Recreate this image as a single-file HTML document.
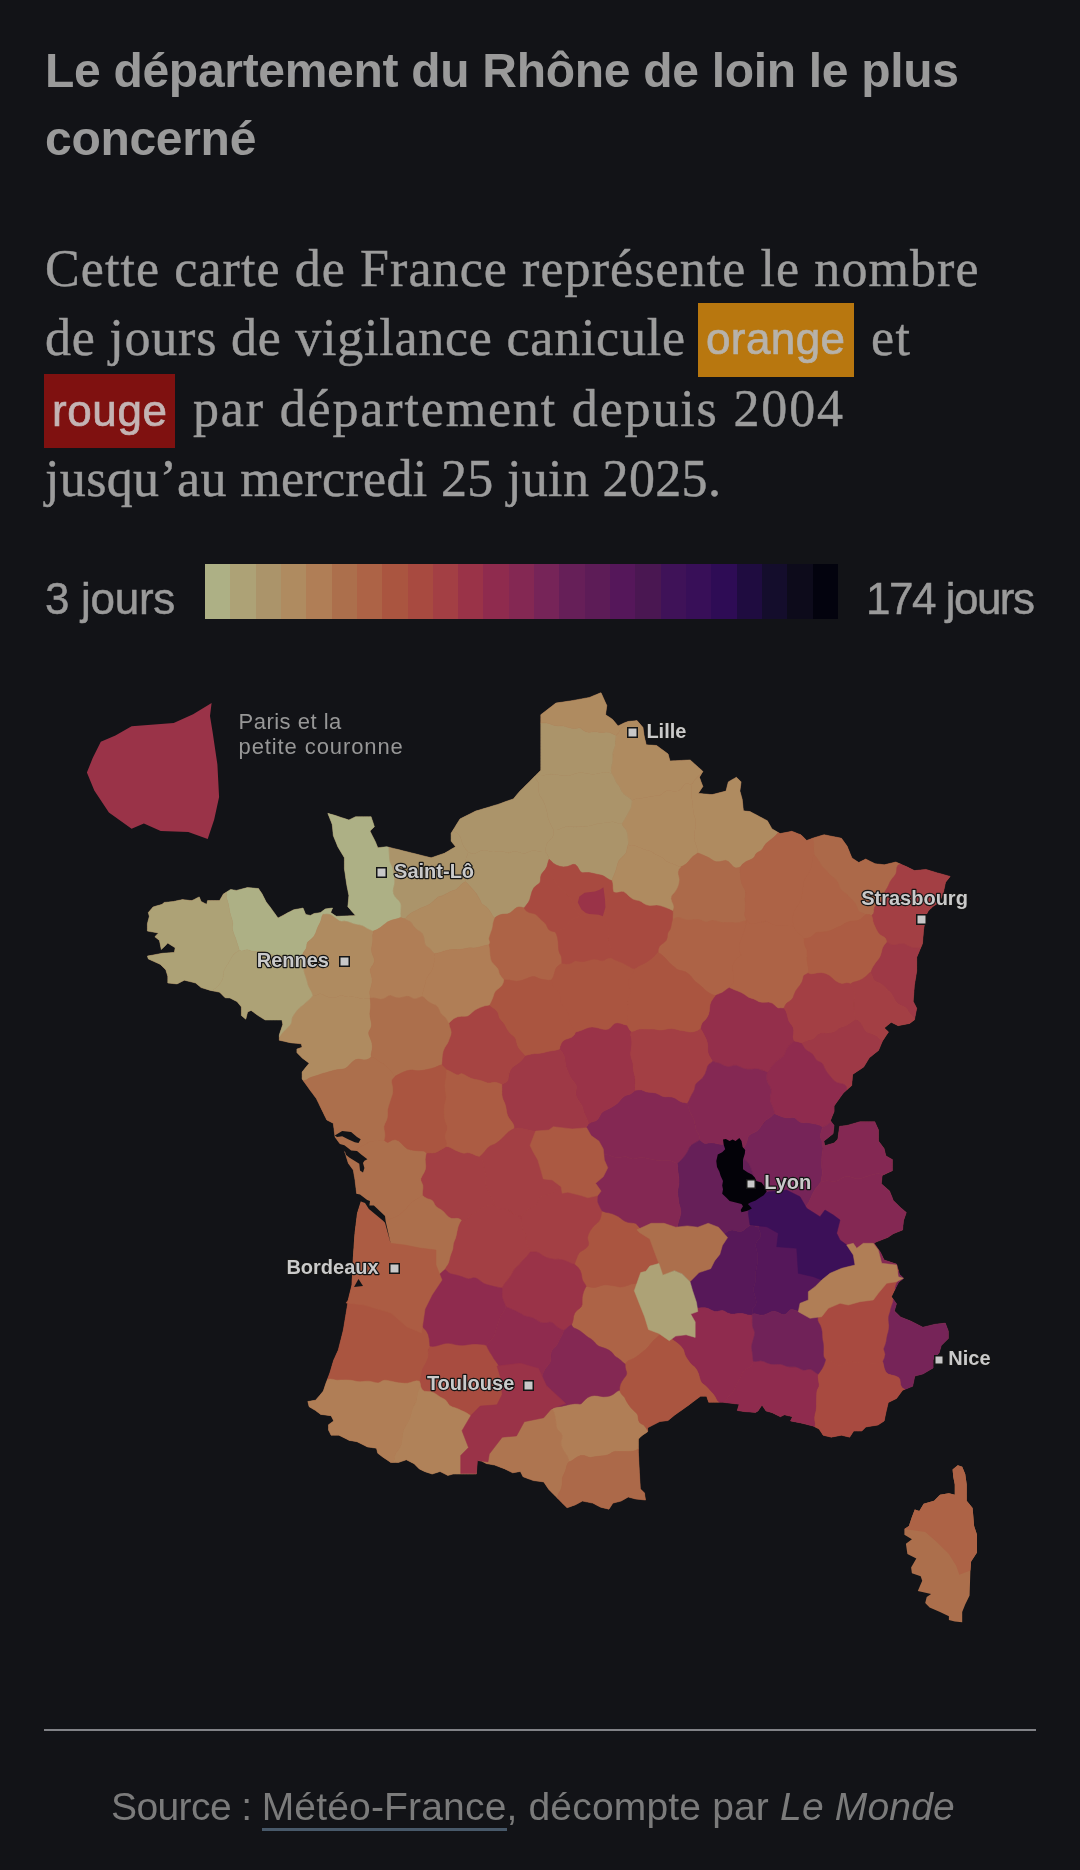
<!DOCTYPE html>
<html lang="fr">
<head>
<meta charset="utf-8">
<style>
html,body{margin:0;padding:0;}
body{width:1080px;height:1870px;background:#121317;overflow:hidden;position:relative;font-family:"Liberation Sans",sans-serif;}
.abs{position:absolute;white-space:nowrap;will-change:transform;}
#title{left:45px;top:37px;font-weight:700;font-size:48px;line-height:68px;color:#9a9a9a;letter-spacing:-0.3px;}
.body{font-family:"Liberation Serif",serif;font-size:52px;line-height:70px;color:#9c9c9c;left:45px;-webkit-text-stroke:0.45px #9c9c9c;}
.hl{font-family:"Liberation Sans",sans-serif;font-size:44px;line-height:50px;-webkit-text-stroke:0.7px currentColor;}
#leg3{left:45px;top:574px;font-size:44px;line-height:50px;-webkit-text-stroke:0.5px currentColor;color:#9a9a9a;letter-spacing:-0.3px;}
#leg174{left:866px;top:574px;font-size:44px;line-height:50px;-webkit-text-stroke:0.5px currentColor;color:#9a9a9a;letter-spacing:-1.5px;}
#legbar{left:205px;top:564px;width:633px;height:55px;display:flex;}
#legbar div{flex:1;height:100%;}
#sep{left:44px;top:1729px;width:992px;height:2px;background:#818287;}
#src{left:111px;top:1784px;font-size:39px;line-height:45px;letter-spacing:0.17px;color:#7b7b7b;}
#src u{text-decoration:none;border-bottom:3px solid #48596a;padding-bottom:0px;}
</style>
</head>
<body>
<div id="title" class="abs">Le département du Rhône de loin le plus<br>concerné</div>

<div class="abs body" style="top:234px;letter-spacing:1.08px">Cette carte de France représente le nombre</div>
<div class="abs body" style="top:303px;letter-spacing:0.76px">de jours de vigilance canicule</div>
<div class="abs" style="left:698px;top:303px;width:156px;height:74px;background:#b8770f;"></div>
<div class="abs hl" style="left:706px;top:314px;color:#b7b2aa;letter-spacing:0.4px">orange</div>
<div class="abs body" style="left:871px;top:303px;letter-spacing:1.4px">et</div>
<div class="abs" style="left:44px;top:374px;width:131px;height:74px;background:#7f1110;"></div>
<div class="abs hl" style="left:52px;top:386px;color:#c4b4b4;letter-spacing:0.6px">rouge</div>
<div class="abs body" style="left:193px;top:374px;letter-spacing:1.84px">par département depuis 2004</div>
<div class="abs body" style="top:444px;letter-spacing:0.34px">jusqu’au mercredi 25 juin 2025.</div>

<div id="leg3" class="abs">3 jours</div>
<div id="legbar" class="abs">
<div style="background:#adb085"></div>
<div style="background:#ada276"></div>
<div style="background:#ab946a"></div>
<div style="background:#af8b60"></div>
<div style="background:#b07e56"></div>
<div style="background:#ac6f4c"></div>
<div style="background:#ad6346"></div>
<div style="background:#aa5540"></div>
<div style="background:#a84a40"></div>
<div style="background:#a33f44"></div>
<div style="background:#9a3348"></div>
<div style="background:#8f2b4e"></div>
<div style="background:#842853"></div>
<div style="background:#762458"></div>
<div style="background:#661f58"></div>
<div style="background:#5d1c57"></div>
<div style="background:#55175a"></div>
<div style="background:#4a1752"></div>
<div style="background:#3f1258"></div>
<div style="background:#380f58"></div>
<div style="background:#2e0c55"></div>
<div style="background:#1f0c40"></div>
<div style="background:#140d2c"></div>
<div style="background:#0d0b1b"></div>
<div style="background:#03030e"></div>
</div>
<div id="leg174" class="abs">174 jours</div>

<svg class="abs" style="left:0;top:0" width="1080" height="1870" viewBox="0 0 1080 1870" id="map">
<polygon points="540.8,714.7 555.9,703.1 573.2,700.4 589.4,697.4 601.0,692.7 606.8,705.5 605.6,714.7 612.6,719.4 618.0,726.0 624.0,723.0 628.0,721.5 637.0,720.6 640.0,724.0 643.0,727.5 644.0,735.0 646.2,744.8 656.6,745.5 668.1,754.0 670.0,761.0 690.1,759.9 702.9,771.4 699.4,777.2 702.9,786.5 698.2,793.4 712.1,794.6 726.0,791.1 728.3,781.9 736.4,777.2 741.1,781.9 739.9,791.1 742.2,799.2 743.4,810.8 750.0,811.6 754.6,813.9 767.4,820.8 772.0,828.9 780.1,833.6 791.7,831.3 800.9,834.7 806.7,840.5 812.5,838.2 824.1,834.7 841.4,838.2 847.2,846.3 851.9,857.9 858.8,862.5 865.7,859.0 875.0,863.7 884.3,864.8 895.8,862.0 907.4,867.1 914.4,870.6 925.9,869.4 937.5,872.9 950.2,876.4 945.6,882.2 943.3,892.6 939.8,901.9 932.9,906.5 928.2,911.1 925.9,915.7 923.6,929.6 922.5,943.5 916.7,957.4 916.7,971.3 914.4,985.2 913.2,1001.4 916.7,1008.3 914.4,1019.9 909.7,1023.4 898.1,1025.7 891.2,1022.2 884.3,1028.0 888.5,1032.0 882.5,1041.0 878.5,1050.4 869.3,1057.8 863.7,1067.0 852.6,1074.4 851.7,1085.6 843.3,1093.0 834.1,1105.9 834.1,1111.5 830.4,1120.7 834.1,1125.4 833.1,1133.7 823.9,1141.1 824.8,1145.7 834.1,1143.0 837.8,1139.3 839.6,1126.3 847.0,1125.4 860.0,1121.7 874.8,1121.7 878.5,1130.0 878.5,1141.1 884.1,1148.5 885.9,1155.9 892.4,1159.6 892.4,1170.7 882.2,1175.4 881.3,1183.7 889.6,1191.1 893.3,1200.4 900.7,1207.8 906.3,1212.4 903.5,1220.7 902.6,1230.0 893.3,1233.7 887.8,1237.4 878.5,1241.1 873.9,1243.0 880.4,1252.2 884.2,1260.0 896.5,1264.1 899.5,1274.3 903.6,1278.3 898.5,1282.4 895.4,1288.5 891.4,1296.7 896.5,1303.8 894.4,1310.9 900.5,1317.0 910.7,1321.1 922.9,1327.2 935.2,1324.2 945.3,1323.1 948.4,1331.3 948.4,1338.4 941.3,1345.5 939.2,1352.7 933.1,1359.8 933.1,1368.0 922.9,1374.0 914.8,1376.1 912.7,1386.3 902.6,1390.3 896.5,1398.5 888.3,1402.6 886.3,1410.7 884.2,1420.9 878.1,1425.0 865.9,1427.0 861.8,1431.1 853.7,1431.1 849.6,1437.2 841.5,1435.2 831.3,1437.2 823.1,1435.2 819.1,1429.0 813.0,1426.0 800.7,1422.9 790.5,1420.9 792.6,1416.8 784.4,1414.8 780.4,1416.8 772.2,1412.7 766.0,1411.0 762.0,1405.0 758.0,1411.0 755.5,1412.5 743.3,1411.5 737.2,1410.4 739.2,1404.3 722.9,1402.3 708.7,1402.3 706.6,1396.2 700.5,1396.2 688.3,1405.4 674.1,1415.5 668.0,1420.6 659.8,1421.6 647.6,1427.8 647.6,1431.8 641.5,1435.9 638.4,1439.0 638.4,1452.2 639.4,1472.6 640.4,1488.9 644.5,1493.0 645.5,1500.1 635.4,1499.0 628.2,1497.0 621.1,1501.1 613.0,1503.1 608.9,1509.2 600.7,1507.2 592.6,1503.1 582.4,1501.1 575.0,1505.0 567.0,1507.8 559.3,1500.0 548.9,1489.6 543.7,1481.9 533.3,1480.6 523.0,1476.7 520.4,1471.5 512.6,1472.8 504.8,1468.9 494.5,1465.0 486.7,1463.7 481.5,1461.1 476.3,1459.8 476.3,1474.1 460.7,1474.1 453.0,1474.1 447.8,1475.4 440.0,1471.5 432.2,1474.1 424.5,1471.5 419.3,1468.9 414.1,1463.7 406.3,1459.8 398.5,1462.4 390.7,1462.4 383.0,1457.2 377.8,1453.3 376.5,1448.2 367.4,1446.9 357.0,1441.7 349.3,1440.4 338.9,1435.2 331.1,1435.2 328.5,1430.0 328.5,1424.8 333.7,1420.9 331.1,1415.7 320.7,1414.4 315.6,1410.6 309.1,1406.7 307.8,1401.5 315.6,1400.2 323.3,1391.1 325.9,1383.3 329.8,1373.0 333.7,1360.0 338.3,1350.0 343.3,1330.0 348.3,1300.0 352.0,1285.0 353.3,1258.3 355.0,1233.3 357.5,1213.3 361.7,1200.0 356.7,1194.2 355.0,1180.0 353.3,1170.0 348.3,1163.3 345.8,1155.0 343.3,1148.3 335.0,1137.0 333.3,1123.3 326.8,1120.0 316.2,1098.3 310.9,1091.3 302.1,1079.0 302.1,1072.0 309.2,1063.2 302.1,1057.9 296.9,1052.6 296.9,1049.1 302.1,1047.3 301.3,1043.8 291.6,1042.9 279.3,1040.3 279.3,1035.0 281.0,1029.7 282.8,1024.4 281.9,1020.0 265.2,1020.0 258.1,1015.6 251.1,1010.4 247.6,1012.1 245.8,1019.2 241.4,1015.6 241.4,1006.9 237.0,1001.6 230.0,998.0 225.2,997.8 219.6,992.2 210.4,990.4 201.1,987.6 195.6,983.0 184.4,980.2 177.0,983.9 167.8,983.0 167.8,976.5 165.9,970.0 160.4,964.4 148.3,958.9 147.4,956.1 162.2,953.3 174.3,952.4 175.2,947.8 167.8,943.1 161.3,949.6 159.4,940.4 154.8,936.7 158.5,933.0 147.4,931.1 147.4,923.7 149.3,916.3 148.3,912.6 153.0,907.0 162.2,904.3 164.1,902.4 173.3,901.5 182.6,899.6 191.9,900.6 199.3,896.9 201.1,901.5 206.7,904.3 207.6,900.6 219.6,900.6 223.3,894.1 230.7,889.4 236.3,890.4 247.4,887.6 258.5,888.5 262.2,894.1 265.9,901.5 271.5,908.9 278.0,918.1 288.1,912.6 293.7,909.8 303.0,908.0 305.7,914.4 310.4,915.4 314.1,913.5 320.6,912.6 325.2,908.9 332.6,908.0 330.7,912.6 336.3,916.3 355.6,915.6 347.8,906.7 348.9,895.6 346.7,884.4 344.4,868.9 344.4,857.8 337.8,846.7 333.3,835.6 332.2,824.4 327.8,813.3 335.6,815.6 348.9,820.0 355.6,816.7 371.1,816.7 374.4,826.7 370.0,831.1 375.6,842.2 377.8,847.8 386.7,846.7 408.9,852.2 431.1,857.8 444.4,853.3 455.6,846.7 451.1,841.1 451.1,833.3 460.0,818.9 475.6,811.1 497.8,804.4 513.3,798.9 520.0,791.1 531.1,780.0 540.8,770.3" fill="#ad6346"/>
<path d="M774.2,1113.5 L772.2,1115.4 L770.3,1117.2 L768.5,1118.5 L766.4,1119.7 L764.1,1121.8 L761.8,1124.9 L759.6,1128.3 L757.4,1130.8 L754.7,1132.3 L751.9,1133.4 L749.4,1135.0 L748.0,1137.0 L747.4,1139.0 L747.0,1141.3 L745.8,1144.2 L743.6,1147.8 L741.0,1151.1 L740.7,1153.4 L741.3,1156.0 L742.9,1158.2 L745.1,1159.9 L747.0,1161.4 L748.7,1163.3 L750.2,1166.4 L751.6,1170.2 L752.7,1173.7 L753.7,1176.2 L754.7,1177.8 L756.1,1179.4 L757.8,1181.9 L759.1,1185.3 L759.7,1189.0 L760.0,1192.2 L761.1,1194.8 L763.3,1197.2 L766.3,1199.7 L769.0,1202.5 L770.6,1205.0 L771.5,1207.1 L772.4,1209.1 L773.8,1211.7 L775.3,1215.0 L778.3,1216.0 L781.1,1216.8 L784.0,1216.9 L787.0,1216.4 L790.2,1215.8 L793.1,1215.4 L795.6,1215.3 L797.6,1215.4 L798.0,1212.9 L799.2,1211.2 L801.6,1209.5 L804.5,1207.4 L806.9,1205.0 L808.5,1202.8 L809.7,1200.3 L811.1,1197.2 L812.8,1193.6 L814.4,1190.5 L815.7,1188.5 L817.0,1187.0 L818.7,1185.0 L820.8,1182.0 L821.5,1178.3 L822.1,1174.9 L822.3,1172.3 L822.1,1170.1 L821.8,1167.7 L821.7,1164.5 L821.7,1160.6 L821.9,1156.5 L822.2,1153.1 L822.7,1150.6 L823.0,1148.8 L822.7,1146.8 L822.2,1144.0 L821.9,1140.8 L820.5,1137.5 L820.7,1133.6 L821.7,1130.0 L822.8,1126.9 L819.9,1125.3 L816.8,1124.3 L814.0,1123.7 L811.4,1123.2 L808.9,1122.7 L806.2,1122.6 L803.4,1122.7 L800.7,1122.3 L798.4,1121.0 L796.6,1119.2 L794.9,1117.8 L792.6,1117.5 L789.4,1117.8 L785.6,1117.7 L781.9,1116.7 L778.9,1115.4 L776.5,1114.4Z" fill="#762458" stroke="#762458" stroke-width="0.5"/>
<path d="M628.1,844.6 L629.8,845.2 L631.6,845.0 L634.2,845.4 L637.7,846.7 L641.9,848.6 L645.8,850.1 L649.0,850.8 L651.3,851.6 L653.4,852.9 L655.8,854.4 L658.4,855.7 L660.9,856.8 L662.8,858.1 L664.6,859.8 L666.7,861.5 L669.4,862.8 L672.5,863.8 L675.6,864.9 L678.2,866.2 L680.6,867.0 L683.7,865.4 L686.3,863.8 L688.4,861.6 L690.6,858.9 L693.1,856.3 L695.8,854.4 L697.9,853.0 L697.6,850.5 L697.0,847.8 L696.0,844.8 L695.0,841.7 L694.3,838.6 L694.2,835.5 L694.6,832.2 L695.2,828.8 L695.7,825.3 L695.8,822.0 L695.4,819.2 L694.7,816.7 L693.9,814.2 L693.3,811.4 L693.0,808.2 L692.8,804.7 L692.4,801.4 L691.8,798.6 L691.3,796.2 L691.2,793.8 L691.4,791.1 L691.6,787.9 L690.9,784.4 L687.9,783.5 L685.6,783.7 L683.5,785.6 L681.3,788.5 L678.6,790.8 L675.3,791.6 L671.8,791.1 L668.5,790.5 L665.9,791.0 L663.7,792.5 L661.8,794.3 L659.6,795.5 L656.9,795.8 L653.8,796.0 L650.3,796.4 L646.6,797.2 L642.8,798.0 L639.3,798.4 L636.2,798.7 L633.8,799.4 L632.0,800.8 L631.6,804.1 L631.0,807.3 L629.8,810.1 L628.4,812.6 L626.9,815.2 L625.3,818.1 L623.6,821.0 L621.8,823.5 L622.4,825.6 L623.6,827.1 L625.0,828.6 L626.4,830.8 L627.3,833.7 L627.8,837.2 L628.0,840.9Z" fill="#af8b60" stroke="#af8b60" stroke-width="0.5"/>
<path d="M677.3,1163.6 L679.2,1162.0 L681.8,1159.5 L684.9,1155.8 L687.4,1152.0 L688.9,1149.1 L689.7,1147.2 L691.0,1145.6 L693.4,1143.8 L696.7,1141.9 L700.0,1140.0 L699.6,1136.7 L698.4,1134.1 L697.0,1131.8 L695.9,1129.3 L695.3,1126.2 L694.7,1122.7 L693.9,1119.4 L692.6,1116.7 L691.2,1114.3 L689.9,1111.9 L688.9,1109.1 L688.1,1106.1 L687.4,1103.3 L684.7,1102.5 L682.4,1102.2 L680.4,1101.6 L678.2,1100.2 L675.4,1098.3 L672.0,1097.0 L668.4,1096.7 L665.1,1096.8 L662.2,1096.2 L659.2,1094.6 L655.9,1093.1 L652.2,1092.4 L648.8,1092.3 L646.0,1091.8 L643.8,1090.8 L641.6,1089.9 L638.8,1089.8 L635.2,1090.3 L632.3,1092.7 L630.0,1094.2 L627.9,1094.8 L625.5,1095.5 L623.1,1097.1 L621.0,1099.3 L619.1,1101.6 L617.2,1103.5 L614.8,1105.2 L611.6,1107.2 L608.1,1109.1 L605.0,1110.5 L602.7,1111.8 L601.1,1113.6 L599.7,1116.2 L598.0,1118.9 L595.9,1120.8 L593.5,1121.6 L591.0,1122.3 L588.5,1123.7 L586.9,1126.2 L585.2,1128.5 L584.1,1130.5 L583.7,1132.8 L583.8,1136.0 L583.7,1140.1 L582.9,1144.3 L583.6,1148.3 L583.9,1151.2 L584.3,1152.9 L585.1,1154.0 L588.2,1154.2 L591.6,1155.0 L594.9,1156.1 L597.7,1156.6 L600.3,1156.0 L602.9,1154.9 L605.9,1154.5 L609.4,1155.3 L613.2,1156.7 L617.1,1157.5 L620.6,1157.2 L623.6,1156.7 L626.2,1156.8 L628.6,1157.8 L631.0,1158.8 L633.7,1158.9 L636.8,1158.2 L640.0,1157.5 L643.4,1157.5 L646.8,1158.2 L649.9,1159.1 L652.7,1159.6 L655.2,1159.9 L657.7,1160.2 L660.4,1160.5 L663.3,1160.6 L666.4,1160.5 L669.5,1160.6 L672.4,1161.2 L674.9,1162.4Z" fill="#842853" stroke="#842853" stroke-width="0.5"/>
<path d="M893.3,1299.3 L892.3,1298.0 L891.4,1296.7 L892.7,1294.1 L893.9,1291.5 L895.2,1289.0 L895.7,1286.0 L896.5,1283.7 L897.4,1281.7 L898.5,1279.8 L898.2,1276.5 L898.1,1273.3 L898.5,1270.8 L898.0,1269.2 L895.3,1267.3 L891.9,1267.4 L888.4,1268.9 L885.2,1269.9 L882.6,1269.6 L880.5,1268.3 L878.5,1266.8 L875.9,1265.9 L872.7,1265.9 L868.9,1266.3 L865.0,1266.9 L861.6,1267.4 L859.0,1267.8 L856.8,1267.9 L854.6,1267.5 L852.1,1266.8 L849.0,1266.1 L845.4,1265.9 L843.9,1268.7 L842.2,1270.9 L840.3,1272.9 L838.5,1275.3 L837.4,1278.3 L837.0,1281.4 L836.6,1284.2 L835.4,1286.8 L833.0,1289.6 L830.2,1292.5 L827.7,1295.0 L825.9,1296.4 L824.6,1297.3 L823.2,1298.6 L821.7,1300.9 L820.5,1303.9 L819.9,1306.9 L819.4,1309.4 L819.3,1312.7 L818.4,1315.7 L817.7,1318.2 L817.7,1320.4 L818.7,1322.7 L820.2,1325.3 L821.3,1328.4 L822.0,1331.7 L822.1,1334.7 L822.2,1337.3 L822.5,1339.6 L823.0,1342.1 L823.4,1345.1 L823.5,1348.7 L823.4,1352.2 L823.4,1355.0 L823.8,1357.0 L824.6,1358.3 L825.6,1359.7 L828.2,1359.5 L831.1,1361.0 L834.5,1363.5 L838.2,1365.3 L841.8,1365.2 L845.2,1363.6 L848.1,1361.9 L850.6,1361.4 L852.9,1361.9 L855.3,1362.5 L857.9,1362.5 L860.8,1361.9 L863.9,1361.6 L867.0,1362.2 L870.2,1363.2 L873.3,1363.8 L876.5,1363.3 L879.7,1362.4 L882.8,1361.7 L884.6,1357.8 L885.3,1354.3 L884.7,1351.7 L884.0,1349.9 L883.9,1348.4 L884.7,1346.4 L885.7,1343.8 L886.4,1340.8 L886.8,1337.9 L887.4,1335.1 L888.2,1332.3 L888.9,1329.1 L889.1,1325.4 L888.8,1321.9 L888.6,1318.9 L888.7,1316.6 L889.2,1314.5 L890.1,1311.9 L890.7,1309.0 L891.7,1305.7 L893.1,1302.1Z" fill="#a84a40" stroke="#a84a40" stroke-width="0.5"/>
<path d="M895.2,1289.0 L895.4,1288.5 L896.4,1286.5 L897.5,1284.4 L898.5,1282.4 L900.2,1281.0 L901.9,1279.7 L903.6,1278.3 L901.5,1276.3 L899.5,1274.3 L899.0,1272.6 L898.5,1270.8 L898.1,1273.3 L898.2,1276.5 L898.5,1279.8 L897.4,1281.7 L896.5,1283.7 L895.7,1286.0ZM882.8,1361.7 L883.5,1365.0 L884.4,1368.8 L885.8,1372.1 L888.1,1374.1 L891.6,1375.1 L895.4,1376.0 L898.5,1377.4 L899.9,1379.4 L900.2,1381.8 L900.5,1384.7 L902.0,1387.7 L904.8,1389.4 L907.4,1388.4 L910.1,1387.3 L912.7,1386.3 L913.2,1383.8 L913.8,1381.2 L914.3,1378.6 L914.8,1376.1 L917.5,1375.4 L920.2,1374.7 L922.9,1374.0 L925.5,1372.5 L928.0,1371.0 L930.5,1369.5 L933.1,1368.0 L933.1,1365.3 L933.1,1362.5 L933.1,1359.8 L934.6,1358.0 L936.2,1356.2 L937.7,1354.5 L939.2,1352.7 L939.9,1350.3 L940.6,1347.9 L941.3,1345.5 L943.1,1343.7 L944.8,1342.0 L946.6,1340.2 L948.4,1338.4 L948.4,1336.0 L948.4,1333.7 L948.4,1331.3 L947.4,1328.6 L946.3,1325.8 L945.3,1323.1 L942.8,1323.4 L940.2,1323.7 L937.7,1323.9 L935.2,1324.2 L932.7,1324.8 L930.3,1325.4 L927.8,1326.0 L925.4,1326.6 L922.9,1327.2 L920.5,1326.0 L918.0,1324.8 L915.6,1323.5 L913.1,1322.3 L910.7,1321.1 L908.2,1320.1 L905.6,1319.0 L903.0,1318.0 L900.5,1317.0 L898.5,1315.0 L896.4,1312.9 L894.4,1310.9 L895.1,1308.5 L895.8,1306.2 L896.5,1303.8 L894.9,1301.6 L893.3,1299.3 L893.1,1302.1 L891.7,1305.7 L890.7,1309.0 L890.1,1311.9 L889.2,1314.5 L888.7,1316.6 L888.6,1318.9 L888.8,1321.9 L889.1,1325.4 L888.9,1329.1 L888.2,1332.3 L887.4,1335.1 L886.8,1337.9 L886.4,1340.8 L885.7,1343.8 L884.7,1346.4 L883.9,1348.4 L884.0,1349.9 L884.7,1351.7 L885.3,1354.3 L884.6,1357.8Z" fill="#762458" stroke="#762458" stroke-width="0.5"/>
<path d="M752.7,1313.9 L752.3,1311.0 L752.5,1309.0 L753.7,1307.4 L755.3,1305.4 L756.3,1302.5 L755.9,1299.0 L754.7,1295.2 L753.7,1291.6 L753.6,1288.3 L754.4,1285.2 L755.3,1282.0 L755.7,1278.8 L755.7,1275.6 L755.7,1272.8 L756.0,1270.3 L756.5,1267.9 L757.0,1265.3 L757.5,1262.4 L757.8,1259.2 L757.7,1255.9 L757.2,1252.5 L756.3,1249.1 L755.6,1245.9 L756.0,1242.9 L757.5,1240.4 L759.5,1238.2 L760.8,1236.2 L760.7,1233.8 L759.4,1230.8 L758.0,1227.2 L755.3,1226.2 L752.6,1225.2 L749.8,1225.5 L746.9,1227.4 L744.0,1229.9 L741.2,1231.5 L738.3,1231.5 L735.2,1230.5 L732.0,1229.9 L728.8,1230.7 L725.9,1232.4 L723.2,1234.0 L720.5,1234.6 L717.7,1234.4 L714.5,1234.2 L711.0,1234.6 L707.7,1235.6 L704.7,1236.5 L702.3,1236.9 L700.1,1237.1 L697.5,1237.4 L694.3,1238.2 L690.5,1239.4 L686.5,1240.2 L683.0,1240.7 L680.2,1240.8 L678.0,1241.0 L677.2,1242.7 L676.4,1244.7 L676.3,1248.9 L675.4,1252.6 L673.9,1255.2 L672.7,1257.0 L672.4,1258.7 L672.8,1261.1 L673.2,1264.4 L672.8,1267.9 L671.9,1270.9 L670.9,1273.6 L670.0,1276.3 L669.1,1279.5 L668.2,1283.0 L667.7,1286.3 L669.0,1288.9 L670.1,1291.8 L670.9,1294.7 L671.1,1297.1 L671.4,1299.1 L672.2,1300.9 L674.0,1303.0 L677.9,1302.8 L681.5,1303.2 L684.3,1304.1 L686.4,1305.0 L688.1,1305.8 L690.0,1306.6 L692.4,1307.3 L695.5,1307.9 L698.8,1308.0 L702.0,1307.7 L705.2,1307.7 L708.2,1308.6 L711.4,1310.2 L714.6,1311.4 L717.7,1311.4 L720.3,1310.8 L722.6,1310.5 L724.9,1311.4 L727.5,1313.0 L730.8,1314.1 L734.6,1314.1 L738.5,1313.6 L742.2,1313.5 L745.3,1314.2 L747.8,1315.0 L750.0,1315.2 L752.1,1315.2Z" fill="#571859" stroke="#571859" stroke-width="0.5"/>
<path d="M740.3,867.0 L742.7,864.0 L746.2,861.5 L749.9,859.9 L752.8,858.5 L754.5,856.7 L755.5,854.5 L756.8,852.9 L758.8,851.8 L760.9,850.7 L762.7,848.8 L764.1,846.3 L765.8,843.8 L768.5,841.4 L772.0,838.8 L775.4,835.8 L777.4,833.5 L778.2,832.5 L776.1,831.3 L774.1,830.1 L772.0,828.9 L770.9,826.9 L769.7,824.8 L768.5,822.8 L767.4,820.8 L764.8,819.4 L762.3,818.0 L759.7,816.7 L757.2,815.3 L754.6,813.9 L752.3,812.8 L750.0,811.6 L747.8,811.3 L745.6,811.1 L743.4,810.8 L743.1,807.9 L742.8,805.0 L742.5,802.1 L742.2,799.2 L741.4,796.5 L740.7,793.8 L739.9,791.1 L740.2,788.8 L740.5,786.5 L740.8,784.2 L741.1,781.9 L739.5,780.3 L738.0,778.8 L736.4,777.2 L734.4,778.4 L732.3,779.5 L730.3,780.7 L728.3,781.9 L727.7,784.2 L727.1,786.5 L726.6,788.8 L726.0,791.1 L723.2,791.8 L720.4,792.5 L717.7,793.2 L714.9,793.9 L712.1,794.6 L709.3,794.4 L706.5,794.1 L703.8,793.9 L701.0,793.6 L698.2,793.4 L699.8,791.1 L701.3,788.8 L702.9,786.5 L702.0,784.2 L701.1,781.9 L700.3,779.5 L699.4,777.2 L700.6,775.3 L701.7,773.3 L702.9,771.4 L702.7,771.2 L701.0,773.3 L699.0,775.5 L697.0,777.6 L694.9,779.8 L693.8,781.6 L692.5,783.2 L690.9,784.4 L691.6,787.9 L691.4,791.1 L691.2,793.8 L691.3,796.2 L691.8,798.6 L692.4,801.4 L692.8,804.7 L693.0,808.2 L693.3,811.4 L693.9,814.2 L694.7,816.7 L695.4,819.2 L695.8,822.0 L695.7,825.3 L695.2,828.8 L694.6,832.2 L694.2,835.5 L694.3,838.6 L695.0,841.7 L696.0,844.8 L697.0,847.8 L697.6,850.5 L697.9,853.0 L700.4,853.9 L703.4,855.2 L706.4,856.5 L709.0,857.8 L711.2,859.2 L713.5,860.7 L716.2,861.8 L719.4,861.8 L722.7,860.9 L725.7,860.4 L728.3,861.5 L730.8,864.1 L733.2,866.7 L735.7,868.0 L738.1,867.7Z" fill="#af8b60" stroke="#af8b60" stroke-width="0.5"/>
<path d="M516.6,1399.9 L514.2,1402.0 L512.2,1403.5 L510.5,1404.4 L508.7,1405.2 L506.4,1406.9 L503.7,1409.6 L500.8,1412.4 L498.4,1414.4 L496.6,1415.8 L494.9,1417.0 L492.8,1418.5 L489.9,1420.1 L486.8,1421.7 L484.1,1423.2 L483.9,1426.2 L484.0,1429.8 L483.6,1433.7 L482.5,1437.3 L481.0,1440.2 L479.9,1442.6 L479.6,1445.0 L479.6,1447.8 L479.1,1451.0 L478.1,1453.8 L476.9,1455.9 L476.3,1457.4 L476.0,1460.3 L475.2,1462.4 L474.3,1464.8 L472.9,1467.4 L471.6,1470.4 L472.7,1474.1 L474.5,1474.1 L476.3,1474.1 L476.3,1471.2 L476.3,1468.4 L476.3,1465.5 L476.3,1462.7 L476.3,1459.8 L478.9,1460.4 L481.5,1461.1 L484.1,1462.4 L486.7,1463.7 L489.3,1464.1 L491.9,1464.6 L494.5,1465.0 L497.1,1466.0 L499.6,1467.0 L502.2,1467.9 L504.8,1468.9 L507.4,1470.2 L510.0,1471.5 L512.6,1472.8 L515.2,1472.4 L517.8,1471.9 L520.4,1471.5 L521.7,1474.1 L523.0,1476.7 L525.6,1477.7 L528.1,1478.7 L530.7,1479.6 L533.3,1480.6 L535.9,1480.9 L538.5,1481.2 L541.1,1481.6 L543.7,1481.9 L545.0,1483.8 L546.3,1485.8 L547.6,1487.7 L548.9,1489.6 L550.6,1491.3 L552.3,1493.0 L554.1,1494.8 L555.8,1496.5 L557.5,1498.2 L558.1,1494.5 L559.1,1492.5 L560.4,1490.7 L561.5,1488.0 L562.2,1484.6 L562.3,1481.1 L562.4,1478.2 L563.1,1475.9 L564.2,1473.8 L565.3,1471.3 L566.1,1468.5 L566.8,1465.8 L567.7,1463.7 L569.0,1461.8 L568.9,1459.4 L567.6,1456.3 L565.1,1452.5 L562.5,1448.3 L561.2,1444.5 L561.3,1441.1 L562.2,1438.2 L562.4,1435.6 L561.4,1433.3 L559.5,1431.3 L557.7,1429.5 L556.8,1427.5 L556.4,1424.6 L556.0,1420.8 L555.3,1416.4 L554.3,1412.5 L553.1,1410.0 L552.0,1408.7 L550.0,1409.2 L547.3,1408.7 L544.4,1406.8 L541.7,1404.3 L539.3,1402.1 L537.0,1400.5 L534.2,1398.9 L531.7,1399.4 L529.2,1399.5 L526.7,1399.5 L524.1,1399.5 L521.5,1399.6 L519.0,1399.8Z" fill="#ae7550" stroke="#ae7550" stroke-width="0.5"/>
<path d="M746.4,920.7 L744.3,920.6 L741.6,921.5 L738.4,922.3 L735.0,922.4 L731.7,922.0 L728.7,921.9 L725.6,922.1 L722.5,922.2 L719.2,921.6 L716.0,920.5 L712.9,919.9 L710.3,920.3 L708.0,921.3 L705.9,921.7 L703.6,921.0 L701.0,919.7 L697.8,918.9 L694.2,919.1 L690.3,919.7 L686.4,919.6 L682.9,918.5 L679.8,917.3 L677.2,917.0 L674.9,917.9 L672.5,919.4 L671.5,923.4 L670.9,927.0 L670.0,929.6 L668.8,931.3 L667.8,932.9 L667.4,935.0 L667.2,937.8 L666.1,940.5 L664.0,942.6 L661.4,944.4 L659.3,946.4 L658.3,949.2 L658.0,952.5 L661.4,954.6 L664.9,957.7 L667.7,960.8 L669.6,962.9 L671.0,964.3 L672.8,965.8 L674.9,967.6 L677.1,969.4 L679.3,970.3 L682.0,970.8 L685.2,971.8 L688.7,974.0 L691.5,976.9 L693.4,979.4 L694.6,981.0 L696.2,982.2 L698.5,983.9 L701.3,986.3 L703.9,988.8 L706.2,991.0 L708.4,992.6 L710.9,993.9 L713.4,994.9 L715.4,995.6 L718.1,994.4 L720.3,993.6 L722.3,992.7 L724.3,991.3 L726.7,989.4 L729.5,987.6 L731.7,984.8 L733.1,983.0 L733.6,981.2 L733.5,978.9 L733.4,976.0 L733.1,972.7 L732.8,969.2 L732.9,965.5 L734.1,961.9 L736.5,958.8 L739.2,956.7 L740.8,955.3 L740.8,954.0 L739.8,951.7 L739.1,948.3 L739.5,944.1 L740.7,940.1 L742.1,936.7 L743.3,933.5 L744.5,930.2 L745.6,926.7 L746.4,923.4Z" fill="#ad6346" stroke="#ad6346" stroke-width="0.5"/>
<path d="M619.5,1390.3 L617.6,1391.1 L615.6,1392.6 L613.0,1394.5 L609.9,1395.9 L606.5,1396.6 L603.2,1396.7 L600.2,1396.2 L597.3,1395.7 L594.3,1395.5 L591.0,1396.0 L587.7,1397.5 L584.8,1399.9 L582.7,1402.2 L581.2,1403.7 L579.9,1404.1 L577.9,1403.8 L574.7,1403.7 L570.3,1404.3 L565.5,1405.4 L561.0,1406.4 L557.6,1406.8 L555.2,1406.8 L553.6,1407.3 L552.0,1408.7 L553.1,1410.0 L554.3,1412.5 L555.3,1416.4 L556.0,1420.8 L556.4,1424.6 L556.8,1427.5 L557.7,1429.5 L559.5,1431.3 L561.4,1433.3 L562.4,1435.6 L562.2,1438.2 L561.3,1441.1 L561.2,1444.5 L562.5,1448.3 L565.1,1452.5 L567.6,1456.3 L568.9,1459.4 L569.0,1461.8 L571.1,1461.2 L573.9,1459.2 L577.2,1456.9 L580.8,1455.5 L584.1,1455.5 L586.8,1456.4 L588.8,1457.3 L590.8,1457.5 L593.2,1457.0 L596.4,1456.5 L600.2,1456.1 L604.1,1455.7 L607.5,1455.0 L610.1,1453.8 L611.9,1452.6 L613.7,1451.8 L615.8,1451.4 L618.6,1451.5 L622.0,1451.5 L625.7,1451.5 L629.2,1451.4 L632.5,1451.2 L635.7,1450.5 L638.4,1448.7 L638.4,1446.3 L638.4,1443.9 L638.4,1441.4 L638.4,1439.0 L640.0,1437.5 L641.5,1435.9 L643.5,1434.5 L645.6,1433.2 L647.6,1431.8 L647.6,1430.4 L645.7,1427.4 L643.7,1424.9 L641.7,1424.0 L639.8,1422.7 L638.6,1420.5 L638.2,1417.9 L637.9,1415.5 L636.8,1413.4 L634.4,1411.2 L631.2,1408.1 L628.3,1404.2 L626.1,1400.4 L624.7,1397.6 L623.4,1396.0 L622.2,1394.9 L620.9,1393.1Z" fill="#b07e56" stroke="#b07e56" stroke-width="0.5"/>
<path d="M667.6,1328.7 L667.8,1326.2 L667.5,1323.8 L667.6,1321.5 L668.7,1319.5 L670.5,1317.7 L672.3,1315.9 L673.5,1313.4 L673.9,1310.1 L673.9,1306.4 L674.0,1303.0 L672.2,1300.9 L671.4,1299.1 L671.1,1297.1 L670.9,1294.7 L670.1,1291.8 L669.0,1288.9 L667.7,1286.3 L664.9,1286.5 L662.1,1286.1 L658.9,1285.0 L655.5,1284.4 L651.9,1285.0 L648.6,1286.7 L645.8,1288.1 L643.5,1288.1 L641.3,1286.4 L638.7,1284.3 L635.4,1283.4 L631.4,1284.0 L627.1,1285.6 L623.1,1286.8 L619.9,1287.0 L617.4,1286.6 L615.3,1286.0 L613.3,1285.7 L610.9,1285.3 L608.0,1284.9 L605.0,1284.8 L601.9,1285.3 L599.1,1286.3 L596.3,1287.2 L593.2,1287.5 L589.9,1287.0 L586.2,1286.2 L584.7,1289.0 L583.6,1291.7 L582.8,1294.5 L582.2,1297.6 L582.1,1301.0 L582.1,1304.2 L581.4,1306.6 L579.6,1308.4 L577.1,1310.2 L574.8,1312.9 L573.6,1316.2 L573.2,1319.5 L572.6,1322.2 L571.5,1324.7 L572.5,1326.6 L573.9,1327.9 L576.6,1329.1 L580.2,1331.0 L583.7,1333.7 L586.5,1336.1 L588.5,1337.6 L590.3,1338.5 L592.3,1339.9 L594.4,1342.1 L596.6,1344.5 L598.9,1346.3 L601.9,1347.3 L605.6,1348.5 L609.3,1350.3 L612.1,1352.6 L613.7,1354.6 L614.7,1355.9 L616.1,1356.9 L618.1,1358.2 L620.5,1360.1 L622.8,1362.2 L625.1,1364.1 L626.8,1361.9 L628.6,1360.5 L630.9,1359.7 L633.7,1358.5 L636.8,1356.5 L640.0,1353.9 L642.8,1351.7 L645.2,1349.9 L647.3,1347.9 L649.5,1345.3 L651.7,1342.5 L653.7,1340.3 L655.5,1338.7 L657.5,1337.0 L659.9,1334.6 L662.8,1332.0 L665.5,1329.9Z" fill="#ad6346" stroke="#ad6346" stroke-width="0.5"/>
<path d="M818.2,1374.2 L815.4,1372.5 L812.9,1370.5 L810.5,1369.2 L808.1,1369.2 L805.6,1369.9 L803.1,1370.0 L800.7,1369.1 L798.2,1367.7 L795.4,1366.8 L792.4,1366.8 L789.2,1366.8 L786.3,1366.2 L783.5,1365.0 L780.7,1364.2 L777.6,1364.1 L774.0,1364.3 L770.3,1363.9 L766.6,1362.7 L763.5,1361.3 L760.7,1360.8 L758.3,1361.1 L755.8,1361.5 L753.3,1361.2 L752.5,1364.2 L751.3,1366.3 L749.4,1367.6 L746.7,1368.7 L744.2,1370.4 L742.4,1372.8 L741.5,1375.2 L740.6,1377.5 L739.2,1380.1 L737.2,1383.2 L735.5,1386.4 L734.4,1389.2 L733.5,1391.1 L732.3,1392.7 L730.2,1394.8 L727.7,1397.8 L725.6,1400.7 L724.7,1402.5 L727.6,1402.9 L730.5,1403.2 L733.4,1403.6 L736.3,1403.9 L739.2,1404.3 L738.5,1406.3 L737.9,1408.4 L737.2,1410.4 L739.2,1410.8 L741.3,1411.1 L743.3,1411.5 L745.7,1411.7 L748.2,1411.9 L750.6,1412.1 L753.1,1412.3 L755.5,1412.5 L758.0,1411.0 L759.3,1409.0 L760.7,1407.0 L762.0,1405.0 L763.3,1407.0 L764.7,1409.0 L766.0,1411.0 L768.1,1411.6 L770.1,1412.1 L772.2,1412.7 L774.2,1413.7 L776.3,1414.8 L778.4,1415.8 L780.4,1416.8 L782.4,1415.8 L784.4,1414.8 L787.1,1415.5 L789.9,1416.1 L792.6,1416.8 L791.5,1418.8 L790.5,1420.9 L793.0,1421.4 L795.6,1421.9 L798.2,1422.4 L800.7,1422.9 L803.2,1423.5 L805.6,1424.1 L808.1,1424.8 L810.5,1425.4 L813.0,1426.0 L815.1,1427.0 L815.4,1423.5 L814.8,1420.5 L814.7,1417.6 L815.1,1414.6 L815.8,1412.1 L816.2,1410.1 L816.4,1408.2 L816.5,1405.8 L816.5,1402.5 L816.6,1398.6 L816.7,1394.8 L816.9,1391.7 L817.5,1389.6 L818.3,1388.1 L819.0,1386.6 L819.2,1384.5 L818.7,1381.6 L818.2,1378.1Z" fill="#8f2b4e" stroke="#8f2b4e" stroke-width="0.5"/>
<path d="M400.6,917.4 L403.0,918.5 L405.3,918.8 L407.5,916.1 L410.1,913.7 L413.0,912.1 L415.8,910.8 L418.2,909.6 L420.4,908.3 L423.0,907.2 L426.2,906.1 L429.7,904.3 L432.9,901.8 L435.5,899.2 L437.3,897.4 L439.3,896.6 L441.8,895.9 L445.1,894.5 L448.6,892.6 L451.5,891.1 L453.7,890.4 L455.3,890.0 L457.1,888.8 L459.5,886.3 L462.4,883.5 L465.5,881.5 L465.7,879.4 L466.0,877.5 L466.3,875.3 L466.5,872.5 L466.4,869.0 L466.0,865.2 L465.7,861.5 L466.0,858.4 L466.9,856.1 L467.8,854.1 L468.2,852.1 L466.4,849.9 L464.4,847.4 L462.6,844.3 L461.5,840.9 L460.7,837.7 L459.3,835.2 L456.9,833.1 L454.4,831.4 L453.6,829.3 L452.3,831.3 L451.1,833.3 L451.1,835.9 L451.1,838.5 L451.1,841.1 L452.6,843.0 L454.1,844.8 L455.6,846.7 L453.4,848.0 L451.1,849.3 L448.9,850.7 L446.6,852.0 L444.4,853.3 L441.7,854.2 L439.1,855.1 L436.4,856.0 L433.8,856.9 L431.1,857.8 L428.3,857.1 L425.6,856.4 L422.8,855.7 L420.0,855.0 L417.2,854.3 L414.4,853.6 L411.7,852.9 L408.9,852.2 L406.3,851.6 L403.7,850.9 L401.2,850.3 L398.6,849.6 L396.0,849.0 L393.4,848.4 L390.8,847.7 L388.3,847.1 L388.7,849.9 L388.9,853.4 L389.0,857.0 L389.3,860.1 L389.9,862.4 L390.6,864.1 L391.5,865.8 L392.4,868.1 L393.2,871.4 L393.9,875.3 L394.3,879.3 L394.3,882.7 L393.8,885.7 L393.1,888.3 L392.8,890.9 L393.2,893.6 L394.6,896.3 L396.6,898.7 L398.7,900.8 L400.2,903.0 L400.8,905.8 L400.6,909.3 L400.4,913.4Z" fill="#ab946a" stroke="#ab946a" stroke-width="0.5"/>
<path d="M586.2,1286.2 L589.9,1287.0 L593.2,1287.5 L596.3,1287.2 L599.1,1286.3 L601.9,1285.3 L605.0,1284.8 L608.0,1284.9 L610.9,1285.3 L613.3,1285.7 L615.3,1286.0 L617.4,1286.6 L619.9,1287.0 L623.1,1286.8 L627.1,1285.6 L631.4,1284.0 L635.4,1283.4 L638.7,1284.3 L641.3,1286.4 L643.5,1288.1 L645.8,1288.1 L648.6,1286.7 L651.9,1285.0 L655.5,1284.4 L658.9,1285.0 L662.1,1286.1 L664.9,1286.5 L667.7,1286.3 L668.2,1283.0 L669.1,1279.5 L670.0,1276.3 L670.9,1273.6 L671.9,1270.9 L672.8,1267.9 L673.2,1264.4 L672.8,1261.1 L672.4,1258.7 L672.7,1257.0 L673.9,1255.2 L675.4,1252.6 L676.3,1248.9 L676.4,1244.7 L673.9,1243.2 L671.2,1241.4 L668.7,1239.4 L666.5,1237.5 L664.0,1236.5 L661.0,1236.5 L657.6,1236.7 L654.3,1236.0 L651.4,1234.4 L648.7,1232.6 L645.8,1231.3 L642.8,1230.0 L639.9,1228.0 L637.7,1225.5 L635.9,1223.6 L633.9,1222.9 L631.1,1222.8 L627.7,1222.3 L624.6,1221.1 L622.2,1219.4 L620.4,1218.0 L618.4,1216.6 L615.7,1215.2 L612.4,1213.8 L608.8,1212.8 L605.4,1212.2 L602.1,1211.0 L601.4,1213.6 L601.0,1216.4 L600.1,1219.2 L598.7,1221.6 L597.0,1223.3 L595.0,1224.8 L592.8,1227.2 L590.3,1230.6 L588.3,1234.5 L587.5,1237.9 L588.0,1240.6 L588.7,1243.0 L588.3,1245.6 L586.2,1248.1 L583.4,1250.0 L580.8,1251.4 L579.0,1253.2 L577.6,1255.8 L576.4,1258.9 L575.3,1261.8 L574.5,1264.3 L576.6,1266.1 L578.6,1268.1 L580.3,1270.7 L581.3,1273.8 L581.8,1276.7 L582.2,1279.1 L583.1,1281.2 L584.6,1283.4Z" fill="#aa5540" stroke="#aa5540" stroke-width="0.5"/>
<path d="M426.3,1153.0 L425.6,1155.9 L425.2,1159.2 L425.4,1162.6 L425.7,1165.9 L425.4,1169.2 L424.1,1172.5 L422.2,1175.7 L420.9,1178.5 L420.9,1180.8 L421.9,1182.9 L422.8,1185.2 L422.9,1188.0 L422.5,1191.5 L422.3,1195.2 L424.6,1197.2 L427.4,1198.7 L430.2,1199.5 L432.2,1200.4 L433.5,1202.1 L434.5,1204.3 L436.0,1206.5 L438.4,1208.2 L441.2,1209.8 L443.9,1212.1 L446.4,1214.9 L448.9,1217.3 L451.6,1218.5 L454.5,1218.5 L457.1,1218.3 L459.2,1218.8 L461.4,1220.2 L464.1,1219.8 L465.9,1219.8 L467.3,1219.1 L468.8,1217.5 L470.9,1215.6 L473.4,1213.8 L476.1,1212.3 L478.7,1210.6 L481.2,1208.6 L484.1,1206.7 L487.5,1205.6 L491.1,1205.3 L494.4,1205.1 L494.2,1202.8 L492.9,1199.8 L490.8,1195.9 L488.4,1191.5 L486.5,1187.1 L485.4,1183.5 L485.3,1181.2 L485.8,1179.8 L486.2,1178.7 L486.1,1176.8 L485.3,1173.6 L484.4,1169.6 L483.6,1165.7 L483.1,1162.6 L482.5,1160.4 L481.5,1158.7 L479.8,1156.6 L476.0,1155.4 L472.3,1153.8 L469.2,1152.8 L467.1,1152.6 L465.5,1153.1 L463.9,1153.2 L461.7,1152.7 L459.0,1151.7 L456.0,1150.4 L453.1,1149.1 L450.7,1147.8 L448.6,1146.8 L446.3,1146.4 L443.0,1148.4 L439.6,1150.5 L436.3,1152.2 L433.2,1153.0 L430.5,1153.0 L428.2,1152.8Z" fill="#a33f44" stroke="#a33f44" stroke-width="0.5"/>
<path d="M384.1,1140.1 L380.9,1140.7 L377.4,1140.9 L374.0,1141.0 L371.1,1141.4 L368.7,1142.3 L366.5,1143.6 L364.1,1144.9 L361.6,1146.1 L359.1,1147.6 L357.0,1149.3 L355.2,1151.0 L353.2,1152.3 L349.8,1152.9 L345.4,1153.8 L345.8,1155.0 L346.6,1157.8 L347.5,1160.5 L348.3,1163.3 L350.0,1165.5 L351.6,1167.8 L353.3,1170.0 L353.7,1172.5 L354.1,1175.0 L354.6,1177.5 L355.0,1180.0 L355.3,1182.8 L355.7,1185.7 L356.0,1188.5 L356.4,1191.4 L356.7,1194.2 L358.4,1196.1 L360.0,1198.1 L361.7,1200.0 L360.9,1202.7 L360.0,1205.3 L359.2,1208.0 L358.3,1210.6 L357.5,1213.3 L357.1,1216.2 L356.8,1219.0 L356.4,1221.9 L356.1,1224.7 L355.7,1227.6 L355.4,1230.4 L355.0,1233.3 L354.8,1236.2 L354.6,1239.0 L354.4,1241.9 L354.2,1244.7 L354.0,1247.6 L357.0,1245.2 L360.4,1243.2 L362.3,1241.8 L363.7,1239.9 L365.2,1237.7 L367.7,1236.0 L371.1,1235.0 L374.7,1234.1 L377.5,1232.8 L379.1,1231.2 L380.0,1229.6 L381.2,1228.0 L383.1,1226.0 L385.6,1223.4 L388.0,1220.8 L390.1,1219.1 L392.3,1218.3 L395.0,1217.3 L398.4,1215.4 L401.8,1212.7 L404.5,1210.3 L406.4,1208.4 L407.7,1206.8 L409.3,1204.8 L411.6,1202.4 L414.6,1200.3 L417.6,1198.7 L420.2,1197.1 L422.3,1195.2 L422.5,1191.5 L422.9,1188.0 L422.8,1185.2 L421.9,1182.9 L420.9,1180.8 L420.9,1178.5 L422.2,1175.7 L424.1,1172.5 L425.4,1169.2 L425.7,1165.9 L425.4,1162.6 L425.2,1159.2 L425.6,1155.9 L426.3,1153.0 L424.9,1151.6 L423.5,1151.0 L421.5,1150.9 L418.4,1150.8 L414.5,1150.5 L410.6,1149.8 L407.2,1148.7 L404.4,1146.6 L401.8,1143.8 L398.8,1141.0 L395.5,1139.6 L392.3,1140.1 L389.7,1141.5 L387.8,1142.4 L386.1,1141.8Z" fill="#ac6f4c" stroke="#ac6f4c" stroke-width="0.5"/>
<path d="M575.7,1031.9 L574.2,1035.0 L571.6,1037.3 L568.3,1038.5 L565.1,1039.5 L562.6,1041.3 L561.0,1043.8 L560.0,1046.5 L559.5,1049.1 L561.9,1052.1 L563.8,1055.3 L564.9,1058.5 L565.1,1061.3 L565.4,1064.0 L566.1,1066.9 L567.2,1069.9 L568.4,1072.9 L569.5,1075.6 L570.9,1078.1 L572.7,1080.5 L574.7,1082.9 L576.2,1085.4 L576.5,1088.1 L575.9,1090.8 L575.6,1093.8 L576.4,1097.0 L578.2,1100.3 L580.4,1103.3 L582.0,1105.9 L582.8,1108.1 L583.3,1110.4 L584.1,1112.9 L585.3,1115.7 L586.7,1118.6 L587.8,1121.2 L588.5,1123.7 L591.0,1122.3 L593.5,1121.6 L595.9,1120.8 L598.0,1118.9 L599.7,1116.2 L601.1,1113.6 L602.7,1111.8 L605.0,1110.5 L608.1,1109.1 L611.6,1107.2 L614.8,1105.2 L617.2,1103.5 L619.1,1101.6 L621.0,1099.3 L623.1,1097.1 L625.5,1095.5 L627.9,1094.8 L630.0,1094.2 L632.3,1092.7 L635.2,1090.3 L635.2,1087.2 L635.4,1083.5 L635.4,1079.8 L635.0,1076.5 L634.3,1073.9 L633.7,1071.5 L633.3,1069.2 L633.2,1066.6 L633.0,1063.8 L632.4,1061.0 L631.5,1058.4 L630.8,1055.8 L630.7,1053.1 L631.1,1049.8 L631.7,1046.0 L631.9,1042.1 L631.5,1038.7 L630.9,1036.2 L630.6,1034.7 L630.8,1033.4 L631.2,1031.6 L629.8,1030.0 L628.5,1027.7 L627.2,1025.2 L623.9,1024.4 L620.5,1023.3 L617.3,1022.8 L614.7,1023.3 L612.6,1025.0 L610.7,1027.2 L608.4,1029.0 L605.6,1029.6 L602.1,1029.1 L598.5,1028.1 L595.0,1027.2 L592.0,1026.9 L589.4,1027.3 L586.9,1028.1 L584.4,1029.1 L581.6,1030.2 L578.6,1031.2Z" fill="#9a3348" stroke="#9a3348" stroke-width="0.5"/>
<path d="M521.0,1216.1 L521.0,1218.1 L521.1,1220.9 L521.6,1224.4 L522.6,1228.3 L524.0,1231.8 L525.3,1234.3 L526.1,1236.2 L526.3,1237.8 L526.3,1240.0 L526.5,1242.8 L527.4,1246.0 L528.9,1249.2 L530.2,1252.0 L533.4,1251.9 L536.1,1251.9 L538.5,1252.6 L540.8,1254.1 L543.5,1256.0 L546.6,1257.6 L549.7,1258.4 L552.4,1258.9 L554.4,1259.2 L556.2,1259.4 L558.1,1259.4 L560.8,1259.5 L564.1,1260.2 L567.8,1261.8 L571.3,1263.4 L574.5,1264.3 L575.3,1261.8 L576.4,1258.9 L577.6,1255.8 L579.0,1253.2 L580.8,1251.4 L583.4,1250.0 L586.2,1248.1 L588.3,1245.6 L588.7,1243.0 L588.0,1240.6 L587.5,1237.9 L588.3,1234.5 L590.3,1230.6 L592.8,1227.2 L595.0,1224.8 L597.0,1223.3 L598.7,1221.6 L600.1,1219.2 L601.0,1216.4 L601.4,1213.6 L602.1,1211.0 L600.3,1207.7 L598.8,1204.6 L597.8,1201.9 L597.7,1199.5 L598.0,1197.1 L598.1,1194.3 L597.5,1191.3 L596.1,1188.2 L594.6,1185.3 L593.2,1182.5 L591.8,1179.7 L590.1,1177.0 L588.5,1174.2 L587.1,1171.2 L586.4,1168.0 L585.8,1164.6 L584.9,1161.3 L583.3,1164.1 L581.7,1166.6 L579.8,1168.8 L577.2,1171.2 L574.1,1173.9 L571.1,1176.2 L568.5,1177.6 L566.3,1178.5 L563.9,1179.9 L561.2,1182.2 L558.5,1185.0 L556.4,1187.5 L555.0,1189.6 L553.7,1191.6 L551.6,1193.4 L548.4,1194.7 L544.6,1195.4 L541.3,1196.4 L538.9,1198.7 L537.3,1202.1 L535.6,1205.3 L533.3,1207.2 L530.9,1208.0 L528.9,1208.5 L527.6,1209.8 L526.4,1211.6 L524.3,1213.7Z" fill="#a33f44" stroke="#a33f44" stroke-width="0.5"/>
<path d="M715.4,995.6 L713.2,998.3 L711.1,1001.5 L709.9,1004.9 L709.6,1008.1 L709.3,1011.2 L708.5,1014.4 L707.1,1017.3 L705.5,1019.6 L704.3,1020.8 L703.3,1021.5 L702.3,1022.7 L701.2,1025.0 L700.4,1028.4 L702.1,1031.2 L703.8,1034.3 L705.4,1037.6 L706.7,1040.6 L707.5,1043.4 L707.7,1046.3 L707.6,1049.3 L707.9,1052.4 L709.1,1055.5 L710.8,1058.4 L712.6,1061.2 L715.8,1062.4 L718.2,1063.0 L720.2,1063.6 L722.4,1064.7 L725.1,1066.1 L728.2,1066.8 L731.2,1066.3 L733.9,1065.4 L736.5,1065.4 L739.4,1066.6 L742.9,1068.3 L746.9,1069.3 L750.9,1069.3 L754.3,1068.9 L757.0,1068.8 L759.3,1069.3 L761.6,1070.2 L764.3,1071.1 L767.1,1072.2 L769.5,1069.8 L771.1,1067.3 L772.7,1064.9 L775.0,1062.6 L778.1,1060.1 L781.1,1057.9 L783.1,1056.6 L784.1,1055.6 L784.6,1054.0 L785.6,1051.2 L787.3,1047.9 L789.6,1045.0 L792.0,1042.9 L794.4,1041.1 L793.5,1038.9 L793.2,1036.4 L793.6,1033.5 L793.8,1030.4 L793.2,1027.4 L791.8,1025.0 L790.1,1022.9 L788.7,1020.6 L787.9,1017.7 L787.1,1014.2 L785.8,1010.8 L784.0,1007.9 L780.7,1007.8 L778.4,1007.9 L776.7,1007.1 L774.8,1005.1 L772.2,1003.1 L768.8,1002.1 L765.2,1002.2 L761.9,1002.3 L759.0,1001.7 L756.4,1000.3 L753.8,999.0 L751.3,998.2 L749.0,997.4 L746.8,996.1 L744.4,994.3 L741.3,992.5 L737.9,991.1 L734.5,989.8 L731.7,988.5 L729.5,987.6 L726.7,989.4 L724.3,991.3 L722.3,992.7 L720.3,993.6 L718.1,994.4Z" fill="#942f4b" stroke="#942f4b" stroke-width="0.5"/>
<path d="M239.2,950.1 L241.3,951.1 L243.3,950.8 L245.3,949.9 L247.3,949.7 L249.4,950.3 L252.0,951.2 L255.1,951.6 L258.8,951.3 L262.6,951.2 L266.3,952.0 L269.4,953.5 L272.0,954.8 L274.5,955.2 L277.1,955.1 L279.9,955.1 L283.0,955.6 L286.1,956.5 L289.1,957.1 L292.2,957.4 L295.4,957.6 L298.7,958.0 L301.7,958.6 L302.4,955.3 L303.3,952.7 L304.7,950.7 L306.0,948.8 L306.7,946.6 L306.9,944.3 L307.6,942.3 L309.2,940.7 L311.5,938.9 L314.0,936.3 L315.8,932.8 L317.0,929.3 L318.2,926.4 L319.4,924.1 L320.5,921.9 L321.3,919.3 L322.0,916.4 L323.3,913.9 L323.0,912.5 L322.9,910.8 L320.6,912.6 L318.4,912.9 L316.3,913.2 L314.1,913.5 L312.2,914.5 L310.4,915.4 L308.0,914.9 L305.7,914.4 L304.8,912.3 L303.9,910.1 L303.0,908.0 L300.7,908.5 L298.4,908.9 L296.0,909.3 L293.7,909.8 L291.8,910.7 L290.0,911.7 L288.1,912.6 L285.6,914.0 L283.1,915.4 L280.5,916.7 L278.0,918.1 L276.4,915.8 L274.8,913.5 L273.1,911.2 L271.5,908.9 L270.1,907.0 L268.7,905.2 L267.3,903.4 L265.9,901.5 L264.7,899.0 L263.4,896.6 L262.2,894.1 L261.0,892.2 L259.7,890.4 L258.5,888.5 L255.7,888.3 L252.9,888.0 L250.2,887.8 L247.4,887.6 L244.6,888.3 L241.9,889.0 L239.1,889.7 L236.3,890.4 L233.5,889.9 L230.7,889.4 L228.6,890.7 L226.5,892.1 L226.6,894.6 L226.3,897.0 L227.0,899.6 L227.9,902.3 L228.7,905.5 L229.3,909.0 L229.9,912.5 L230.8,915.8 L231.8,918.7 L232.5,921.3 L232.8,923.7 L232.6,925.8 L232.4,928.0 L232.8,930.5 L233.8,933.7 L235.4,937.8 L236.9,942.4 L238.3,946.8Z" fill="#adb085" stroke="#adb085" stroke-width="0.5"/>
<path d="M461.4,1220.2 L459.6,1223.0 L458.0,1227.1 L457.0,1231.4 L456.3,1235.3 L455.4,1238.4 L454.3,1241.0 L453.4,1243.5 L453.1,1245.9 L452.9,1248.2 L452.3,1250.4 L451.3,1253.0 L450.2,1256.2 L449.4,1259.6 L448.6,1262.5 L447.5,1264.7 L446.0,1266.7 L444.6,1269.2 L446.5,1270.6 L448.3,1272.4 L450.7,1273.8 L454.0,1274.6 L458.0,1275.5 L462.2,1276.8 L465.9,1278.2 L468.7,1278.9 L470.9,1278.5 L473.2,1277.8 L475.8,1278.0 L478.5,1279.4 L481.0,1281.4 L483.1,1283.0 L485.1,1284.0 L487.5,1284.7 L490.7,1285.6 L494.6,1286.6 L498.5,1287.4 L501.9,1288.0 L503.5,1285.5 L504.7,1283.4 L506.3,1281.6 L508.4,1279.3 L510.6,1276.2 L512.5,1272.8 L513.9,1270.0 L515.3,1268.2 L517.1,1266.6 L519.1,1264.7 L521.0,1262.5 L522.5,1260.6 L524.1,1259.1 L526.0,1257.3 L528.1,1254.8 L530.2,1252.0 L528.9,1249.2 L527.4,1246.0 L526.5,1242.8 L526.3,1240.0 L526.3,1237.8 L526.1,1236.2 L525.3,1234.3 L524.0,1231.8 L522.6,1228.3 L521.6,1224.4 L521.1,1220.9 L521.0,1218.1 L521.0,1216.1 L518.1,1216.1 L515.1,1214.9 L512.1,1212.5 L508.9,1210.2 L505.6,1209.0 L502.5,1208.9 L500.2,1209.0 L498.8,1208.6 L497.7,1207.6 L496.4,1206.4 L494.4,1205.1 L491.1,1205.3 L487.5,1205.6 L484.1,1206.7 L481.2,1208.6 L478.7,1210.6 L476.1,1212.3 L473.4,1213.8 L470.9,1215.6 L468.8,1217.5 L467.3,1219.1 L465.9,1219.8 L464.1,1219.8Z" fill="#a33f44" stroke="#a33f44" stroke-width="0.5"/>
<path d="M855.6,1019.3 L852.8,1021.1 L849.6,1023.3 L846.0,1025.4 L842.8,1026.7 L840.6,1027.3 L839.1,1027.8 L837.9,1028.8 L836.0,1030.5 L832.9,1032.0 L828.7,1032.8 L824.3,1032.9 L820.5,1033.0 L817.9,1033.9 L816.1,1035.7 L814.7,1037.6 L812.9,1038.8 L810.5,1039.5 L807.6,1040.3 L804.4,1041.5 L801.2,1042.8 L803.2,1046.1 L805.1,1049.1 L807.6,1051.0 L810.3,1052.5 L812.7,1054.3 L814.4,1056.9 L815.8,1059.3 L817.4,1060.9 L819.5,1061.8 L821.6,1062.8 L823.1,1064.8 L824.4,1067.7 L826.1,1071.0 L828.3,1074.0 L830.7,1076.8 L832.8,1079.3 L834.8,1081.3 L837.3,1082.7 L840.7,1083.5 L844.4,1084.5 L846.5,1086.6 L846.7,1090.0 L848.3,1088.6 L850.0,1087.1 L851.7,1085.6 L851.9,1082.8 L852.2,1080.0 L852.4,1077.2 L852.6,1074.4 L854.8,1072.9 L857.0,1071.4 L859.3,1070.0 L861.5,1068.5 L863.7,1067.0 L865.1,1064.7 L866.5,1062.4 L867.9,1060.1 L869.3,1057.8 L871.6,1056.0 L873.9,1054.1 L876.2,1052.2 L878.5,1050.4 L879.5,1048.1 L880.5,1045.7 L881.5,1043.3 L882.5,1041.0 L883.0,1040.3 L880.3,1039.4 L879.2,1038.4 L877.6,1036.6 L875.0,1034.9 L871.8,1033.6 L868.8,1032.8 L866.5,1031.7 L864.6,1029.3 L862.7,1025.7 L860.5,1022.1 L858.0,1019.9Z" fill="#9e3946" stroke="#9e3946" stroke-width="0.5"/>
<path d="M758.0,1227.2 L759.4,1230.8 L760.7,1233.8 L760.8,1236.2 L759.5,1238.2 L757.5,1240.4 L756.0,1242.9 L755.6,1245.9 L756.3,1249.1 L757.2,1252.5 L757.7,1255.9 L757.8,1259.2 L757.5,1262.4 L757.0,1265.3 L756.5,1267.9 L756.0,1270.3 L755.7,1272.8 L755.7,1275.6 L755.7,1278.8 L755.3,1282.0 L754.4,1285.2 L753.6,1288.3 L753.7,1291.6 L754.7,1295.2 L755.9,1299.0 L756.3,1302.5 L755.3,1305.4 L753.7,1307.4 L752.5,1309.0 L752.3,1311.0 L752.7,1313.9 L754.9,1313.8 L757.5,1314.5 L760.6,1315.2 L764.1,1314.9 L767.7,1313.4 L771.3,1311.8 L774.8,1311.3 L778.1,1312.4 L781.2,1314.1 L784.0,1314.8 L786.4,1313.8 L788.4,1311.6 L790.3,1309.8 L792.6,1309.5 L795.5,1310.4 L799.3,1311.5 L803.6,1311.5 L808.0,1310.4 L812.0,1309.1 L815.2,1308.6 L817.6,1308.9 L819.4,1309.4 L819.9,1306.9 L820.5,1303.9 L821.7,1300.9 L823.2,1298.6 L824.6,1297.3 L825.9,1296.4 L827.7,1295.0 L830.2,1292.5 L833.0,1289.6 L835.4,1286.8 L836.6,1284.2 L837.0,1281.4 L837.4,1278.3 L838.5,1275.3 L840.3,1272.9 L842.2,1270.9 L843.9,1268.7 L845.4,1265.9 L842.9,1263.8 L841.0,1262.2 L839.2,1260.4 L837.4,1258.3 L835.8,1256.4 L834.7,1254.9 L833.9,1253.6 L832.5,1252.0 L829.9,1249.5 L826.6,1246.4 L823.4,1243.3 L820.9,1240.6 L818.9,1238.1 L816.8,1235.9 L814.4,1234.0 L812.2,1232.4 L810.5,1230.8 L809.1,1228.9 L807.3,1226.6 L804.9,1224.1 L802.6,1221.8 L800.7,1219.7 L799.2,1217.7 L797.6,1215.4 L795.6,1215.3 L793.1,1215.4 L790.2,1215.8 L787.0,1216.4 L784.0,1216.9 L781.1,1216.8 L778.3,1216.0 L775.3,1215.0 L772.6,1216.7 L770.0,1218.6 L767.3,1220.2 L764.5,1221.8 L761.9,1223.5 L759.7,1225.5Z" fill="#55175a" stroke="#55175a" stroke-width="0.5"/>
<path d="M549.1,859.2 L548.4,856.7 L547.2,854.3 L545.6,852.0 L541.9,852.1 L538.5,851.6 L535.6,850.8 L532.9,850.5 L530.3,851.2 L527.4,852.5 L524.4,853.4 L521.3,853.1 L518.3,852.1 L515.7,851.4 L513.2,851.6 L510.9,852.3 L508.4,852.7 L505.6,852.3 L502.6,851.4 L499.5,851.1 L496.5,851.5 L493.6,851.9 L490.7,851.7 L487.7,850.7 L484.5,850.0 L481.3,850.4 L478.1,851.9 L475.3,853.4 L472.8,853.8 L470.5,853.0 L468.2,852.1 L467.8,854.1 L466.9,856.1 L466.0,858.4 L465.7,861.5 L466.0,865.2 L466.4,869.0 L466.5,872.5 L466.3,875.3 L466.0,877.5 L465.7,879.4 L465.5,881.5 L467.7,883.8 L470.1,886.5 L472.3,888.9 L474.2,891.1 L476.2,893.6 L478.3,896.9 L480.2,900.5 L481.4,903.2 L482.3,904.4 L483.6,905.1 L485.8,906.4 L488.6,909.3 L491.0,912.9 L492.8,916.0 L494.3,918.2 L497.0,916.3 L499.6,914.9 L502.1,914.3 L504.8,914.1 L507.5,913.9 L510.1,912.9 L512.5,911.1 L514.7,909.1 L516.8,907.5 L519.0,906.9 L521.5,907.2 L524.1,907.9 L525.7,905.9 L527.1,904.0 L528.6,902.1 L529.8,899.4 L530.8,895.8 L532.0,891.6 L533.7,888.0 L536.2,885.5 L538.6,883.9 L540.1,882.2 L540.5,879.9 L540.6,877.2 L541.3,874.6 L542.9,872.2 L545.0,869.8 L546.8,867.0 L547.6,864.1 L548.3,861.5Z" fill="#ab946a" stroke="#ab946a" stroke-width="0.5"/>
<path d="M488.7,944.7 L489.3,947.8 L489.7,951.5 L490.0,955.5 L490.5,958.9 L491.6,961.7 L493.5,964.1 L495.8,966.3 L497.7,968.5 L498.6,970.5 L498.9,972.4 L499.6,974.3 L501.3,976.8 L503.8,979.8 L506.7,980.0 L509.3,980.2 L511.4,980.5 L513.6,980.9 L516.1,981.2 L519.3,981.0 L522.9,980.0 L526.7,978.6 L530.1,977.2 L532.9,976.6 L535.1,976.8 L536.9,977.6 L539.0,978.6 L541.6,979.3 L544.7,979.8 L548.1,980.2 L551.3,980.1 L553.2,977.2 L554.4,973.5 L555.3,970.0 L556.7,967.2 L559.0,965.2 L561.9,963.2 L561.8,959.9 L561.5,957.2 L560.8,955.3 L559.9,953.7 L559.1,951.7 L558.6,949.0 L558.4,945.4 L558.1,941.4 L557.5,937.6 L556.5,934.5 L555.5,932.1 L553.0,931.4 L550.5,930.7 L548.5,929.3 L547.3,927.0 L546.2,924.6 L544.4,922.5 L542.1,920.5 L539.7,918.2 L537.5,915.8 L535.2,914.1 L532.4,913.2 L529.2,912.6 L526.3,911.0 L524.1,907.9 L521.5,907.2 L519.0,906.9 L516.8,907.5 L514.7,909.1 L512.5,911.1 L510.1,912.9 L507.5,913.9 L504.8,914.1 L502.1,914.3 L499.6,914.9 L497.0,916.3 L494.3,918.2 L493.3,921.1 L492.7,923.7 L492.4,926.1 L491.8,928.9 L490.7,932.1 L489.5,935.5 L488.7,938.3 L488.9,940.1 L489.4,941.3 L489.6,942.6Z" fill="#ad6346" stroke="#ad6346" stroke-width="0.5"/>
<path d="M239.2,950.1 L238.3,946.8 L236.9,942.4 L235.4,937.8 L233.8,933.7 L232.8,930.5 L232.4,928.0 L232.6,925.8 L232.8,923.7 L232.5,921.3 L231.8,918.7 L230.8,915.8 L229.9,912.5 L229.3,909.0 L228.7,905.5 L227.9,902.3 L227.0,899.6 L226.3,897.0 L226.6,894.6 L226.5,892.1 L224.9,893.1 L223.3,894.1 L222.1,896.3 L220.8,898.4 L219.6,900.6 L216.6,900.6 L213.6,900.6 L210.6,900.6 L207.6,900.6 L207.1,902.5 L206.7,904.3 L204.8,903.4 L203.0,902.4 L201.1,901.5 L200.2,899.2 L199.3,896.9 L196.8,898.1 L194.4,899.4 L191.9,900.6 L189.6,900.4 L187.2,900.1 L184.9,899.9 L182.6,899.6 L180.3,900.1 L177.9,900.5 L175.6,901.0 L173.3,901.5 L171.0,901.7 L168.7,902.0 L166.4,902.2 L164.1,902.4 L162.2,904.3 L159.9,905.0 L157.6,905.6 L155.3,906.3 L153.0,907.0 L151.4,908.9 L149.9,910.7 L148.3,912.6 L148.8,914.5 L149.3,916.3 L148.7,918.8 L148.0,921.2 L147.4,923.7 L147.4,926.2 L147.4,928.6 L147.4,931.1 L150.2,931.6 L152.9,932.0 L155.7,932.5 L158.5,933.0 L156.7,934.9 L154.8,936.7 L157.1,938.5 L159.4,940.4 L159.9,942.7 L160.4,945.0 L160.8,947.3 L161.3,949.6 L162.9,948.0 L164.6,946.4 L166.2,944.7 L167.8,943.1 L170.3,944.7 L172.7,946.2 L175.2,947.8 L174.8,950.1 L174.3,952.4 L171.9,952.6 L169.5,952.8 L167.0,952.9 L164.6,953.1 L162.2,953.3 L159.7,953.8 L157.3,954.2 L154.8,954.7 L152.3,955.2 L149.9,955.6 L147.4,956.1 L148.3,958.9 L150.7,960.0 L153.1,961.1 L155.6,962.2 L158.0,963.3 L160.4,964.4 L162.2,966.3 L164.1,968.1 L165.9,970.0 L166.5,972.2 L167.2,974.3 L167.8,976.5 L167.8,978.7 L167.8,980.8 L167.8,983.0 L170.1,983.2 L172.4,983.5 L174.7,983.7 L177.0,983.9 L179.5,982.7 L181.9,981.4 L184.4,980.2 L187.2,980.9 L190.0,981.6 L192.8,982.3 L195.6,983.0 L197.4,984.5 L199.3,986.1 L201.1,987.6 L203.4,988.3 L205.8,989.0 L208.1,989.7 L210.4,990.4 L213.0,990.9 L213.5,989.5 L215.6,988.3 L218.4,985.5 L220.9,982.2 L222.6,979.2 L223.2,976.8 L223.2,974.5 L223.6,971.7 L224.9,968.5 L226.9,965.5 L228.7,962.8 L230.1,960.3 L231.4,957.7 L233.2,955.0 L235.6,952.8 L237.8,951.4Z" fill="#ada276" stroke="#ada276" stroke-width="0.5"/>
<path d="M753.3,1361.2 L752.8,1357.4 L752.5,1354.0 L752.1,1351.2 L751.7,1348.8 L751.6,1346.1 L752.3,1342.8 L753.4,1339.1 L754.4,1335.4 L754.7,1332.4 L754.1,1330.2 L753.1,1328.2 L752.5,1325.9 L752.4,1322.9 L752.4,1319.1 L752.1,1315.2 L750.0,1315.2 L747.8,1315.0 L745.3,1314.2 L742.2,1313.5 L738.5,1313.6 L734.6,1314.1 L730.8,1314.1 L727.5,1313.0 L724.9,1311.4 L722.6,1310.5 L720.3,1310.8 L717.7,1311.4 L714.6,1311.4 L711.4,1310.2 L708.2,1308.6 L705.2,1307.7 L702.0,1307.7 L698.8,1308.0 L695.5,1307.9 L692.4,1307.3 L690.0,1306.6 L688.1,1305.8 L686.4,1305.0 L684.3,1304.1 L681.5,1303.2 L677.9,1302.8 L674.0,1303.0 L673.9,1306.4 L673.9,1310.1 L673.5,1313.4 L672.3,1315.9 L670.5,1317.7 L668.7,1319.5 L667.6,1321.5 L667.5,1323.8 L667.8,1326.2 L667.6,1328.7 L669.0,1332.4 L670.2,1335.9 L671.3,1338.4 L672.9,1340.0 L675.5,1341.8 L678.8,1344.3 L681.7,1347.2 L683.6,1350.0 L684.2,1352.2 L684.7,1354.2 L685.8,1356.7 L687.6,1359.5 L689.4,1362.1 L691.0,1364.0 L692.6,1365.4 L694.6,1367.1 L696.8,1370.0 L698.5,1373.8 L699.6,1377.7 L700.5,1380.8 L701.8,1383.0 L703.8,1384.6 L705.9,1386.2 L707.6,1388.0 L709.2,1389.8 L711.0,1391.7 L713.2,1394.1 L715.3,1397.2 L716.9,1400.5 L718.7,1402.3 L720.8,1402.3 L722.9,1402.3 L724.7,1402.5 L725.6,1400.7 L727.7,1397.8 L730.2,1394.8 L732.3,1392.7 L733.5,1391.1 L734.4,1389.2 L735.5,1386.4 L737.2,1383.2 L739.2,1380.1 L740.6,1377.5 L741.5,1375.2 L742.4,1372.8 L744.2,1370.4 L746.7,1368.7 L749.4,1367.6 L751.3,1366.3 L752.5,1364.2Z" fill="#8f2b4e" stroke="#8f2b4e" stroke-width="0.5"/>
<path d="M420.6,1386.5 L422.0,1389.4 L424.2,1391.2 L427.4,1391.6 L430.9,1391.8 L434.2,1392.9 L437.2,1394.9 L440.1,1397.0 L443.0,1398.5 L445.3,1399.8 L446.9,1401.7 L448.2,1403.8 L449.9,1405.7 L452.5,1407.0 L455.7,1408.0 L458.8,1409.2 L461.4,1410.5 L463.9,1411.6 L466.6,1412.9 L469.7,1415.0 L472.6,1417.8 L474.8,1420.4 L476.5,1421.8 L478.4,1422.0 L481.0,1422.2 L484.1,1423.2 L486.8,1421.7 L489.9,1420.1 L492.8,1418.5 L494.9,1417.0 L496.6,1415.8 L498.4,1414.4 L500.8,1412.4 L503.7,1409.6 L506.4,1406.9 L508.7,1405.2 L510.5,1404.4 L512.2,1403.5 L514.2,1402.0 L516.6,1399.9 L515.6,1396.7 L514.1,1393.9 L512.7,1391.5 L511.6,1389.1 L510.7,1386.2 L509.1,1383.1 L506.8,1380.4 L504.2,1378.6 L502.4,1377.3 L501.5,1375.4 L500.9,1372.4 L499.9,1368.5 L498.2,1364.7 L496.3,1361.9 L494.9,1360.1 L493.9,1358.7 L492.8,1356.7 L491.1,1354.1 L489.2,1351.1 L487.6,1348.1 L486.4,1345.2 L483.3,1344.6 L480.2,1344.2 L477.4,1344.0 L474.6,1343.9 L471.7,1344.1 L468.7,1344.5 L465.5,1345.0 L462.1,1345.2 L458.9,1345.1 L455.9,1344.7 L453.4,1344.1 L451.0,1343.6 L448.7,1343.2 L446.0,1343.3 L442.9,1343.9 L439.5,1345.0 L436.0,1346.0 L432.7,1346.4 L429.9,1346.1 L428.5,1348.1 L427.8,1349.5 L427.8,1351.1 L428.1,1353.7 L427.6,1357.4 L426.0,1361.6 L424.0,1365.3 L422.4,1368.1 L421.6,1370.2 L421.2,1372.4 L420.8,1374.8 L420.2,1377.2 L419.8,1379.3 L419.4,1381.2 L420.3,1383.7Z" fill="#a84c40" stroke="#a84c40" stroke-width="0.5"/>
<path d="M667.6,1328.7 L665.5,1329.9 L662.8,1332.0 L659.9,1334.6 L657.5,1337.0 L655.5,1338.7 L653.7,1340.3 L651.7,1342.5 L649.5,1345.3 L647.3,1347.9 L645.2,1349.9 L642.8,1351.7 L640.0,1353.9 L636.8,1356.5 L633.7,1358.5 L630.9,1359.7 L628.6,1360.5 L626.8,1361.9 L625.1,1364.1 L625.3,1367.3 L625.9,1370.0 L626.6,1372.0 L626.7,1373.8 L625.9,1375.8 L624.0,1378.3 L621.9,1381.3 L620.4,1384.3 L619.7,1387.3 L619.5,1390.3 L620.9,1393.1 L622.2,1394.9 L623.4,1396.0 L624.7,1397.6 L626.1,1400.4 L628.3,1404.2 L631.2,1408.1 L634.4,1411.2 L636.8,1413.4 L637.9,1415.5 L638.2,1417.9 L638.6,1420.5 L639.8,1422.7 L641.7,1424.0 L643.7,1424.9 L645.7,1427.4 L647.6,1430.4 L647.6,1427.8 L650.0,1426.6 L652.5,1425.3 L654.9,1424.1 L657.4,1422.8 L659.8,1421.6 L662.5,1421.3 L665.3,1420.9 L668.0,1420.6 L670.0,1418.9 L672.1,1417.2 L674.1,1415.5 L676.5,1413.8 L678.8,1412.1 L681.2,1410.5 L683.6,1408.8 L685.9,1407.1 L688.3,1405.4 L690.3,1403.9 L692.4,1402.3 L694.4,1400.8 L696.4,1399.3 L698.5,1397.7 L700.5,1396.2 L702.5,1396.2 L704.6,1396.2 L706.6,1396.2 L707.3,1398.2 L708.0,1400.3 L708.7,1402.3 L711.2,1402.3 L713.7,1402.3 L716.2,1402.3 L718.7,1402.3 L716.9,1400.5 L715.3,1397.2 L713.2,1394.1 L711.0,1391.7 L709.2,1389.8 L707.6,1388.0 L705.9,1386.2 L703.8,1384.6 L701.8,1383.0 L700.5,1380.8 L699.6,1377.7 L698.5,1373.8 L696.8,1370.0 L694.6,1367.1 L692.6,1365.4 L691.0,1364.0 L689.4,1362.1 L687.6,1359.5 L685.8,1356.7 L684.7,1354.2 L684.2,1352.2 L683.6,1350.0 L681.7,1347.2 L678.8,1344.3 L675.5,1341.8 L672.9,1340.0 L671.3,1338.4 L670.2,1335.9 L669.0,1332.4Z" fill="#aa5540" stroke="#aa5540" stroke-width="0.5"/>
<path d="M370.1,997.9 L370.3,997.7 L370.0,995.0 L369.8,993.0 L369.9,991.1 L370.5,988.8 L371.4,985.8 L372.1,982.2 L372.0,978.4 L371.3,974.9 L370.4,972.0 L370.3,969.5 L371.4,967.1 L373.2,964.6 L374.4,961.8 L374.3,958.9 L373.1,955.7 L371.9,952.4 L371.5,949.1 L372.0,945.8 L372.6,942.7 L372.9,940.1 L372.8,937.8 L372.7,935.7 L373.0,933.5 L373.3,931.0 L370.0,929.6 L367.2,928.3 L364.9,926.8 L362.6,925.6 L359.9,924.8 L356.8,924.2 L353.6,923.5 L350.4,922.3 L347.4,921.2 L344.4,920.8 L341.4,921.0 L339.2,920.4 L337.2,918.9 L334.9,917.3 L332.6,915.5 L330.1,914.1 L326.9,913.7 L323.3,913.9 L322.0,916.4 L321.3,919.3 L320.5,921.9 L319.4,924.1 L318.2,926.4 L317.0,929.3 L315.8,932.8 L314.0,936.3 L311.5,938.9 L309.2,940.7 L307.6,942.3 L306.9,944.3 L306.7,946.6 L306.0,948.8 L304.7,950.7 L303.3,952.7 L302.4,955.3 L301.7,958.6 L302.8,962.1 L303.4,965.5 L303.5,968.5 L303.7,971.0 L304.3,973.5 L305.3,976.2 L306.2,979.1 L307.0,981.9 L307.5,984.3 L308.4,986.6 L309.7,989.1 L311.3,992.1 L312.6,995.6 L315.8,995.4 L318.1,994.5 L320.0,993.8 L322.0,994.2 L324.9,995.7 L328.7,997.3 L333.0,997.7 L336.9,996.9 L340.0,995.8 L342.3,995.4 L344.0,996.0 L345.9,996.8 L348.3,997.1 L351.3,996.8 L354.6,997.0 L357.8,997.8 L360.9,998.8 L363.8,999.1 L366.8,998.5Z" fill="#af8b60" stroke="#af8b60" stroke-width="0.5"/>
<path d="M588.5,1123.7 L587.8,1121.2 L586.7,1118.6 L585.3,1115.7 L584.1,1112.9 L583.3,1110.4 L582.8,1108.1 L582.0,1105.9 L580.4,1103.3 L578.2,1100.3 L576.4,1097.0 L575.6,1093.8 L575.9,1090.8 L576.5,1088.1 L576.2,1085.4 L574.7,1082.9 L572.7,1080.5 L570.9,1078.1 L569.5,1075.6 L568.4,1072.9 L567.2,1069.9 L566.1,1066.9 L565.4,1064.0 L565.1,1061.3 L564.9,1058.5 L563.8,1055.3 L561.9,1052.1 L559.5,1049.1 L557.4,1049.7 L555.4,1050.3 L553.0,1050.6 L550.0,1051.1 L546.6,1051.8 L543.2,1052.7 L540.1,1053.3 L537.2,1053.5 L534.4,1053.6 L531.4,1054.0 L528.3,1054.7 L525.2,1055.5 L523.8,1057.6 L522.4,1059.3 L520.6,1061.2 L517.9,1063.4 L514.8,1065.5 L512.1,1067.6 L510.2,1070.2 L509.1,1073.6 L508.4,1077.2 L507.8,1080.0 L507.0,1081.5 L506.0,1082.2 L504.3,1083.1 L501.8,1084.6 L501.9,1087.8 L501.9,1091.2 L501.9,1094.4 L502.3,1097.3 L503.2,1099.9 L504.4,1102.5 L505.4,1105.3 L506.1,1108.5 L506.6,1112.0 L507.5,1115.4 L509.1,1118.3 L511.1,1120.9 L512.9,1123.4 L513.9,1126.0 L514.0,1128.6 L515.6,1128.7 L517.3,1128.2 L519.5,1128.1 L522.6,1128.8 L526.4,1129.6 L530.4,1130.4 L534.3,1131.3 L538.0,1133.0 L541.2,1135.0 L543.8,1136.4 L545.8,1136.3 L547.4,1135.0 L549.0,1134.1 L551.2,1134.5 L554.3,1136.1 L557.9,1138.0 L561.5,1139.3 L564.7,1139.9 L567.4,1140.1 L569.9,1140.1 L572.8,1140.2 L576.1,1140.8 L579.7,1142.3 L582.9,1144.3 L583.7,1140.1 L583.8,1136.0 L583.7,1132.8 L584.1,1130.5 L585.2,1128.5 L586.9,1126.2Z" fill="#9e3946" stroke="#9e3946" stroke-width="0.5"/>
<path d="M441.6,1064.8 L443.2,1066.4 L444.7,1068.1 L446.5,1069.8 L450.0,1071.3 L453.5,1073.3 L456.4,1074.8 L458.3,1075.1 L459.8,1074.2 L461.4,1073.6 L463.8,1074.4 L467.0,1076.3 L470.7,1078.2 L474.4,1079.3 L478.0,1079.9 L481.4,1080.8 L484.7,1082.0 L487.6,1083.0 L490.2,1083.1 L492.6,1082.5 L495.2,1082.3 L498.3,1083.1 L501.8,1084.6 L504.3,1083.1 L506.0,1082.2 L507.0,1081.5 L507.8,1080.0 L508.4,1077.2 L509.1,1073.6 L510.2,1070.2 L512.1,1067.6 L514.8,1065.5 L517.9,1063.4 L520.6,1061.2 L522.4,1059.3 L523.8,1057.6 L525.2,1055.5 L523.4,1053.2 L521.3,1051.0 L519.1,1048.4 L517.5,1045.4 L516.6,1042.1 L515.9,1039.2 L514.7,1037.0 L512.6,1035.2 L510.1,1033.2 L508.0,1030.5 L506.3,1027.4 L504.8,1024.4 L502.9,1022.0 L501.0,1020.1 L499.6,1018.1 L498.9,1015.9 L498.4,1013.5 L497.1,1011.2 L494.8,1009.1 L492.0,1007.1 L489.3,1005.0 L486.8,1005.4 L484.8,1005.8 L482.8,1006.5 L480.5,1007.3 L477.8,1008.5 L474.9,1010.1 L472.2,1012.3 L469.8,1014.4 L467.5,1015.9 L464.8,1016.3 L461.5,1016.3 L457.6,1016.8 L453.9,1018.5 L451.0,1021.0 L448.9,1023.1 L449.5,1026.6 L450.6,1029.5 L451.2,1032.2 L450.8,1034.9 L449.8,1037.6 L448.9,1040.0 L448.2,1041.9 L447.4,1043.4 L446.2,1045.2 L444.6,1047.7 L443.2,1051.1 L442.4,1054.8 L442.1,1058.1 L442.0,1060.6 L441.8,1062.6Z" fill="#a64442" stroke="#a64442" stroke-width="0.5"/>
<path d="M774.2,1113.5 L776.5,1114.4 L778.9,1115.4 L781.9,1116.7 L785.6,1117.7 L789.4,1117.8 L792.6,1117.5 L794.9,1117.8 L796.6,1119.2 L798.4,1121.0 L800.7,1122.3 L803.4,1122.7 L806.2,1122.6 L808.9,1122.7 L811.4,1123.2 L814.0,1123.7 L816.8,1124.3 L819.9,1125.3 L822.8,1126.9 L825.6,1125.8 L827.7,1124.4 L829.5,1123.1 L831.2,1121.8 L830.4,1120.7 L831.3,1118.4 L832.2,1116.1 L833.2,1113.8 L834.1,1111.5 L834.1,1108.7 L834.1,1105.9 L835.6,1103.8 L837.2,1101.6 L838.7,1099.5 L840.2,1097.3 L841.8,1095.2 L843.3,1093.0 L845.0,1091.5 L846.7,1090.0 L846.5,1086.6 L844.4,1084.5 L840.7,1083.5 L837.3,1082.7 L834.8,1081.3 L832.8,1079.3 L830.7,1076.8 L828.3,1074.0 L826.1,1071.0 L824.4,1067.7 L823.1,1064.8 L821.6,1062.8 L819.5,1061.8 L817.4,1060.9 L815.8,1059.3 L814.4,1056.9 L812.7,1054.3 L810.3,1052.5 L807.6,1051.0 L805.1,1049.1 L803.2,1046.1 L801.2,1042.8 L797.9,1041.8 L794.4,1041.1 L792.0,1042.9 L789.6,1045.0 L787.3,1047.9 L785.6,1051.2 L784.6,1054.0 L784.1,1055.6 L783.1,1056.6 L781.1,1057.9 L778.1,1060.1 L775.0,1062.6 L772.7,1064.9 L771.1,1067.3 L769.5,1069.8 L767.1,1072.2 L766.7,1075.6 L766.5,1078.9 L767.3,1081.8 L768.8,1084.5 L770.3,1087.1 L771.1,1089.9 L771.0,1092.9 L770.3,1095.8 L769.9,1098.7 L770.4,1101.6 L771.7,1104.6 L773.0,1107.7 L773.9,1110.7Z" fill="#8f2b4e" stroke="#8f2b4e" stroke-width="0.5"/>
<path d="M419.4,1381.2 L419.8,1379.3 L420.2,1377.2 L420.8,1374.8 L421.2,1372.4 L421.6,1370.2 L422.4,1368.1 L424.0,1365.3 L426.0,1361.6 L427.6,1357.4 L428.1,1353.7 L427.8,1351.1 L427.8,1349.5 L428.5,1348.1 L429.9,1346.1 L429.6,1342.7 L429.2,1338.6 L428.2,1334.4 L426.4,1331.0 L424.3,1328.7 L422.6,1327.0 L421.9,1325.0 L421.8,1322.4 L421.6,1319.4 L420.4,1316.5 L418.3,1314.0 L416.1,1311.7 L414.6,1309.0 L414.1,1305.8 L413.8,1302.5 L413.1,1299.9 L411.7,1298.1 L410.1,1296.7 L409.0,1295.0 L408.4,1292.2 L407.8,1288.9 L404.0,1287.6 L400.4,1286.6 L397.4,1285.7 L395.2,1284.3 L393.3,1282.6 L391.1,1281.3 L388.1,1281.0 L384.7,1281.3 L381.4,1281.4 L378.7,1280.3 L376.5,1278.5 L374.4,1276.7 L371.8,1275.3 L368.7,1274.0 L365.6,1272.4 L362.8,1270.8 L360.5,1270.0 L358.5,1270.4 L356.1,1271.2 L352.7,1269.9 L352.6,1272.4 L352.5,1274.9 L352.4,1277.5 L352.2,1280.0 L352.1,1282.5 L352.0,1285.0 L351.4,1287.5 L350.8,1290.0 L350.1,1292.5 L349.5,1295.0 L348.9,1297.5 L348.3,1300.0 L347.8,1302.7 L347.4,1305.5 L346.9,1308.2 L346.5,1310.9 L346.0,1313.6 L345.6,1316.4 L345.1,1319.1 L344.7,1321.8 L344.2,1324.5 L343.8,1327.3 L343.3,1330.0 L342.6,1332.9 L341.9,1335.7 L341.2,1338.6 L340.4,1341.4 L339.7,1344.3 L339.0,1347.1 L338.3,1350.0 L337.1,1352.5 L336.0,1355.0 L334.9,1357.5 L333.7,1360.0 L332.9,1362.6 L332.1,1365.2 L331.4,1367.8 L330.6,1370.4 L329.8,1373.0 L329.0,1375.2 L328.1,1377.4 L327.3,1379.7 L330.2,1379.0 L333.0,1379.4 L335.4,1380.0 L337.7,1380.2 L340.5,1380.1 L343.8,1380.0 L347.5,1380.0 L351.2,1380.3 L354.5,1380.9 L357.4,1381.6 L360.1,1381.8 L362.8,1381.5 L365.9,1381.2 L369.3,1381.2 L372.7,1381.9 L375.8,1382.7 L378.2,1383.0 L380.1,1382.3 L381.9,1381.1 L384.2,1380.3 L387.2,1380.4 L390.9,1381.2 L394.8,1382.1 L398.5,1382.8 L401.8,1383.1 L404.7,1383.3 L407.5,1383.2 L410.4,1382.5 L413.5,1381.5 L416.6,1380.8Z" fill="#aa5540" stroke="#aa5540" stroke-width="0.5"/>
<path d="M503.8,979.8 L503.2,982.7 L501.8,985.5 L499.6,987.8 L497.2,989.5 L495.3,991.3 L494.0,993.8 L493.0,997.0 L491.7,1000.3 L490.4,1003.1 L489.3,1005.0 L492.0,1007.1 L494.8,1009.1 L497.1,1011.2 L498.4,1013.5 L498.9,1015.9 L499.6,1018.1 L501.0,1020.1 L502.9,1022.0 L504.8,1024.4 L506.3,1027.4 L508.0,1030.5 L510.1,1033.2 L512.6,1035.2 L514.7,1037.0 L515.9,1039.2 L516.6,1042.1 L517.5,1045.4 L519.1,1048.4 L521.3,1051.0 L523.4,1053.2 L525.2,1055.5 L528.3,1054.7 L531.4,1054.0 L534.4,1053.6 L537.2,1053.5 L540.1,1053.3 L543.2,1052.7 L546.6,1051.8 L550.0,1051.1 L553.0,1050.6 L555.4,1050.3 L557.4,1049.7 L559.5,1049.1 L560.0,1046.5 L561.0,1043.8 L562.6,1041.3 L565.1,1039.5 L568.3,1038.5 L571.6,1037.3 L574.2,1035.0 L575.7,1031.9 L573.8,1028.6 L571.7,1025.2 L570.0,1021.9 L568.8,1018.7 L568.4,1015.9 L568.1,1013.4 L567.3,1011.3 L565.6,1009.0 L563.2,1006.5 L561.3,1003.6 L560.5,1000.6 L560.5,997.7 L560.5,995.1 L559.4,992.6 L557.3,990.4 L555.0,988.3 L553.4,986.5 L552.7,984.6 L552.2,982.5 L551.3,980.1 L548.1,980.2 L544.7,979.8 L541.6,979.3 L539.0,978.6 L536.9,977.6 L535.1,976.8 L532.9,976.6 L530.1,977.2 L526.7,978.6 L522.9,980.0 L519.3,981.0 L516.1,981.2 L513.6,980.9 L511.4,980.5 L509.3,980.2 L506.7,980.0Z" fill="#aa5540" stroke="#aa5540" stroke-width="0.5"/>
<path d="M700.0,1140.0 L696.7,1141.9 L693.4,1143.8 L691.0,1145.6 L689.7,1147.2 L688.9,1149.1 L687.4,1152.0 L684.9,1155.8 L681.8,1159.5 L679.2,1162.0 L677.3,1163.6 L677.6,1165.8 L677.7,1167.6 L677.7,1169.6 L678.0,1172.1 L678.5,1175.3 L679.0,1178.9 L679.0,1182.6 L678.6,1186.1 L677.9,1189.3 L677.6,1192.2 L677.8,1194.9 L678.2,1197.5 L678.5,1200.0 L678.8,1202.5 L679.3,1204.8 L680.1,1207.3 L680.7,1210.2 L680.8,1213.5 L679.9,1217.2 L678.6,1221.1 L677.7,1224.9 L677.7,1228.1 L678.3,1230.8 L678.7,1233.1 L678.6,1235.3 L678.2,1237.9 L678.0,1241.0 L680.2,1240.8 L683.0,1240.7 L686.5,1240.2 L690.5,1239.4 L694.3,1238.2 L697.5,1237.4 L700.1,1237.1 L702.3,1236.9 L704.7,1236.5 L707.7,1235.6 L711.0,1234.6 L714.5,1234.2 L717.7,1234.4 L720.5,1234.6 L723.2,1234.0 L725.9,1232.4 L728.8,1230.7 L732.0,1229.9 L735.2,1230.5 L738.3,1231.5 L741.2,1231.5 L744.0,1229.9 L746.9,1227.4 L749.8,1225.5 L752.6,1225.2 L755.3,1226.2 L758.0,1227.2 L759.7,1225.5 L761.9,1223.5 L764.5,1221.8 L767.3,1220.2 L770.0,1218.6 L772.6,1216.7 L775.3,1215.0 L773.8,1211.7 L772.4,1209.1 L771.5,1207.1 L770.6,1205.0 L769.0,1202.5 L766.3,1199.7 L763.3,1197.2 L761.1,1194.8 L760.0,1192.2 L759.7,1189.0 L759.1,1185.3 L757.8,1181.9 L756.1,1179.4 L754.7,1177.8 L753.7,1176.2 L752.7,1173.7 L751.6,1170.2 L750.2,1166.4 L748.7,1163.3 L747.0,1161.4 L745.1,1159.9 L742.9,1158.2 L741.3,1156.0 L740.7,1153.4 L741.0,1151.1 L739.2,1151.1 L736.9,1150.1 L733.7,1148.1 L730.1,1145.9 L726.5,1144.7 L723.3,1144.4 L720.3,1144.3 L717.4,1143.8 L714.3,1143.0 L711.1,1142.7 L708.3,1143.1 L706.0,1143.6 L704.2,1143.3 L702.4,1141.9Z" fill="#661f58" stroke="#661f58" stroke-width="0.5"/>
<path d="M370.1,997.9 L366.8,998.5 L363.8,999.1 L360.9,998.8 L357.8,997.8 L354.6,997.0 L351.3,996.8 L348.3,997.1 L345.9,996.8 L344.0,996.0 L342.3,995.4 L340.0,995.8 L336.9,996.9 L333.0,997.7 L328.7,997.3 L324.9,995.7 L322.0,994.2 L320.0,993.8 L318.1,994.5 L315.8,995.4 L312.6,995.6 L310.5,998.3 L308.4,1000.3 L306.2,1002.1 L304.1,1003.9 L302.4,1005.4 L300.9,1006.6 L299.1,1008.2 L296.6,1010.8 L294.0,1014.2 L292.1,1017.5 L291.5,1019.9 L291.4,1021.8 L290.7,1023.9 L288.7,1026.6 L285.8,1029.5 L283.1,1032.0 L281.1,1034.5 L279.3,1036.9 L279.3,1038.6 L279.3,1040.3 L281.8,1040.8 L284.2,1041.3 L286.7,1041.9 L289.1,1042.4 L291.6,1042.9 L294.0,1043.1 L296.5,1043.3 L298.9,1043.6 L301.3,1043.8 L301.7,1045.5 L302.1,1047.3 L299.5,1048.2 L296.9,1049.1 L296.9,1050.8 L296.9,1052.6 L298.6,1054.4 L300.4,1056.1 L302.1,1057.9 L304.5,1059.7 L306.8,1061.4 L309.2,1063.2 L307.4,1065.4 L305.6,1067.6 L303.9,1069.8 L302.1,1072.0 L302.1,1074.3 L302.1,1076.7 L302.1,1079.0 L303.4,1080.8 L306.4,1079.9 L308.8,1078.3 L311.4,1077.2 L314.4,1076.3 L317.7,1075.3 L320.6,1074.2 L322.8,1073.4 L324.5,1073.0 L326.0,1072.7 L328.0,1072.1 L330.9,1071.2 L334.5,1070.2 L338.2,1069.5 L341.6,1069.3 L344.6,1068.8 L347.1,1067.3 L349.6,1064.8 L352.3,1061.9 L355.3,1059.8 L358.3,1059.1 L361.2,1059.5 L364.0,1060.0 L366.5,1059.8 L369.0,1058.7 L371.3,1057.0 L371.1,1054.8 L371.5,1052.6 L372.1,1049.8 L372.4,1046.3 L371.8,1042.2 L370.3,1038.3 L369.0,1035.1 L368.6,1032.7 L369.3,1030.7 L370.6,1028.8 L371.5,1026.3 L371.5,1023.3 L370.8,1020.0 L370.1,1016.7 L369.9,1013.6 L370.2,1010.7 L370.6,1007.7 L370.7,1004.5 L370.5,1001.1Z" fill="#af8b60" stroke="#af8b60" stroke-width="0.5"/>
<path d="M551.3,980.1 L552.2,982.5 L552.7,984.6 L553.4,986.5 L555.0,988.3 L557.3,990.4 L559.4,992.6 L560.5,995.1 L560.5,997.7 L560.5,1000.6 L561.3,1003.6 L563.2,1006.5 L565.6,1009.0 L567.3,1011.3 L568.1,1013.4 L568.4,1015.9 L568.8,1018.7 L570.0,1021.9 L571.7,1025.2 L573.8,1028.6 L575.7,1031.9 L578.6,1031.2 L581.6,1030.2 L584.4,1029.1 L586.9,1028.1 L589.4,1027.3 L592.0,1026.9 L595.0,1027.2 L598.5,1028.1 L602.1,1029.1 L605.6,1029.6 L608.4,1029.0 L610.7,1027.2 L612.6,1025.0 L614.7,1023.3 L617.3,1022.8 L620.5,1023.3 L623.9,1024.4 L627.2,1025.2 L627.7,1021.3 L627.5,1017.4 L627.4,1014.1 L627.6,1011.6 L628.1,1009.7 L628.3,1007.5 L628.1,1004.7 L628.1,1001.2 L628.8,997.6 L629.9,994.4 L630.7,991.8 L630.3,989.4 L629.2,986.7 L628.3,983.5 L628.7,980.0 L630.3,976.7 L632.4,973.9 L634.0,971.4 L634.6,969.1 L631.7,967.9 L628.4,966.1 L625.1,964.3 L622.3,962.8 L619.7,961.8 L617.1,960.8 L614.2,959.5 L611.4,957.8 L608.6,957.9 L606.2,958.9 L604.2,960.2 L602.2,960.8 L600.0,960.4 L597.3,959.5 L594.1,959.1 L590.4,959.7 L586.5,960.9 L582.8,961.7 L579.6,961.5 L577.1,960.9 L575.3,960.7 L573.8,961.4 L572.0,962.7 L569.4,963.8 L566.0,963.9 L561.9,963.2 L559.0,965.2 L556.7,967.2 L555.3,970.0 L554.4,973.5 L553.2,977.2Z" fill="#aa5540" stroke="#aa5540" stroke-width="0.5"/>
<path d="M501.9,1288.0 L502.3,1290.5 L502.1,1292.6 L501.9,1294.6 L502.2,1297.1 L503.3,1300.2 L504.7,1303.6 L506.0,1307.0 L509.1,1308.1 L512.4,1309.5 L515.8,1311.1 L518.7,1312.5 L520.7,1313.5 L522.0,1314.3 L523.3,1315.2 L525.2,1316.1 L527.8,1316.7 L530.6,1317.2 L533.6,1318.3 L536.7,1320.2 L540.2,1322.2 L543.7,1323.1 L547.1,1322.7 L549.9,1322.0 L552.2,1322.4 L554.4,1324.3 L557.2,1326.9 L560.5,1329.0 L563.8,1330.4 L566.0,1328.9 L568.0,1327.1 L569.8,1325.6 L571.5,1324.7 L572.6,1322.2 L573.2,1319.5 L573.6,1316.2 L574.8,1312.9 L577.1,1310.2 L579.6,1308.4 L581.4,1306.6 L582.1,1304.2 L582.1,1301.0 L582.2,1297.6 L582.8,1294.5 L583.6,1291.7 L584.7,1289.0 L586.2,1286.2 L584.6,1283.4 L583.1,1281.2 L582.2,1279.1 L581.8,1276.7 L581.3,1273.8 L580.3,1270.7 L578.6,1268.1 L576.6,1266.1 L574.5,1264.3 L571.3,1263.4 L567.8,1261.8 L564.1,1260.2 L560.8,1259.5 L558.1,1259.4 L556.2,1259.4 L554.4,1259.2 L552.4,1258.9 L549.7,1258.4 L546.6,1257.6 L543.5,1256.0 L540.8,1254.1 L538.5,1252.6 L536.1,1251.9 L533.4,1251.9 L530.2,1252.0 L528.1,1254.8 L526.0,1257.3 L524.1,1259.1 L522.5,1260.6 L521.0,1262.5 L519.1,1264.7 L517.1,1266.6 L515.3,1268.2 L513.9,1270.0 L512.5,1272.8 L510.6,1276.2 L508.4,1279.3 L506.3,1281.6 L504.7,1283.4 L503.5,1285.5Z" fill="#9a3348" stroke="#9a3348" stroke-width="0.5"/>
<path d="M407.8,1288.9 L408.4,1292.2 L409.0,1295.0 L410.1,1296.7 L411.7,1298.1 L413.1,1299.9 L413.8,1302.5 L414.1,1305.8 L414.6,1309.0 L416.1,1311.7 L418.3,1314.0 L420.4,1316.5 L421.6,1319.4 L421.8,1322.4 L421.9,1325.0 L422.6,1327.0 L424.3,1328.7 L426.4,1331.0 L428.2,1334.4 L429.2,1338.6 L429.6,1342.7 L429.9,1346.1 L432.7,1346.4 L436.0,1346.0 L439.5,1345.0 L442.9,1343.9 L446.0,1343.3 L448.7,1343.2 L451.0,1343.6 L453.4,1344.1 L455.9,1344.7 L458.9,1345.1 L462.1,1345.2 L465.5,1345.0 L468.7,1344.5 L471.7,1344.1 L474.6,1343.9 L477.4,1344.0 L480.2,1344.2 L483.3,1344.6 L486.4,1345.2 L488.3,1342.8 L490.6,1340.3 L492.9,1337.7 L494.4,1335.3 L495.1,1333.2 L495.5,1331.0 L496.3,1328.2 L497.6,1324.6 L499.0,1320.9 L499.9,1318.0 L500.6,1316.1 L501.5,1314.6 L502.9,1312.7 L504.6,1310.0 L506.0,1307.0 L504.7,1303.6 L503.3,1300.2 L502.2,1297.1 L501.9,1294.6 L502.1,1292.6 L502.3,1290.5 L501.9,1288.0 L498.5,1287.4 L494.6,1286.6 L490.7,1285.6 L487.5,1284.7 L485.1,1284.0 L483.1,1283.0 L481.0,1281.4 L478.5,1279.4 L475.8,1278.0 L473.2,1277.8 L470.9,1278.5 L468.7,1278.9 L465.9,1278.2 L462.2,1276.8 L458.0,1275.5 L454.0,1274.6 L450.7,1273.8 L448.3,1272.4 L446.5,1270.6 L444.6,1269.2 L442.4,1271.0 L439.9,1273.6 L437.3,1276.0 L434.5,1277.4 L431.6,1278.0 L428.6,1278.3 L425.7,1279.0 L423.2,1279.9 L421.2,1280.8 L419.7,1281.6 L418.6,1282.5 L417.2,1283.8 L414.9,1285.5 L411.7,1287.3Z" fill="#8f2b4e" stroke="#8f2b4e" stroke-width="0.5"/>
<path d="M370.3,997.7 L370.1,997.9 L370.5,1001.1 L370.7,1004.5 L370.6,1007.7 L370.2,1010.7 L369.9,1013.6 L370.1,1016.7 L370.8,1020.0 L371.5,1023.3 L371.5,1026.3 L370.6,1028.8 L369.3,1030.7 L368.6,1032.7 L369.0,1035.1 L370.3,1038.3 L371.8,1042.2 L372.4,1046.3 L372.1,1049.8 L371.5,1052.6 L371.1,1054.8 L371.3,1057.0 L373.7,1057.8 L376.2,1059.2 L378.5,1060.9 L380.8,1062.4 L383.6,1064.1 L386.9,1066.7 L390.2,1070.2 L392.6,1073.6 L393.9,1075.8 L394.7,1076.6 L397.3,1075.1 L400.3,1073.5 L403.6,1071.9 L407.0,1070.7 L410.1,1070.1 L412.9,1070.1 L415.4,1070.5 L418.0,1070.8 L421.1,1070.6 L424.6,1070.0 L428.3,1069.2 L431.7,1068.4 L434.6,1067.6 L437.0,1066.6 L439.2,1065.5 L441.6,1064.8 L441.8,1062.6 L442.0,1060.6 L442.1,1058.1 L442.4,1054.8 L443.2,1051.1 L444.6,1047.7 L446.2,1045.2 L447.4,1043.4 L448.2,1041.9 L448.9,1040.0 L449.8,1037.6 L450.8,1034.9 L451.2,1032.2 L450.6,1029.5 L449.5,1026.6 L448.9,1023.1 L447.3,1020.3 L445.8,1017.7 L444.0,1016.1 L442.2,1014.7 L440.7,1012.8 L439.6,1010.0 L438.2,1007.2 L435.9,1005.1 L432.8,1003.7 L429.5,1002.1 L426.7,999.9 L424.4,997.5 L422.0,996.0 L418.6,997.6 L415.6,998.6 L413.1,998.3 L411.0,997.0 L408.8,996.0 L406.2,996.0 L403.0,996.8 L399.5,997.5 L396.0,997.2 L393.0,996.1 L390.6,995.1 L388.6,995.4 L386.6,996.8 L384.0,998.3 L380.9,998.9 L377.4,998.3 L373.7,997.6Z" fill="#ac6f4c" stroke="#ac6f4c" stroke-width="0.5"/>
<path d="M323.3,913.9 L326.9,913.7 L330.1,914.1 L332.6,915.5 L334.9,917.3 L337.2,918.9 L339.2,920.4 L341.4,921.0 L344.4,920.8 L347.4,921.2 L350.4,922.3 L353.6,923.5 L356.8,924.2 L359.9,924.8 L362.6,925.6 L364.9,926.8 L367.2,928.3 L370.0,929.6 L373.3,931.0 L376.6,929.8 L379.6,928.1 L382.0,926.3 L383.9,924.7 L385.6,923.4 L387.4,922.1 L389.6,920.9 L392.2,920.0 L395.1,919.3 L398.0,918.6 L400.6,917.4 L400.4,913.4 L400.6,909.3 L400.8,905.8 L400.2,903.0 L398.7,900.8 L396.6,898.7 L394.6,896.3 L393.2,893.6 L392.8,890.9 L393.1,888.3 L393.8,885.7 L394.3,882.7 L394.3,879.3 L393.9,875.3 L393.2,871.4 L392.4,868.1 L391.5,865.8 L390.6,864.1 L389.9,862.4 L389.3,860.1 L389.0,857.0 L388.9,853.4 L388.7,849.9 L388.3,847.1 L386.7,846.7 L383.7,847.1 L380.8,847.4 L377.8,847.8 L377.1,845.9 L376.3,844.1 L375.6,842.2 L374.5,840.0 L373.4,837.8 L372.2,835.5 L371.1,833.3 L370.0,831.1 L371.5,829.6 L372.9,828.2 L374.4,826.7 L373.6,824.2 L372.8,821.7 L371.9,819.2 L371.1,816.7 L368.5,816.7 L365.9,816.7 L363.4,816.7 L360.8,816.7 L358.2,816.7 L355.6,816.7 L353.4,817.8 L351.1,818.9 L348.9,820.0 L346.2,819.1 L343.6,818.2 L340.9,817.4 L338.3,816.5 L335.6,815.6 L333.0,814.8 L330.4,814.1 L327.8,813.3 L328.9,816.1 L330.0,818.8 L331.1,821.6 L332.2,824.4 L332.5,827.2 L332.8,830.0 L333.0,832.8 L333.3,835.6 L334.4,838.4 L335.6,841.2 L336.7,843.9 L337.8,846.7 L339.1,848.9 L340.4,851.1 L341.8,853.4 L343.1,855.6 L344.4,857.8 L344.4,860.6 L344.4,863.3 L344.4,866.1 L344.4,868.9 L344.8,871.5 L345.2,874.1 L345.5,876.6 L345.9,879.2 L346.3,881.8 L346.7,884.4 L347.2,887.2 L347.8,890.0 L348.3,892.8 L348.9,895.6 L348.6,898.4 L348.4,901.2 L348.1,903.9 L347.8,906.7 L349.8,908.9 L351.7,911.2 L353.7,913.4 L355.6,915.6 L352.8,915.7 L350.1,915.8 L347.3,915.9 L344.6,916.0 L341.8,916.1 L339.1,916.2 L336.3,916.3 L334.4,915.1 L332.6,913.8 L330.7,912.6 L331.6,910.3 L332.6,908.0 L330.1,908.3 L327.7,908.6 L325.2,908.9 L322.9,910.8 L323.0,912.5Z" fill="#adb085" stroke="#adb085" stroke-width="0.5"/>
<path d="M746.4,920.7 L746.8,920.4 L745.7,918.2 L745.0,916.2 L744.8,913.9 L745.1,911.3 L745.3,908.2 L745.4,904.8 L745.3,901.3 L745.3,898.1 L745.5,895.2 L745.6,892.9 L745.4,890.8 L744.5,888.8 L743.1,886.3 L741.8,883.3 L740.9,879.8 L740.5,876.2 L740.4,872.7 L740.4,869.7 L740.3,867.0 L738.1,867.7 L735.7,868.0 L733.2,866.7 L730.8,864.1 L728.3,861.5 L725.7,860.4 L722.7,860.9 L719.4,861.8 L716.2,861.8 L713.5,860.7 L711.2,859.2 L709.0,857.8 L706.4,856.5 L703.4,855.2 L700.4,853.9 L697.9,853.0 L695.8,854.4 L693.1,856.3 L690.6,858.9 L688.4,861.6 L686.3,863.8 L683.7,865.4 L680.6,867.0 L678.8,869.3 L677.9,871.9 L678.1,874.5 L678.8,876.9 L679.2,879.5 L678.9,882.5 L678.0,885.9 L676.6,889.1 L674.9,891.8 L672.9,894.1 L671.3,896.2 L670.9,898.7 L671.7,901.5 L673.0,904.4 L673.6,907.3 L672.7,910.5 L672.8,913.7 L672.6,916.7 L672.5,919.4 L674.9,917.9 L677.2,917.0 L679.8,917.3 L682.9,918.5 L686.4,919.6 L690.3,919.7 L694.2,919.1 L697.8,918.9 L701.0,919.7 L703.6,921.0 L705.9,921.7 L708.0,921.3 L710.3,920.3 L712.9,919.9 L716.0,920.5 L719.2,921.6 L722.5,922.2 L725.6,922.1 L728.7,921.9 L731.7,922.0 L735.0,922.4 L738.4,922.3 L741.6,921.5 L744.3,920.6Z" fill="#ac6a4a" stroke="#ac6a4a" stroke-width="0.5"/>
<path d="M784.0,1007.9 L785.2,1005.2 L786.8,1003.1 L788.9,1001.7 L791.2,1000.1 L793.0,997.7 L794.2,994.4 L795.6,991.2 L797.6,988.2 L800.0,985.3 L802.0,982.1 L803.0,978.9 L803.4,976.6 L804.1,975.3 L805.8,974.4 L808.3,972.9 L808.6,970.2 L808.3,967.4 L807.7,964.3 L807.2,960.8 L807.2,957.3 L807.3,954.2 L807.3,951.7 L806.8,949.5 L805.7,947.4 L804.7,944.9 L804.2,941.9 L804.1,938.6 L802.0,936.1 L799.6,934.2 L797.3,932.2 L795.7,930.0 L794.5,927.8 L792.9,926.0 L789.8,925.9 L786.0,925.7 L782.0,925.4 L778.4,925.3 L775.6,925.2 L773.5,924.8 L771.5,923.7 L768.9,922.2 L765.5,921.3 L761.4,921.8 L757.1,923.1 L753.4,924.1 L750.6,923.8 L748.5,922.1 L746.8,920.4 L746.4,920.7 L746.4,923.4 L745.6,926.7 L744.5,930.2 L743.3,933.5 L742.1,936.7 L740.7,940.1 L739.5,944.1 L739.1,948.3 L739.8,951.7 L740.8,954.0 L740.8,955.3 L739.2,956.7 L736.5,958.8 L734.1,961.9 L732.9,965.5 L732.8,969.2 L733.1,972.7 L733.4,976.0 L733.5,978.9 L733.6,981.2 L733.1,983.0 L731.7,984.8 L729.5,987.6 L731.7,988.5 L734.5,989.8 L737.9,991.1 L741.3,992.5 L744.4,994.3 L746.8,996.1 L749.0,997.4 L751.3,998.2 L753.8,999.0 L756.4,1000.3 L759.0,1001.7 L761.9,1002.3 L765.2,1002.2 L768.8,1002.1 L772.2,1003.1 L774.8,1005.1 L776.7,1007.1 L778.4,1007.9 L780.7,1007.8Z" fill="#ad6346" stroke="#ad6346" stroke-width="0.5"/>
<path d="M400.6,917.4 L398.0,918.6 L395.1,919.3 L392.2,920.0 L389.6,920.9 L387.4,922.1 L385.6,923.4 L383.9,924.7 L382.0,926.3 L379.6,928.1 L376.6,929.8 L373.3,931.0 L373.0,933.5 L372.7,935.7 L372.8,937.8 L372.9,940.1 L372.6,942.7 L372.0,945.8 L371.5,949.1 L371.9,952.4 L373.1,955.7 L374.3,958.9 L374.4,961.8 L373.2,964.6 L371.4,967.1 L370.3,969.5 L370.4,972.0 L371.3,974.9 L372.0,978.4 L372.1,982.2 L371.4,985.8 L370.5,988.8 L369.9,991.1 L369.8,993.0 L370.0,995.0 L370.3,997.7 L373.7,997.6 L377.4,998.3 L380.9,998.9 L384.0,998.3 L386.6,996.8 L388.6,995.4 L390.6,995.1 L393.0,996.1 L396.0,997.2 L399.5,997.5 L403.0,996.8 L406.2,996.0 L408.8,996.0 L411.0,997.0 L413.1,998.3 L415.6,998.6 L418.6,997.6 L422.0,996.0 L422.9,992.6 L423.7,989.1 L424.6,986.1 L425.2,984.0 L425.5,982.2 L425.9,980.2 L426.9,977.8 L428.7,975.1 L430.7,972.5 L432.2,970.0 L433.0,967.4 L433.6,964.6 L434.3,961.7 L434.9,959.0 L435.0,956.4 L434.6,953.5 L432.0,950.7 L429.7,948.2 L427.7,946.7 L426.1,945.5 L425.1,943.5 L424.6,940.4 L424.0,936.8 L422.5,933.6 L419.9,931.3 L417.0,929.4 L414.6,927.2 L412.9,924.7 L411.5,922.5 L409.6,921.0 L407.4,920.1 L405.3,918.8 L403.0,918.5Z" fill="#b07e56" stroke="#b07e56" stroke-width="0.5"/>
<path d="M814.4,854.7 L813.1,856.7 L812.3,858.6 L812.2,861.3 L811.8,865.2 L810.5,869.8 L808.2,874.2 L805.8,877.4 L804.4,879.6 L803.9,881.5 L803.6,883.7 L803.1,886.2 L802.5,888.9 L802.2,891.9 L801.9,895.5 L801.0,899.6 L799.2,903.4 L797.1,906.4 L795.4,908.7 L794.3,910.8 L793.6,913.5 L792.8,916.6 L792.5,919.5 L792.7,921.8 L793.3,923.7 L792.9,926.0 L794.5,927.8 L795.7,930.0 L797.3,932.2 L799.6,934.2 L802.0,936.1 L804.1,938.6 L807.1,938.3 L809.7,937.7 L811.9,936.3 L813.8,934.4 L815.9,932.8 L818.5,932.2 L822.0,932.1 L826.2,931.8 L830.6,930.5 L834.6,928.7 L837.4,927.3 L839.1,926.6 L840.2,926.3 L841.6,925.5 L843.9,924.0 L847.1,922.2 L850.8,921.2 L854.3,921.0 L857.4,920.8 L860.2,919.6 L863.0,917.1 L866.2,914.5 L863.5,912.9 L860.8,912.2 L859.1,911.3 L858.1,909.4 L857.1,906.5 L855.2,903.1 L852.6,900.0 L850.0,897.4 L847.5,895.1 L845.3,893.1 L843.1,891.2 L841.2,889.4 L839.9,887.6 L839.2,885.2 L838.1,882.5 L836.0,879.6 L833.2,877.0 L830.5,875.0 L828.9,873.5 L828.0,872.2 L827.1,870.9 L825.6,869.5 L823.4,867.5 L821.2,864.7 L819.1,861.1 L816.8,857.6Z" fill="#ad6346" stroke="#ad6346" stroke-width="0.5"/>
<path d="M740.3,867.0 L740.4,869.7 L740.4,872.7 L740.5,876.2 L740.9,879.8 L741.8,883.3 L743.1,886.3 L744.5,888.8 L745.4,890.8 L745.6,892.9 L745.5,895.2 L745.3,898.1 L745.3,901.3 L745.4,904.8 L745.3,908.2 L745.1,911.3 L744.8,913.9 L745.0,916.2 L745.7,918.2 L746.8,920.4 L748.5,922.1 L750.6,923.8 L753.4,924.1 L757.1,923.1 L761.4,921.8 L765.5,921.3 L768.9,922.2 L771.5,923.7 L773.5,924.8 L775.6,925.2 L778.4,925.3 L782.0,925.4 L786.0,925.7 L789.8,925.9 L792.9,926.0 L793.3,923.7 L792.7,921.8 L792.5,919.5 L792.8,916.6 L793.6,913.5 L794.3,910.8 L795.4,908.7 L797.1,906.4 L799.2,903.4 L801.0,899.6 L801.9,895.5 L802.2,891.9 L802.5,888.9 L803.1,886.2 L803.6,883.7 L803.9,881.5 L804.4,879.6 L805.8,877.4 L808.2,874.2 L810.5,869.8 L811.8,865.2 L812.2,861.3 L812.3,858.6 L813.1,856.7 L814.4,854.7 L814.1,852.4 L814.0,849.9 L813.9,847.5 L814.0,845.2 L814.1,843.2 L813.6,841.1 L812.7,838.2 L812.5,838.2 L810.6,839.0 L808.6,839.7 L806.7,840.5 L804.8,838.6 L802.8,836.6 L800.9,834.7 L798.6,833.9 L796.3,833.0 L794.0,832.1 L791.7,831.3 L788.8,831.9 L785.9,832.5 L783.0,833.0 L780.1,833.6 L778.2,832.5 L777.4,833.5 L775.4,835.8 L772.0,838.8 L768.5,841.4 L765.8,843.8 L764.1,846.3 L762.7,848.8 L760.9,850.7 L758.8,851.8 L756.8,852.9 L755.5,854.5 L754.5,856.7 L752.8,858.5 L749.9,859.9 L746.2,861.5 L742.7,864.0Z" fill="#ad6346" stroke="#ad6346" stroke-width="0.5"/>
<path d="M312.6,995.6 L311.3,992.1 L309.7,989.1 L308.4,986.6 L307.5,984.3 L307.0,981.9 L306.2,979.1 L305.3,976.2 L304.3,973.5 L303.7,971.0 L303.5,968.5 L303.4,965.5 L302.8,962.1 L301.7,958.6 L298.7,958.0 L295.4,957.6 L292.2,957.4 L289.1,957.1 L286.1,956.5 L283.0,955.6 L279.9,955.1 L277.1,955.1 L274.5,955.2 L272.0,954.8 L269.4,953.5 L266.3,952.0 L262.6,951.2 L258.8,951.3 L255.1,951.6 L252.0,951.2 L249.4,950.3 L247.3,949.7 L245.3,949.9 L243.3,950.8 L241.3,951.1 L239.2,950.1 L237.8,951.4 L235.6,952.8 L233.2,955.0 L231.4,957.7 L230.1,960.3 L228.7,962.8 L226.9,965.5 L224.9,968.5 L223.6,971.7 L223.2,974.5 L223.2,976.8 L222.6,979.2 L220.9,982.2 L218.4,985.5 L215.6,988.3 L213.5,989.5 L213.0,990.9 L215.2,991.3 L217.4,991.8 L219.6,992.2 L221.5,994.1 L223.3,995.9 L225.2,997.8 L227.6,997.9 L230.0,998.0 L232.3,999.2 L234.7,1000.4 L237.0,1001.6 L238.5,1003.4 L239.9,1005.1 L241.4,1006.9 L241.4,1009.8 L241.4,1012.7 L241.4,1015.6 L243.6,1017.4 L245.8,1019.2 L246.4,1016.8 L247.0,1014.5 L247.6,1012.1 L249.3,1011.2 L251.1,1010.4 L253.4,1012.1 L255.8,1013.9 L258.1,1015.6 L260.5,1017.1 L262.8,1018.5 L265.2,1020.0 L268.0,1020.0 L270.8,1020.0 L273.5,1020.0 L276.3,1020.0 L279.1,1020.0 L281.9,1020.0 L282.4,1022.2 L282.8,1024.4 L281.9,1027.1 L281.0,1029.7 L280.1,1032.3 L279.3,1035.0 L279.3,1036.9 L281.1,1034.5 L283.1,1032.0 L285.8,1029.5 L288.7,1026.6 L290.7,1023.9 L291.4,1021.8 L291.5,1019.9 L292.1,1017.5 L294.0,1014.2 L296.6,1010.8 L299.1,1008.2 L300.9,1006.6 L302.4,1005.4 L304.1,1003.9 L306.2,1002.1 L308.4,1000.3 L310.5,998.3Z" fill="#ada276" stroke="#ada276" stroke-width="0.5"/>
<path d="M814.4,854.7 L816.8,857.6 L819.1,861.1 L821.2,864.7 L823.4,867.5 L825.6,869.5 L827.1,870.9 L828.0,872.2 L828.9,873.5 L830.5,875.0 L833.2,877.0 L836.0,879.6 L838.1,882.5 L839.2,885.2 L839.9,887.6 L841.2,889.4 L843.1,891.2 L845.3,893.1 L847.5,895.1 L850.0,897.4 L852.6,900.0 L855.2,903.1 L857.1,906.5 L858.1,909.4 L859.1,911.3 L860.8,912.2 L863.5,912.9 L866.2,914.5 L869.1,914.5 L871.7,915.5 L873.5,913.5 L874.1,911.8 L874.1,909.7 L874.5,907.4 L876.1,905.1 L878.7,903.0 L881.2,900.6 L882.9,897.6 L884.0,894.4 L885.0,891.7 L886.1,889.7 L887.3,887.8 L888.6,885.2 L890.0,881.9 L892.1,878.8 L894.3,876.2 L895.9,873.8 L896.6,871.0 L896.8,867.8 L897.9,865.3 L900.5,864.1 L898.1,863.0 L895.8,862.0 L892.9,862.7 L890.0,863.4 L887.2,864.1 L884.3,864.8 L882.0,864.5 L879.6,864.2 L877.3,864.0 L875.0,863.7 L872.7,862.5 L870.4,861.4 L868.0,860.2 L865.7,859.0 L863.4,860.2 L861.1,861.3 L858.8,862.5 L856.5,861.0 L854.2,859.4 L851.9,857.9 L851.0,855.6 L850.0,853.3 L849.1,850.9 L848.1,848.6 L847.2,846.3 L845.8,844.3 L844.3,842.2 L842.9,840.2 L841.4,838.2 L838.5,837.6 L835.6,837.0 L832.8,836.5 L829.9,835.9 L827.0,835.3 L824.1,834.7 L821.2,835.6 L818.4,836.4 L815.5,837.3 L812.7,838.2 L813.6,841.1 L814.1,843.2 L814.0,845.2 L813.9,847.5 L814.0,849.9 L814.1,852.4Z" fill="#ac6949" stroke="#ac6949" stroke-width="0.5"/>
<path d="M700.4,1028.4 L697.3,1030.4 L693.5,1031.8 L689.6,1032.0 L686.0,1031.3 L683.2,1030.7 L681.2,1030.4 L679.5,1030.2 L677.6,1029.7 L675.1,1029.0 L671.8,1028.5 L668.2,1028.7 L664.7,1029.4 L661.6,1030.0 L659.0,1029.9 L656.7,1029.5 L654.2,1029.1 L651.4,1029.0 L648.2,1029.1 L645.0,1029.0 L642.0,1028.9 L639.3,1029.0 L636.8,1029.7 L634.2,1030.9 L631.2,1031.6 L630.8,1033.4 L630.6,1034.7 L630.9,1036.2 L631.5,1038.7 L631.9,1042.1 L631.7,1046.0 L631.1,1049.8 L630.7,1053.1 L630.8,1055.8 L631.5,1058.4 L632.4,1061.0 L633.0,1063.8 L633.2,1066.6 L633.3,1069.2 L633.7,1071.5 L634.3,1073.9 L635.0,1076.5 L635.4,1079.8 L635.4,1083.5 L635.2,1087.2 L635.2,1090.3 L638.8,1089.8 L641.6,1089.9 L643.8,1090.8 L646.0,1091.8 L648.8,1092.3 L652.2,1092.4 L655.9,1093.1 L659.2,1094.6 L662.2,1096.2 L665.1,1096.8 L668.4,1096.7 L672.0,1097.0 L675.4,1098.3 L678.2,1100.2 L680.4,1101.6 L682.4,1102.2 L684.7,1102.5 L687.4,1103.3 L689.1,1100.5 L690.5,1097.2 L692.0,1094.2 L693.5,1091.7 L694.5,1089.6 L695.0,1087.2 L695.4,1084.9 L696.8,1082.9 L699.4,1080.8 L702.6,1077.9 L705.1,1074.0 L706.6,1069.7 L707.6,1066.3 L709.0,1064.2 L710.9,1062.9 L712.6,1061.2 L710.8,1058.4 L709.1,1055.5 L707.9,1052.4 L707.6,1049.3 L707.7,1046.3 L707.5,1043.4 L706.7,1040.6 L705.4,1037.6 L703.8,1034.3 L702.1,1031.2Z" fill="#a33f44" stroke="#a33f44" stroke-width="0.5"/>
<path d="M690.9,784.4 L692.5,783.2 L693.8,781.6 L694.9,779.8 L697.0,777.6 L699.0,775.5 L701.0,773.3 L702.7,771.2 L700.6,769.3 L698.5,767.4 L696.4,765.5 L694.3,763.7 L692.2,761.8 L690.1,759.9 L687.2,760.1 L684.4,760.2 L681.5,760.4 L678.6,760.5 L675.7,760.7 L672.9,760.8 L670.0,761.0 L669.4,758.7 L668.7,756.3 L668.1,754.0 L665.8,752.3 L663.5,750.6 L661.2,748.9 L658.9,747.2 L656.6,745.5 L654.0,745.3 L651.4,745.1 L648.8,745.0 L646.2,744.8 L645.7,742.3 L645.1,739.9 L644.5,737.5 L644.0,735.0 L643.7,732.5 L643.3,730.0 L643.0,727.5 L641.5,725.8 L640.0,724.0 L638.5,722.3 L637.0,720.6 L634.3,720.9 L631.5,721.1 L628.8,721.4 L626.5,723.7 L623.6,725.9 L621.4,727.9 L620.0,730.3 L618.5,733.1 L616.1,735.6 L615.4,738.8 L615.1,741.4 L615.1,743.5 L615.0,745.4 L614.5,747.5 L613.6,749.7 L612.9,752.1 L612.6,754.9 L612.6,757.9 L612.5,761.3 L611.8,764.8 L611.1,767.9 L610.9,770.7 L611.5,773.4 L613.5,776.2 L614.7,778.9 L615.5,781.1 L616.4,782.8 L617.8,784.5 L619.3,786.6 L620.6,789.2 L621.9,791.7 L623.6,793.9 L625.9,795.7 L628.4,797.2 L630.5,798.9 L632.0,800.8 L633.8,799.4 L636.2,798.7 L639.3,798.4 L642.8,798.0 L646.6,797.2 L650.3,796.4 L653.8,796.0 L656.9,795.8 L659.6,795.5 L661.8,794.3 L663.7,792.5 L665.9,791.0 L668.5,790.5 L671.8,791.1 L675.3,791.6 L678.6,790.8 L681.3,788.5 L683.5,785.6 L685.6,783.7 L687.9,783.5Z" fill="#af8b60" stroke="#af8b60" stroke-width="0.5"/>
<path d="M628.1,844.6 L628.0,840.9 L627.8,837.2 L627.3,833.7 L626.4,830.8 L625.0,828.6 L623.6,827.1 L622.4,825.6 L621.8,823.5 L618.1,823.3 L615.2,822.4 L612.9,821.8 L611.0,822.0 L609.0,822.4 L606.5,822.8 L603.4,823.0 L600.0,823.3 L596.4,824.0 L593.0,825.0 L589.9,825.8 L587.0,826.2 L584.3,826.2 L581.7,826.3 L579.1,826.4 L576.5,826.6 L573.9,826.6 L571.2,826.3 L568.5,826.2 L565.7,826.7 L562.9,827.8 L560.0,829.1 L556.9,830.0 L553.7,830.1 L553.4,832.9 L553.1,835.4 L552.4,837.4 L550.9,839.0 L549.0,840.8 L547.2,843.1 L546.1,846.0 L545.7,849.1 L545.6,852.0 L547.2,854.3 L548.4,856.7 L549.1,859.2 L551.2,861.1 L553.3,863.2 L556.1,864.9 L559.7,866.3 L563.5,866.9 L567.2,866.6 L570.3,865.4 L573.0,864.3 L575.3,864.6 L577.4,866.6 L579.1,869.6 L580.7,871.9 L582.7,872.7 L585.4,872.6 L588.9,872.6 L592.9,873.3 L596.7,874.2 L599.6,874.8 L601.9,875.3 L604.1,876.2 L606.6,877.9 L609.4,879.7 L612.2,880.8 L612.5,879.2 L613.0,877.5 L614.1,875.0 L615.5,871.5 L616.7,867.5 L617.6,864.0 L618.7,861.1 L620.5,858.7 L622.8,856.4 L625.0,854.2 L626.3,852.2 L626.8,850.3 L627.2,847.9Z" fill="#ab946a" stroke="#ab946a" stroke-width="0.5"/>
<path d="M465.5,881.5 L462.4,883.5 L459.5,886.3 L457.1,888.8 L455.3,890.0 L453.7,890.4 L451.5,891.1 L448.6,892.6 L445.1,894.5 L441.8,895.9 L439.3,896.6 L437.3,897.4 L435.5,899.2 L432.9,901.8 L429.7,904.3 L426.2,906.1 L423.0,907.2 L420.4,908.3 L418.2,909.6 L415.8,910.8 L413.0,912.1 L410.1,913.7 L407.5,916.1 L405.3,918.8 L407.4,920.1 L409.6,921.0 L411.5,922.5 L412.9,924.7 L414.6,927.2 L417.0,929.4 L419.9,931.3 L422.5,933.6 L424.0,936.8 L424.6,940.4 L425.1,943.5 L426.1,945.5 L427.7,946.7 L429.7,948.2 L432.0,950.7 L434.6,953.5 L437.4,953.2 L440.5,952.4 L443.6,951.3 L446.8,950.4 L449.9,949.8 L453.1,949.6 L456.5,949.6 L459.9,949.5 L463.1,949.1 L465.9,948.5 L468.2,948.0 L470.2,947.8 L472.2,947.9 L474.6,947.9 L477.7,947.4 L481.4,946.5 L485.2,945.4 L488.7,944.7 L489.6,942.6 L489.4,941.3 L488.9,940.1 L488.7,938.3 L489.5,935.5 L490.7,932.1 L491.8,928.9 L492.4,926.1 L492.7,923.7 L493.3,921.1 L494.3,918.2 L492.8,916.0 L491.0,912.9 L488.6,909.3 L485.8,906.4 L483.6,905.1 L482.3,904.4 L481.4,903.2 L480.2,900.5 L478.3,896.9 L476.2,893.6 L474.2,891.1 L472.3,888.9 L470.1,886.5 L467.7,883.8Z" fill="#af8b60" stroke="#af8b60" stroke-width="0.5"/>
<path d="M616.1,735.6 L612.6,733.7 L609.2,732.3 L605.9,732.1 L603.0,732.4 L600.3,732.4 L597.6,731.9 L594.9,731.6 L591.8,731.9 L588.6,732.2 L585.5,731.6 L583.0,730.1 L581.2,728.4 L579.8,727.6 L578.1,727.9 L575.5,728.5 L572.0,728.2 L567.9,727.2 L563.9,726.1 L560.6,725.7 L558.1,725.9 L555.8,725.7 L553.1,724.9 L549.8,723.7 L546.0,722.8 L542.7,722.8 L540.8,723.1 L540.8,726.1 L540.8,729.0 L540.8,732.0 L540.8,734.9 L540.8,737.9 L540.8,740.8 L540.8,743.8 L540.8,746.7 L540.8,749.7 L540.8,752.6 L540.8,755.6 L540.8,758.5 L540.8,761.5 L540.8,764.4 L540.8,767.4 L540.8,770.3 L538.8,772.3 L536.7,774.4 L540.3,775.1 L543.9,775.2 L546.4,774.7 L548.3,774.4 L550.2,774.3 L552.5,774.3 L555.4,774.5 L559.0,774.9 L563.0,775.4 L566.9,775.6 L570.5,775.2 L573.6,774.3 L576.4,773.3 L579.0,772.7 L581.6,772.6 L584.3,772.9 L587.1,773.5 L589.9,774.0 L592.8,774.2 L595.8,773.9 L599.0,773.3 L602.3,772.7 L605.6,772.5 L608.7,772.8 L611.5,773.4 L610.9,770.7 L611.1,767.9 L611.8,764.8 L612.5,761.3 L612.6,757.9 L612.6,754.9 L612.9,752.1 L613.6,749.7 L614.5,747.5 L615.0,745.4 L615.1,743.5 L615.1,741.4 L615.4,738.8Z" fill="#ab946a" stroke="#ab946a" stroke-width="0.5"/>
<path d="M602.1,1211.0 L605.4,1212.2 L608.8,1212.8 L612.4,1213.8 L615.7,1215.2 L618.4,1216.6 L620.4,1218.0 L622.2,1219.4 L624.6,1221.1 L627.7,1222.3 L631.1,1222.8 L633.9,1222.9 L635.9,1223.6 L637.7,1225.5 L639.9,1228.0 L642.8,1230.0 L645.8,1231.3 L648.7,1232.6 L651.4,1234.4 L654.3,1236.0 L657.6,1236.7 L661.0,1236.5 L664.0,1236.5 L666.5,1237.5 L668.7,1239.4 L671.2,1241.4 L673.9,1243.2 L676.4,1244.7 L677.2,1242.7 L678.0,1241.0 L678.2,1237.9 L678.6,1235.3 L678.7,1233.1 L678.3,1230.8 L677.7,1228.1 L677.7,1224.9 L678.6,1221.1 L679.9,1217.2 L680.8,1213.5 L680.7,1210.2 L680.1,1207.3 L679.3,1204.8 L678.8,1202.5 L678.5,1200.0 L678.2,1197.5 L677.8,1194.9 L677.6,1192.2 L677.9,1189.3 L678.6,1186.1 L679.0,1182.6 L679.0,1178.9 L678.5,1175.3 L678.0,1172.1 L677.7,1169.6 L677.7,1167.6 L677.6,1165.8 L677.3,1163.6 L674.9,1162.4 L672.4,1161.2 L669.5,1160.6 L666.4,1160.5 L663.3,1160.6 L660.4,1160.5 L657.7,1160.2 L655.2,1159.9 L652.7,1159.6 L649.9,1159.1 L646.8,1158.2 L643.4,1157.5 L640.0,1157.5 L636.8,1158.2 L633.7,1158.9 L631.0,1158.8 L628.6,1157.8 L626.2,1156.8 L623.6,1156.7 L620.6,1157.2 L617.1,1157.5 L613.2,1156.7 L609.4,1155.3 L605.9,1154.5 L602.9,1154.9 L600.3,1156.0 L597.7,1156.6 L594.9,1156.1 L591.6,1155.0 L588.2,1154.2 L585.1,1154.0 L585.0,1155.0 L585.0,1156.5 L585.0,1158.6 L584.9,1161.3 L585.8,1164.6 L586.4,1168.0 L587.1,1171.2 L588.5,1174.2 L590.1,1177.0 L591.8,1179.7 L593.2,1182.5 L594.6,1185.3 L596.1,1188.2 L597.5,1191.3 L598.1,1194.3 L598.0,1197.1 L597.7,1199.5 L597.8,1201.9 L598.8,1204.6 L600.3,1207.7Z" fill="#842853" stroke="#842853" stroke-width="0.5"/>
<path d="M327.3,1379.7 L326.6,1381.5 L325.9,1383.3 L325.0,1385.9 L324.2,1388.5 L323.3,1391.1 L321.4,1393.4 L319.5,1395.7 L317.5,1397.9 L315.6,1400.2 L313.0,1400.6 L310.4,1401.1 L307.8,1401.5 L308.5,1404.1 L309.1,1406.7 L311.3,1408.0 L313.4,1409.3 L315.6,1410.6 L317.3,1411.9 L319.0,1413.1 L320.7,1414.4 L323.3,1414.7 L325.9,1415.1 L328.5,1415.4 L331.1,1415.7 L332.4,1418.3 L333.7,1420.9 L332.0,1422.2 L330.2,1423.5 L328.5,1424.8 L328.5,1427.4 L328.5,1430.0 L329.8,1432.6 L331.1,1435.2 L333.7,1435.2 L336.3,1435.2 L338.9,1435.2 L341.5,1436.5 L344.1,1437.8 L346.7,1439.1 L349.3,1440.4 L351.9,1440.8 L354.4,1441.3 L357.0,1441.7 L359.6,1443.0 L362.2,1444.3 L364.8,1445.6 L367.4,1446.9 L369.7,1447.2 L371.9,1447.6 L374.2,1447.9 L376.5,1448.2 L377.1,1450.8 L377.8,1453.3 L379.5,1454.6 L381.3,1455.9 L383.0,1457.2 L384.9,1458.5 L386.9,1459.8 L388.8,1461.1 L390.7,1462.4 L392.7,1462.4 L394.2,1459.9 L394.3,1458.2 L394.6,1456.0 L395.9,1453.3 L398.1,1450.3 L400.1,1447.2 L401.4,1443.9 L402.0,1440.1 L402.4,1436.3 L402.9,1433.1 L403.3,1431.1 L403.6,1429.9 L404.3,1428.4 L405.8,1425.7 L408.0,1422.0 L409.9,1418.0 L411.0,1414.5 L411.6,1411.5 L412.5,1408.4 L414.2,1405.1 L415.9,1402.1 L416.8,1399.5 L417.0,1397.3 L417.1,1394.9 L417.8,1392.0 L419.2,1389.0 L420.6,1386.5 L420.3,1383.7 L419.4,1381.2 L416.6,1380.8 L413.5,1381.5 L410.4,1382.5 L407.5,1383.2 L404.7,1383.3 L401.8,1383.1 L398.5,1382.8 L394.8,1382.1 L390.9,1381.2 L387.2,1380.4 L384.2,1380.3 L381.9,1381.1 L380.1,1382.3 L378.2,1383.0 L375.8,1382.7 L372.7,1381.9 L369.3,1381.2 L365.9,1381.2 L362.8,1381.5 L360.1,1381.8 L357.4,1381.6 L354.5,1380.9 L351.2,1380.3 L347.5,1380.0 L343.8,1380.0 L340.5,1380.1 L337.7,1380.2 L335.4,1380.0 L333.0,1379.4 L330.2,1379.0Z" fill="#b07e56" stroke="#b07e56" stroke-width="0.5"/>
<path d="M392.7,1462.4 L395.6,1462.4 L398.5,1462.4 L401.1,1461.5 L403.7,1460.7 L406.3,1459.8 L408.9,1461.1 L411.5,1462.4 L414.1,1463.7 L415.8,1465.4 L417.6,1467.2 L419.3,1468.9 L421.9,1470.2 L424.5,1471.5 L427.1,1472.4 L429.6,1473.2 L432.2,1474.1 L434.8,1473.2 L437.4,1472.4 L440.0,1471.5 L442.6,1472.8 L445.2,1474.1 L447.8,1475.4 L450.4,1474.8 L453.0,1474.1 L455.6,1474.1 L458.1,1474.1 L460.7,1474.1 L463.7,1474.1 L466.7,1474.1 L469.7,1474.1 L472.7,1474.1 L471.6,1470.4 L472.9,1467.4 L474.3,1464.8 L475.2,1462.4 L476.0,1460.3 L476.3,1457.4 L476.9,1455.9 L478.1,1453.8 L479.1,1451.0 L479.6,1447.8 L479.6,1445.0 L479.9,1442.6 L481.0,1440.2 L482.5,1437.3 L483.6,1433.7 L484.0,1429.8 L483.9,1426.2 L484.1,1423.2 L481.0,1422.2 L478.4,1422.0 L476.5,1421.8 L474.8,1420.4 L472.6,1417.8 L469.7,1415.0 L466.6,1412.9 L463.9,1411.6 L461.4,1410.5 L458.8,1409.2 L455.7,1408.0 L452.5,1407.0 L449.9,1405.7 L448.2,1403.8 L446.9,1401.7 L445.3,1399.8 L443.0,1398.5 L440.1,1397.0 L437.2,1394.9 L434.2,1392.9 L430.9,1391.8 L427.4,1391.6 L424.2,1391.2 L422.0,1389.4 L420.6,1386.5 L419.2,1389.0 L417.8,1392.0 L417.1,1394.9 L417.0,1397.3 L416.8,1399.5 L415.9,1402.1 L414.2,1405.1 L412.5,1408.4 L411.6,1411.5 L411.0,1414.5 L409.9,1418.0 L408.0,1422.0 L405.8,1425.7 L404.3,1428.4 L403.6,1429.9 L403.3,1431.1 L402.9,1433.1 L402.4,1436.3 L402.0,1440.1 L401.4,1443.9 L400.1,1447.2 L398.1,1450.3 L395.9,1453.3 L394.6,1456.0 L394.3,1458.2 L394.2,1459.9Z" fill="#b08259" stroke="#b08259" stroke-width="0.5"/>
<path d="M569.0,1461.8 L567.7,1463.7 L566.8,1465.8 L566.1,1468.5 L565.3,1471.3 L564.2,1473.8 L563.1,1475.9 L562.4,1478.2 L562.3,1481.1 L562.2,1484.6 L561.5,1488.0 L560.4,1490.7 L559.1,1492.5 L558.1,1494.5 L557.5,1498.2 L559.3,1500.0 L561.2,1502.0 L563.1,1503.9 L565.1,1505.8 L567.0,1507.8 L569.7,1506.9 L572.3,1505.9 L575.0,1505.0 L577.5,1503.7 L579.9,1502.4 L582.4,1501.1 L585.0,1501.6 L587.5,1502.1 L590.0,1502.6 L592.6,1503.1 L594.6,1504.1 L596.7,1505.2 L598.7,1506.2 L600.7,1507.2 L603.4,1507.9 L606.2,1508.5 L608.9,1509.2 L610.3,1507.2 L611.6,1505.1 L613.0,1503.1 L615.7,1502.4 L618.4,1501.8 L621.1,1501.1 L623.5,1499.7 L625.8,1498.4 L628.2,1497.0 L630.6,1497.7 L633.0,1498.3 L635.4,1499.0 L637.9,1499.3 L640.5,1499.5 L643.0,1499.8 L645.5,1500.1 L645.2,1497.7 L644.8,1495.4 L644.5,1493.0 L642.5,1491.0 L640.4,1488.9 L640.2,1486.2 L640.1,1483.5 L639.9,1480.8 L639.7,1478.0 L639.6,1475.3 L639.4,1472.6 L639.3,1469.7 L639.1,1466.8 L639.0,1463.9 L638.8,1460.9 L638.7,1458.0 L638.5,1455.1 L638.4,1452.2 L638.4,1450.5 L638.4,1448.7 L635.7,1450.5 L632.5,1451.2 L629.2,1451.4 L625.7,1451.5 L622.0,1451.5 L618.6,1451.5 L615.8,1451.4 L613.7,1451.8 L611.9,1452.6 L610.1,1453.8 L607.5,1455.0 L604.1,1455.7 L600.2,1456.1 L596.4,1456.5 L593.2,1457.0 L590.8,1457.5 L588.8,1457.3 L586.8,1456.4 L584.1,1455.5 L580.8,1455.5 L577.2,1456.9 L573.9,1459.2 L571.1,1461.2Z" fill="#ac6949" stroke="#ac6949" stroke-width="0.5"/>
<path d="M871.7,915.5 L872.5,918.6 L872.9,921.3 L873.7,923.8 L874.9,926.5 L876.3,929.5 L878.0,932.5 L879.9,934.7 L882.1,936.1 L884.3,937.2 L885.9,939.0 L886.6,942.0 L889.2,943.5 L891.8,944.9 L894.7,945.1 L897.8,944.3 L901.1,943.6 L904.3,943.9 L907.5,945.4 L910.7,947.0 L913.8,948.0 L916.9,948.0 L919.1,947.6 L920.4,948.4 L921.5,946.0 L922.5,943.5 L922.7,940.7 L922.9,937.9 L923.2,935.2 L923.4,932.4 L923.6,929.6 L924.1,926.8 L924.5,924.0 L925.0,921.3 L925.4,918.5 L925.9,915.7 L927.0,913.4 L928.2,911.1 L929.8,909.6 L931.3,908.0 L932.9,906.5 L935.2,905.0 L937.5,903.4 L939.8,901.9 L940.7,899.6 L941.5,897.2 L942.4,894.9 L943.3,892.6 L943.9,890.0 L944.5,887.4 L945.0,884.8 L945.6,882.2 L947.1,880.3 L948.7,878.3 L950.2,876.4 L947.7,875.7 L945.1,875.0 L942.6,874.3 L940.0,873.6 L937.5,872.9 L935.2,872.2 L932.9,871.5 L930.5,870.8 L928.2,870.1 L925.9,869.4 L923.0,869.7 L920.1,870.0 L917.3,870.3 L914.4,870.6 L912.1,869.4 L909.7,868.3 L907.4,867.1 L905.1,866.1 L902.8,865.1 L900.5,864.1 L897.9,865.3 L896.8,867.8 L896.6,871.0 L895.9,873.8 L894.3,876.2 L892.1,878.8 L890.0,881.9 L888.6,885.2 L887.3,887.8 L886.1,889.7 L885.0,891.7 L884.0,894.4 L882.9,897.6 L881.2,900.6 L878.7,903.0 L876.1,905.1 L874.5,907.4 L874.1,909.7 L874.1,911.8 L873.5,913.5Z" fill="#a33f44" stroke="#a33f44" stroke-width="0.5"/>
<path d="M886.6,942.0 L884.1,945.1 L882.5,947.7 L881.8,950.3 L881.1,953.2 L880.1,956.2 L878.6,958.8 L877.2,960.6 L875.8,962.3 L874.3,964.4 L872.6,967.1 L871.2,969.9 L870.4,972.2 L872.1,975.4 L873.1,978.6 L874.2,980.6 L876.2,981.7 L879.1,982.9 L882.3,984.8 L884.9,987.2 L886.8,989.3 L888.3,990.7 L890.0,992.1 L891.8,994.4 L893.6,997.6 L895.4,1001.0 L897.6,1003.6 L900.6,1005.3 L903.7,1006.6 L906.2,1008.2 L907.6,1010.1 L908.5,1011.9 L909.9,1013.5 L912.3,1016.1 L914.5,1019.4 L915.1,1016.6 L915.6,1013.8 L916.2,1011.1 L916.7,1008.3 L915.5,1006.0 L914.4,1003.7 L913.2,1001.4 L913.4,998.7 L913.6,996.0 L913.8,993.3 L914.0,990.6 L914.2,987.9 L914.4,985.2 L914.9,982.4 L915.3,979.6 L915.8,976.9 L916.2,974.1 L916.7,971.3 L916.7,968.5 L916.7,965.7 L916.7,963.0 L916.7,960.2 L916.7,957.4 L917.6,955.2 L918.6,952.9 L919.5,950.7 L920.4,948.4 L919.1,947.6 L916.9,948.0 L913.8,948.0 L910.7,947.0 L907.5,945.4 L904.3,943.9 L901.1,943.6 L897.8,944.3 L894.7,945.1 L891.8,944.9 L889.2,943.5Z" fill="#9e3946" stroke="#9e3946" stroke-width="0.5"/>
<path d="M801.2,1042.8 L804.4,1041.5 L807.6,1040.3 L810.5,1039.5 L812.9,1038.8 L814.7,1037.6 L816.1,1035.7 L817.9,1033.9 L820.5,1033.0 L824.3,1032.9 L828.7,1032.8 L832.9,1032.0 L836.0,1030.5 L837.9,1028.8 L839.1,1027.8 L840.6,1027.3 L842.8,1026.7 L846.0,1025.4 L849.6,1023.3 L852.8,1021.1 L855.6,1019.3 L855.2,1018.2 L854.8,1016.6 L854.4,1013.9 L854.1,1010.3 L853.8,1006.2 L853.8,1002.4 L854.1,999.5 L854.6,997.3 L854.9,995.4 L854.6,993.1 L853.5,990.1 L852.0,986.7 L851.0,983.5 L848.6,982.7 L846.6,982.6 L844.5,983.1 L842.0,983.4 L838.9,982.6 L835.7,980.8 L833.1,978.6 L831.3,976.7 L829.8,975.5 L828.0,974.4 L825.2,973.3 L821.6,972.5 L817.8,972.7 L814.1,973.4 L811.0,973.8 L808.3,972.9 L805.8,974.4 L804.1,975.3 L803.4,976.6 L803.0,978.9 L802.0,982.1 L800.0,985.3 L797.6,988.2 L795.6,991.2 L794.2,994.4 L793.0,997.7 L791.2,1000.1 L788.9,1001.7 L786.8,1003.1 L785.2,1005.2 L784.0,1007.9 L785.8,1010.8 L787.1,1014.2 L787.9,1017.7 L788.7,1020.6 L790.1,1022.9 L791.8,1025.0 L793.2,1027.4 L793.8,1030.4 L793.6,1033.5 L793.2,1036.4 L793.5,1038.9 L794.4,1041.1 L797.9,1041.8Z" fill="#a33f44" stroke="#a33f44" stroke-width="0.5"/>
<path d="M687.4,1103.3 L688.1,1106.1 L688.9,1109.1 L689.9,1111.9 L691.2,1114.3 L692.6,1116.7 L693.9,1119.4 L694.7,1122.7 L695.3,1126.2 L695.9,1129.3 L697.0,1131.8 L698.4,1134.1 L699.6,1136.7 L700.0,1140.0 L702.4,1141.9 L704.2,1143.3 L706.0,1143.6 L708.3,1143.1 L711.1,1142.7 L714.3,1143.0 L717.4,1143.8 L720.3,1144.3 L723.3,1144.4 L726.5,1144.7 L730.1,1145.9 L733.7,1148.1 L736.9,1150.1 L739.2,1151.1 L741.0,1151.1 L743.6,1147.8 L745.8,1144.2 L747.0,1141.3 L747.4,1139.0 L748.0,1137.0 L749.4,1135.0 L751.9,1133.4 L754.7,1132.3 L757.4,1130.8 L759.6,1128.3 L761.8,1124.9 L764.1,1121.8 L766.4,1119.7 L768.5,1118.5 L770.3,1117.2 L772.2,1115.4 L774.2,1113.5 L773.9,1110.7 L773.0,1107.7 L771.7,1104.6 L770.4,1101.6 L769.9,1098.7 L770.3,1095.8 L771.0,1092.9 L771.1,1089.9 L770.3,1087.1 L768.8,1084.5 L767.3,1081.8 L766.5,1078.9 L766.7,1075.6 L767.1,1072.2 L764.3,1071.1 L761.6,1070.2 L759.3,1069.3 L757.0,1068.8 L754.3,1068.9 L750.9,1069.3 L746.9,1069.3 L742.9,1068.3 L739.4,1066.6 L736.5,1065.4 L733.9,1065.4 L731.2,1066.3 L728.2,1066.8 L725.1,1066.1 L722.4,1064.7 L720.2,1063.6 L718.2,1063.0 L715.8,1062.4 L712.6,1061.2 L710.9,1062.9 L709.0,1064.2 L707.6,1066.3 L706.6,1069.7 L705.1,1074.0 L702.6,1077.9 L699.4,1080.8 L696.8,1082.9 L695.4,1084.9 L695.0,1087.2 L694.5,1089.6 L693.5,1091.7 L692.0,1094.2 L690.5,1097.2 L689.1,1100.5Z" fill="#842853" stroke="#842853" stroke-width="0.5"/>
<path d="M434.6,953.5 L435.0,956.4 L434.9,959.0 L434.3,961.7 L433.6,964.6 L433.0,967.4 L432.2,970.0 L430.7,972.5 L428.7,975.1 L426.9,977.8 L425.9,980.2 L425.5,982.2 L425.2,984.0 L424.6,986.1 L423.7,989.1 L422.9,992.6 L422.0,996.0 L424.4,997.5 L426.7,999.9 L429.5,1002.1 L432.8,1003.7 L435.9,1005.1 L438.2,1007.2 L439.6,1010.0 L440.7,1012.8 L442.2,1014.7 L444.0,1016.1 L445.8,1017.7 L447.3,1020.3 L448.9,1023.1 L451.0,1021.0 L453.9,1018.5 L457.6,1016.8 L461.5,1016.3 L464.8,1016.3 L467.5,1015.9 L469.8,1014.4 L472.2,1012.3 L474.9,1010.1 L477.8,1008.5 L480.5,1007.3 L482.8,1006.5 L484.8,1005.8 L486.8,1005.4 L489.3,1005.0 L490.4,1003.1 L491.7,1000.3 L493.0,997.0 L494.0,993.8 L495.3,991.3 L497.2,989.5 L499.6,987.8 L501.8,985.5 L503.2,982.7 L503.8,979.8 L501.3,976.8 L499.6,974.3 L498.9,972.4 L498.6,970.5 L497.7,968.5 L495.8,966.3 L493.5,964.1 L491.6,961.7 L490.5,958.9 L490.0,955.5 L489.7,951.5 L489.3,947.8 L488.7,944.7 L485.2,945.4 L481.4,946.5 L477.7,947.4 L474.6,947.9 L472.2,947.9 L470.2,947.8 L468.2,948.0 L465.9,948.5 L463.1,949.1 L459.9,949.5 L456.5,949.6 L453.1,949.6 L449.9,949.8 L446.8,950.4 L443.6,951.3 L440.5,952.4 L437.4,953.2Z" fill="#b07e56" stroke="#b07e56" stroke-width="0.5"/>
<path d="M820.8,1182.0 L818.7,1185.0 L817.0,1187.0 L815.7,1188.5 L814.4,1190.5 L812.8,1193.6 L811.1,1197.2 L809.7,1200.3 L808.5,1202.8 L806.9,1205.0 L804.5,1207.4 L801.6,1209.5 L799.2,1211.2 L798.0,1212.9 L797.6,1215.4 L799.2,1217.7 L800.7,1219.7 L802.6,1221.8 L804.9,1224.1 L807.3,1226.6 L809.1,1228.9 L810.5,1230.8 L812.2,1232.4 L814.4,1234.0 L816.8,1235.9 L818.9,1238.1 L820.9,1240.6 L823.4,1243.3 L826.6,1246.4 L829.9,1249.5 L832.5,1252.0 L833.9,1253.6 L834.7,1254.9 L835.8,1256.4 L837.4,1258.3 L839.2,1260.4 L841.0,1262.2 L842.9,1263.8 L845.4,1265.9 L849.0,1266.1 L852.1,1266.8 L854.6,1267.5 L856.8,1267.9 L859.0,1267.8 L861.6,1267.4 L865.0,1266.9 L868.9,1266.3 L872.7,1265.9 L875.9,1265.9 L878.5,1266.8 L880.5,1268.3 L882.6,1269.6 L885.2,1269.9 L888.4,1268.9 L891.9,1267.4 L895.3,1267.3 L898.0,1269.2 L897.3,1266.7 L896.5,1264.1 L894.0,1263.3 L891.6,1262.5 L889.1,1261.6 L886.7,1260.8 L884.2,1260.0 L882.9,1257.4 L881.7,1254.8 L880.4,1252.2 L878.8,1249.9 L877.1,1247.6 L875.5,1245.3 L873.9,1243.0 L876.2,1242.0 L878.5,1241.1 L880.8,1240.2 L883.1,1239.2 L885.5,1238.3 L887.8,1237.4 L889.6,1236.2 L891.5,1234.9 L893.3,1233.7 L895.6,1232.8 L898.0,1231.8 L900.3,1230.9 L902.6,1230.0 L902.8,1227.7 L903.0,1225.3 L903.3,1223.0 L903.5,1220.7 L904.4,1217.9 L905.4,1215.2 L906.3,1212.4 L904.4,1210.9 L902.6,1209.3 L900.7,1207.8 L898.9,1206.0 L897.0,1204.1 L895.1,1202.2 L893.3,1200.4 L892.4,1198.1 L891.5,1195.8 L890.5,1193.4 L889.6,1191.1 L887.5,1189.2 L885.5,1187.4 L883.4,1185.5 L881.3,1183.7 L881.6,1180.9 L881.9,1178.2 L882.2,1175.4 L884.4,1174.4 L881.4,1174.2 L877.8,1173.5 L874.5,1174.2 L871.4,1175.1 L868.8,1175.7 L866.4,1176.4 L864.2,1177.2 L861.8,1178.2 L859.0,1178.7 L855.8,1178.4 L852.3,1177.5 L848.8,1176.6 L845.7,1176.5 L843.0,1177.4 L840.6,1179.0 L838.2,1180.5 L835.7,1181.3 L832.8,1181.2 L829.8,1180.9 L826.8,1180.7 L823.8,1181.2Z" fill="#842853" stroke="#842853" stroke-width="0.5"/>
<path d="M822.8,1126.9 L821.7,1130.0 L820.7,1133.6 L820.5,1137.5 L821.9,1140.8 L822.2,1144.0 L822.7,1146.8 L823.0,1148.8 L822.7,1150.6 L822.2,1153.1 L821.9,1156.5 L821.7,1160.6 L821.7,1164.5 L821.8,1167.7 L822.1,1170.1 L822.3,1172.3 L822.1,1174.9 L821.5,1178.3 L820.8,1182.0 L823.8,1181.2 L826.8,1180.7 L829.8,1180.9 L832.8,1181.2 L835.7,1181.3 L838.2,1180.5 L840.6,1179.0 L843.0,1177.4 L845.7,1176.5 L848.8,1176.6 L852.3,1177.5 L855.8,1178.4 L859.0,1178.7 L861.8,1178.2 L864.2,1177.2 L866.4,1176.4 L868.8,1175.7 L871.4,1175.1 L874.5,1174.2 L877.8,1173.5 L881.4,1174.2 L884.4,1174.4 L887.1,1173.1 L889.7,1171.9 L892.4,1170.7 L892.4,1167.9 L892.4,1165.2 L892.4,1162.4 L892.4,1159.6 L890.2,1158.4 L888.1,1157.1 L885.9,1155.9 L885.3,1153.4 L884.7,1151.0 L884.1,1148.5 L882.7,1146.7 L881.3,1144.8 L879.9,1142.9 L878.5,1141.1 L878.5,1138.3 L878.5,1135.5 L878.5,1132.8 L878.5,1130.0 L877.6,1127.9 L876.6,1125.8 L875.7,1123.8 L874.8,1121.7 L871.8,1121.7 L868.9,1121.7 L865.9,1121.7 L863.0,1121.7 L860.0,1121.7 L857.4,1122.4 L854.8,1123.2 L852.2,1123.9 L849.6,1124.7 L847.0,1125.4 L844.5,1125.7 L842.1,1126.0 L839.6,1126.3 L839.2,1128.9 L838.9,1131.5 L838.5,1134.1 L838.2,1136.7 L837.8,1139.3 L836.0,1141.2 L834.1,1143.0 L831.8,1143.7 L829.5,1144.3 L827.1,1145.0 L824.8,1145.7 L824.3,1143.4 L823.9,1141.1 L826.2,1139.2 L828.5,1137.4 L830.8,1135.5 L833.1,1133.7 L833.4,1130.9 L833.8,1128.2 L834.1,1125.4 L832.7,1123.6 L831.2,1121.8 L829.5,1123.1 L827.7,1124.4 L825.6,1125.8Z" fill="#842853" stroke="#842853" stroke-width="0.5"/>
<path d="M468.2,852.1 L470.5,853.0 L472.8,853.8 L475.3,853.4 L478.1,851.9 L481.3,850.4 L484.5,850.0 L487.7,850.7 L490.7,851.7 L493.6,851.9 L496.5,851.5 L499.5,851.1 L502.6,851.4 L505.6,852.3 L508.4,852.7 L510.9,852.3 L513.2,851.6 L515.7,851.4 L518.3,852.1 L521.3,853.1 L524.4,853.4 L527.4,852.5 L530.3,851.2 L532.9,850.5 L535.6,850.8 L538.5,851.6 L541.9,852.1 L545.6,852.0 L545.7,849.1 L546.1,846.0 L547.2,843.1 L549.0,840.8 L550.9,839.0 L552.4,837.4 L553.1,835.4 L553.4,832.9 L553.7,830.1 L551.8,826.6 L549.9,822.8 L548.6,819.4 L547.8,816.8 L547.5,814.9 L547.1,812.8 L546.5,810.2 L545.6,806.8 L544.4,803.4 L543.1,800.4 L541.5,798.1 L540.0,796.1 L539.0,793.6 L538.7,790.5 L538.8,787.1 L538.7,784.0 L537.9,781.6 L536.2,779.4 L534.9,776.2 L533.0,778.1 L531.1,780.0 L529.2,781.9 L527.4,783.7 L525.5,785.5 L523.7,787.4 L521.9,789.2 L520.0,791.1 L518.3,793.0 L516.6,795.0 L515.0,797.0 L513.3,798.9 L510.7,799.8 L508.1,800.7 L505.5,801.6 L503.0,802.6 L500.4,803.5 L497.8,804.4 L495.0,805.2 L492.2,806.1 L489.5,806.9 L486.7,807.8 L483.9,808.6 L481.2,809.4 L478.4,810.3 L475.6,811.1 L473.0,812.4 L470.4,813.7 L467.8,815.0 L465.2,816.3 L462.6,817.6 L460.0,818.9 L458.7,821.0 L457.4,823.1 L456.1,825.1 L454.9,827.2 L453.6,829.3 L454.4,831.4 L456.9,833.1 L459.3,835.2 L460.7,837.7 L461.5,840.9 L462.6,844.3 L464.4,847.4 L466.4,849.9Z" fill="#ab946a" stroke="#ab946a" stroke-width="0.5"/>
<path d="M611.4,957.8 L614.2,959.5 L617.1,960.8 L619.7,961.8 L622.3,962.8 L625.1,964.3 L628.4,966.1 L631.7,967.9 L634.6,969.1 L636.8,967.9 L638.8,966.6 L640.8,965.6 L642.7,964.7 L644.8,963.7 L647.1,962.4 L649.4,960.7 L651.8,958.9 L654.0,957.0 L656.0,954.8 L658.0,952.5 L658.3,949.2 L659.3,946.4 L661.4,944.4 L664.0,942.6 L666.1,940.5 L667.2,937.8 L667.4,935.0 L667.8,932.9 L668.8,931.3 L670.0,929.6 L670.9,927.0 L671.5,923.4 L672.5,919.4 L672.6,916.7 L672.8,913.7 L672.7,910.5 L669.2,908.8 L665.4,907.3 L661.9,906.1 L659.1,905.3 L656.5,904.9 L653.5,905.2 L650.0,905.4 L646.5,904.8 L643.5,903.2 L641.1,901.5 L638.9,900.6 L636.1,900.1 L632.9,899.0 L629.5,896.5 L626.4,893.6 L623.8,891.6 L621.3,891.3 L618.7,891.9 L616.1,892.3 L613.8,891.7 L613.2,894.2 L612.5,895.8 L611.1,896.9 L608.9,898.6 L606.6,900.8 L605.0,903.3 L604.6,905.4 L604.4,907.6 L605.9,910.5 L605.8,914.0 L605.0,917.5 L604.7,920.8 L605.6,923.7 L607.4,926.6 L608.9,929.7 L609.3,932.9 L608.7,935.8 L607.8,938.3 L607.8,940.5 L608.7,942.7 L610.1,945.3 L611.1,948.5 L611.2,951.9 L611.1,955.1Z" fill="#a84a40" stroke="#a84a40" stroke-width="0.5"/>
<path d="M546.8,867.0 L545.0,869.8 L542.9,872.2 L541.3,874.6 L540.6,877.2 L540.5,879.9 L540.1,882.2 L538.6,883.9 L536.2,885.5 L533.7,888.0 L532.0,891.6 L530.8,895.8 L529.8,899.4 L528.6,902.1 L527.1,904.0 L525.7,905.9 L524.1,907.9 L526.3,911.0 L529.2,912.6 L532.4,913.2 L535.2,914.1 L537.5,915.8 L539.7,918.2 L542.1,920.5 L544.4,922.5 L546.2,924.6 L547.3,927.0 L548.5,929.3 L550.5,930.7 L553.0,931.4 L555.5,932.1 L557.4,930.6 L560.2,929.8 L563.2,929.0 L565.7,927.5 L567.4,925.0 L569.0,922.3 L570.9,920.1 L573.4,918.8 L576.1,917.8 L578.5,916.7 L580.3,915.2 L577.6,912.4 L574.7,908.8 L572.7,905.2 L571.9,902.3 L571.6,900.2 L570.8,898.4 L568.9,896.3 L566.6,893.9 L564.5,891.8 L562.6,890.2 L560.6,888.4 L558.1,886.0 L555.7,882.6 L553.8,879.0 L552.4,876.0 L550.9,874.0 L549.3,872.2 L547.8,869.9Z" fill="#a84a40" stroke="#a84a40" stroke-width="0.5"/>
<path d="M446.5,1069.8 L444.7,1068.1 L443.2,1066.4 L441.6,1064.8 L439.2,1065.5 L437.0,1066.6 L434.6,1067.6 L431.7,1068.4 L428.3,1069.2 L424.6,1070.0 L421.1,1070.6 L418.0,1070.8 L415.4,1070.5 L412.9,1070.1 L410.1,1070.1 L407.0,1070.7 L403.6,1071.9 L400.3,1073.5 L397.3,1075.1 L394.7,1076.6 L392.9,1078.3 L391.6,1080.0 L391.5,1082.1 L392.1,1085.1 L392.8,1088.4 L392.8,1091.7 L392.2,1094.8 L391.2,1097.7 L390.3,1100.6 L389.3,1103.6 L388.4,1106.5 L387.7,1109.2 L387.5,1111.8 L387.6,1114.6 L387.3,1117.7 L386.3,1120.8 L384.8,1123.7 L383.9,1126.4 L384.0,1129.2 L384.7,1132.5 L384.9,1136.3 L384.1,1140.1 L386.1,1141.8 L387.8,1142.4 L389.7,1141.5 L392.3,1140.1 L395.5,1139.6 L398.8,1141.0 L401.8,1143.8 L404.4,1146.6 L407.2,1148.7 L410.6,1149.8 L414.5,1150.5 L418.4,1150.8 L421.5,1150.9 L423.5,1151.0 L424.9,1151.6 L426.3,1153.0 L428.2,1152.8 L430.5,1153.0 L433.2,1153.0 L436.3,1152.2 L439.6,1150.5 L443.0,1148.4 L446.3,1146.4 L447.0,1143.6 L446.4,1141.1 L445.4,1138.6 L445.1,1135.9 L445.8,1133.2 L446.9,1130.6 L447.4,1128.0 L446.9,1125.2 L445.6,1121.9 L444.5,1118.1 L444.1,1114.1 L444.1,1110.3 L444.4,1107.2 L444.6,1105.1 L445.0,1103.4 L445.5,1101.6 L446.0,1099.2 L446.1,1096.1 L445.7,1092.5 L445.1,1088.8 L444.9,1085.5 L445.2,1082.3 L445.9,1079.2 L446.4,1075.9 L446.5,1072.7Z" fill="#aa5540" stroke="#aa5540" stroke-width="0.5"/>
<path d="M553.7,830.1 L556.9,830.0 L560.0,829.1 L562.9,827.8 L565.7,826.7 L568.5,826.2 L571.2,826.3 L573.9,826.6 L576.5,826.6 L579.1,826.4 L581.7,826.3 L584.3,826.2 L587.0,826.2 L589.9,825.8 L593.0,825.0 L596.4,824.0 L600.0,823.3 L603.4,823.0 L606.5,822.8 L609.0,822.4 L611.0,822.0 L612.9,821.8 L615.2,822.4 L618.1,823.3 L621.8,823.5 L623.6,821.0 L625.3,818.1 L626.9,815.2 L628.4,812.6 L629.8,810.1 L631.0,807.3 L631.6,804.1 L632.0,800.8 L630.5,798.9 L628.4,797.2 L625.9,795.7 L623.6,793.9 L621.9,791.7 L620.6,789.2 L619.3,786.6 L617.8,784.5 L616.4,782.8 L615.5,781.1 L614.7,778.9 L613.5,776.2 L611.5,773.4 L608.7,772.8 L605.6,772.5 L602.3,772.7 L599.0,773.3 L595.8,773.9 L592.8,774.2 L589.9,774.0 L587.1,773.5 L584.3,772.9 L581.6,772.6 L579.0,772.7 L576.4,773.3 L573.6,774.3 L570.5,775.2 L566.9,775.6 L563.0,775.4 L559.0,774.9 L555.4,774.5 L552.5,774.3 L550.2,774.3 L548.3,774.4 L546.4,774.7 L543.9,775.2 L540.3,775.1 L536.7,774.4 L534.9,776.2 L536.2,779.4 L537.9,781.6 L538.7,784.0 L538.8,787.1 L538.7,790.5 L539.0,793.6 L540.0,796.1 L541.5,798.1 L543.1,800.4 L544.4,803.4 L545.6,806.8 L546.5,810.2 L547.1,812.8 L547.5,814.9 L547.8,816.8 L548.6,819.4 L549.9,822.8 L551.8,826.6Z" fill="#ab946a" stroke="#ab946a" stroke-width="0.5"/>
<path d="M571.5,1324.7 L569.8,1325.6 L568.0,1327.1 L566.0,1328.9 L563.8,1330.4 L562.9,1332.9 L561.7,1335.4 L560.2,1338.2 L558.8,1341.1 L557.5,1343.8 L555.9,1345.9 L553.7,1348.0 L551.7,1350.7 L550.6,1354.2 L550.6,1357.8 L550.7,1360.7 L549.8,1363.1 L547.8,1365.5 L545.4,1368.5 L543.6,1371.8 L542.5,1374.8 L541.7,1377.1 L540.8,1379.0 L540.0,1381.2 L539.4,1383.7 L538.9,1386.2 L537.8,1388.7 L536.2,1391.5 L534.9,1395.0 L534.2,1398.9 L537.0,1400.5 L539.3,1402.1 L541.7,1404.3 L544.4,1406.8 L547.3,1408.7 L550.0,1409.2 L552.0,1408.7 L553.6,1407.3 L555.2,1406.8 L557.6,1406.8 L561.0,1406.4 L565.5,1405.4 L570.3,1404.3 L574.7,1403.7 L577.9,1403.8 L579.9,1404.1 L581.2,1403.7 L582.7,1402.2 L584.8,1399.9 L587.7,1397.5 L591.0,1396.0 L594.3,1395.5 L597.3,1395.7 L600.2,1396.2 L603.2,1396.7 L606.5,1396.6 L609.9,1395.9 L613.0,1394.5 L615.6,1392.6 L617.6,1391.1 L619.5,1390.3 L619.7,1387.3 L620.4,1384.3 L621.9,1381.3 L624.0,1378.3 L625.9,1375.8 L626.7,1373.8 L626.6,1372.0 L625.9,1370.0 L625.3,1367.3 L625.1,1364.1 L622.8,1362.2 L620.5,1360.1 L618.1,1358.2 L616.1,1356.9 L614.7,1355.9 L613.7,1354.6 L612.1,1352.6 L609.3,1350.3 L605.6,1348.5 L601.9,1347.3 L598.9,1346.3 L596.6,1344.5 L594.4,1342.1 L592.3,1339.9 L590.3,1338.5 L588.5,1337.6 L586.5,1336.1 L583.7,1333.7 L580.2,1331.0 L576.6,1329.1 L573.9,1327.9 L572.5,1326.6Z" fill="#842853" stroke="#842853" stroke-width="0.5"/>
<path d="M506.0,1307.0 L504.6,1310.0 L502.9,1312.7 L501.5,1314.6 L500.6,1316.1 L499.9,1318.0 L499.0,1320.9 L497.6,1324.6 L496.3,1328.2 L495.5,1331.0 L495.1,1333.2 L494.4,1335.3 L492.9,1337.7 L490.6,1340.3 L488.3,1342.8 L486.4,1345.2 L487.6,1348.1 L489.2,1351.1 L491.1,1354.1 L492.8,1356.7 L493.9,1358.7 L494.9,1360.1 L496.3,1361.9 L498.2,1364.7 L499.9,1368.5 L500.9,1372.4 L501.5,1375.4 L502.4,1377.3 L504.2,1378.6 L506.8,1380.4 L509.1,1383.1 L510.7,1386.2 L511.6,1389.1 L512.7,1391.5 L514.1,1393.9 L515.6,1396.7 L516.6,1399.9 L519.0,1399.8 L521.5,1399.6 L524.1,1399.5 L526.7,1399.5 L529.2,1399.5 L531.7,1399.4 L534.2,1398.9 L534.9,1395.0 L536.2,1391.5 L537.8,1388.7 L538.9,1386.2 L539.4,1383.7 L540.0,1381.2 L540.8,1379.0 L541.7,1377.1 L542.5,1374.8 L543.6,1371.8 L545.4,1368.5 L547.8,1365.5 L549.8,1363.1 L550.7,1360.7 L550.6,1357.8 L550.6,1354.2 L551.7,1350.7 L553.7,1348.0 L555.9,1345.9 L557.5,1343.8 L558.8,1341.1 L560.2,1338.2 L561.7,1335.4 L562.9,1332.9 L563.8,1330.4 L560.5,1329.0 L557.2,1326.9 L554.4,1324.3 L552.2,1322.4 L549.9,1322.0 L547.1,1322.7 L543.7,1323.1 L540.2,1322.2 L536.7,1320.2 L533.6,1318.3 L530.6,1317.2 L527.8,1316.7 L525.2,1316.1 L523.3,1315.2 L522.0,1314.3 L520.7,1313.5 L518.7,1312.5 L515.8,1311.1 L512.4,1309.5 L509.1,1308.1Z" fill="#8f2b4e" stroke="#8f2b4e" stroke-width="0.5"/>
<path d="M882.8,1361.7 L879.7,1362.4 L876.5,1363.3 L873.3,1363.8 L870.2,1363.2 L867.0,1362.2 L863.9,1361.6 L860.8,1361.9 L857.9,1362.5 L855.3,1362.5 L852.9,1361.9 L850.6,1361.4 L848.1,1361.9 L845.2,1363.6 L841.8,1365.2 L838.2,1365.3 L834.5,1363.5 L831.1,1361.0 L828.2,1359.5 L825.6,1359.7 L824.9,1362.1 L823.8,1365.2 L822.2,1368.5 L820.2,1371.5 L818.2,1374.2 L818.2,1378.1 L818.7,1381.6 L819.2,1384.5 L819.0,1386.6 L818.3,1388.1 L817.5,1389.6 L816.9,1391.7 L816.7,1394.8 L816.6,1398.6 L816.5,1402.5 L816.5,1405.8 L816.4,1408.2 L816.2,1410.1 L815.8,1412.1 L815.1,1414.6 L814.7,1417.6 L814.8,1420.5 L815.4,1423.5 L815.1,1427.0 L817.1,1428.0 L819.1,1429.0 L820.4,1431.1 L821.8,1433.1 L823.1,1435.2 L825.8,1435.9 L828.6,1436.5 L831.3,1437.2 L833.8,1436.7 L836.4,1436.2 L839.0,1435.7 L841.5,1435.2 L844.2,1435.9 L846.9,1436.5 L849.6,1437.2 L851.0,1435.2 L852.3,1433.1 L853.7,1431.1 L856.4,1431.1 L859.1,1431.1 L861.8,1431.1 L863.8,1429.0 L865.9,1427.0 L868.3,1426.6 L870.8,1426.2 L873.2,1425.8 L875.7,1425.4 L878.1,1425.0 L880.1,1423.6 L882.2,1422.3 L884.2,1420.9 L884.7,1418.4 L885.2,1415.8 L885.8,1413.2 L886.3,1410.7 L887.0,1408.0 L887.6,1405.3 L888.3,1402.6 L890.3,1401.6 L892.4,1400.5 L894.5,1399.5 L896.5,1398.5 L898.0,1396.5 L899.5,1394.4 L901.1,1392.3 L902.6,1390.3 L904.8,1389.4 L902.0,1387.7 L900.5,1384.7 L900.2,1381.8 L899.9,1379.4 L898.5,1377.4 L895.4,1376.0 L891.6,1375.1 L888.1,1374.1 L885.8,1372.1 L884.4,1368.8 L883.5,1365.0Z" fill="#a84a40" stroke="#a84a40" stroke-width="0.5"/>
<path d="M819.4,1309.4 L817.6,1308.9 L815.2,1308.6 L812.0,1309.1 L808.0,1310.4 L803.6,1311.5 L799.3,1311.5 L795.5,1310.4 L792.6,1309.5 L790.3,1309.8 L788.4,1311.6 L786.4,1313.8 L784.0,1314.8 L781.2,1314.1 L778.1,1312.4 L774.8,1311.3 L771.3,1311.8 L767.7,1313.4 L764.1,1314.9 L760.6,1315.2 L757.5,1314.5 L754.9,1313.8 L752.7,1313.9 L752.1,1315.2 L752.4,1319.1 L752.4,1322.9 L752.5,1325.9 L753.1,1328.2 L754.1,1330.2 L754.7,1332.4 L754.4,1335.4 L753.4,1339.1 L752.3,1342.8 L751.6,1346.1 L751.7,1348.8 L752.1,1351.2 L752.5,1354.0 L752.8,1357.4 L753.3,1361.2 L755.8,1361.5 L758.3,1361.1 L760.7,1360.8 L763.5,1361.3 L766.6,1362.7 L770.3,1363.9 L774.0,1364.3 L777.6,1364.1 L780.7,1364.2 L783.5,1365.0 L786.3,1366.2 L789.2,1366.8 L792.4,1366.8 L795.4,1366.8 L798.2,1367.7 L800.7,1369.1 L803.1,1370.0 L805.6,1369.9 L808.1,1369.2 L810.5,1369.2 L812.9,1370.5 L815.4,1372.5 L818.2,1374.2 L820.2,1371.5 L822.2,1368.5 L823.8,1365.2 L824.9,1362.1 L825.6,1359.7 L824.6,1358.3 L823.8,1357.0 L823.4,1355.0 L823.4,1352.2 L823.5,1348.7 L823.4,1345.1 L823.0,1342.1 L822.5,1339.6 L822.2,1337.3 L822.1,1334.7 L822.0,1331.7 L821.3,1328.4 L820.2,1325.3 L818.7,1322.7 L817.7,1320.4 L817.7,1318.2 L818.4,1315.7 L819.3,1312.7Z" fill="#702258" stroke="#702258" stroke-width="0.5"/>
<path d="M384.1,1140.1 L384.9,1136.3 L384.7,1132.5 L384.0,1129.2 L383.9,1126.4 L384.8,1123.7 L386.3,1120.8 L387.3,1117.7 L387.6,1114.6 L387.5,1111.8 L387.7,1109.2 L388.4,1106.5 L389.3,1103.6 L390.3,1100.6 L391.2,1097.7 L392.2,1094.8 L392.8,1091.7 L392.8,1088.4 L392.1,1085.1 L391.5,1082.1 L391.6,1080.0 L392.9,1078.3 L394.7,1076.6 L393.9,1075.8 L392.6,1073.6 L390.2,1070.2 L386.9,1066.7 L383.6,1064.1 L380.8,1062.4 L378.5,1060.9 L376.2,1059.2 L373.7,1057.8 L371.3,1057.0 L369.0,1058.7 L366.5,1059.8 L364.0,1060.0 L361.2,1059.5 L358.3,1059.1 L355.3,1059.8 L352.3,1061.9 L349.6,1064.8 L347.1,1067.3 L344.6,1068.8 L341.6,1069.3 L338.2,1069.5 L334.5,1070.2 L330.9,1071.2 L328.0,1072.1 L326.0,1072.7 L324.5,1073.0 L322.8,1073.4 L320.6,1074.2 L317.7,1075.3 L314.4,1076.3 L311.4,1077.2 L308.8,1078.3 L306.4,1079.9 L303.4,1080.8 L304.9,1082.9 L306.4,1085.0 L307.9,1087.1 L309.4,1089.2 L310.9,1091.3 L312.7,1093.6 L314.4,1096.0 L316.2,1098.3 L317.4,1100.7 L318.6,1103.1 L319.7,1105.5 L320.9,1107.9 L322.1,1110.4 L323.3,1112.8 L324.4,1115.2 L325.6,1117.6 L326.8,1120.0 L329.0,1121.1 L331.1,1122.2 L333.3,1123.3 L333.6,1126.0 L334.0,1128.8 L334.3,1131.5 L334.7,1134.3 L335.0,1137.0 L336.7,1139.3 L338.3,1141.5 L340.0,1143.8 L341.6,1146.0 L343.3,1148.3 L344.3,1151.1 L345.4,1153.8 L349.8,1152.9 L353.2,1152.3 L355.2,1151.0 L357.0,1149.3 L359.1,1147.6 L361.6,1146.1 L364.1,1144.9 L366.5,1143.6 L368.7,1142.3 L371.1,1141.4 L374.0,1141.0 L377.4,1140.9 L380.9,1140.7Z" fill="#ac6f4c" stroke="#ac6f4c" stroke-width="0.5"/>
<path d="M479.8,1156.6 L482.2,1154.5 L484.8,1151.4 L487.3,1148.3 L489.7,1146.2 L491.8,1145.2 L494.0,1144.5 L496.5,1143.1 L499.1,1141.0 L501.4,1139.0 L503.2,1137.3 L504.7,1135.7 L506.5,1133.8 L508.8,1131.8 L511.5,1130.0 L514.0,1128.6 L513.9,1126.0 L512.9,1123.4 L511.1,1120.9 L509.1,1118.3 L507.5,1115.4 L506.6,1112.0 L506.1,1108.5 L505.4,1105.3 L504.4,1102.5 L503.2,1099.9 L502.3,1097.3 L501.9,1094.4 L501.9,1091.2 L501.9,1087.8 L501.8,1084.6 L498.3,1083.1 L495.2,1082.3 L492.6,1082.5 L490.2,1083.1 L487.6,1083.0 L484.7,1082.0 L481.4,1080.8 L478.0,1079.9 L474.4,1079.3 L470.7,1078.2 L467.0,1076.3 L463.8,1074.4 L461.4,1073.6 L459.8,1074.2 L458.3,1075.1 L456.4,1074.8 L453.5,1073.3 L450.0,1071.3 L446.5,1069.8 L446.5,1072.7 L446.4,1075.9 L445.9,1079.2 L445.2,1082.3 L444.9,1085.5 L445.1,1088.8 L445.7,1092.5 L446.1,1096.1 L446.0,1099.2 L445.5,1101.6 L445.0,1103.4 L444.6,1105.1 L444.4,1107.2 L444.1,1110.3 L444.1,1114.1 L444.5,1118.1 L445.6,1121.9 L446.9,1125.2 L447.4,1128.0 L446.9,1130.6 L445.8,1133.2 L445.1,1135.9 L445.4,1138.6 L446.4,1141.1 L447.0,1143.6 L446.3,1146.4 L448.6,1146.8 L450.7,1147.8 L453.1,1149.1 L456.0,1150.4 L459.0,1151.7 L461.7,1152.7 L463.9,1153.2 L465.5,1153.1 L467.1,1152.6 L469.2,1152.8 L472.3,1153.8 L476.0,1155.4Z" fill="#ac5c43" stroke="#ac5c43" stroke-width="0.5"/>
<path d="M494.4,1205.1 L496.4,1206.4 L497.7,1207.6 L498.8,1208.6 L500.2,1209.0 L502.5,1208.9 L505.6,1209.0 L508.9,1210.2 L512.1,1212.5 L515.1,1214.9 L518.1,1216.1 L521.0,1216.1 L524.3,1213.7 L526.4,1211.6 L527.6,1209.8 L528.9,1208.5 L530.9,1208.0 L533.3,1207.2 L535.6,1205.3 L537.3,1202.1 L538.9,1198.7 L541.3,1196.4 L544.6,1195.4 L548.4,1194.7 L551.6,1193.4 L553.7,1191.6 L555.0,1189.6 L556.4,1187.5 L558.5,1185.0 L561.2,1182.2 L563.9,1179.9 L566.3,1178.5 L568.5,1177.6 L571.1,1176.2 L574.1,1173.9 L577.2,1171.2 L579.8,1168.8 L581.7,1166.6 L583.3,1164.1 L584.9,1161.3 L585.0,1158.6 L585.0,1156.5 L585.0,1155.0 L585.1,1154.0 L584.3,1152.9 L583.9,1151.2 L583.6,1148.3 L582.9,1144.3 L579.7,1142.3 L576.1,1140.8 L572.8,1140.2 L569.9,1140.1 L567.4,1140.1 L564.7,1139.9 L561.5,1139.3 L557.9,1138.0 L554.3,1136.1 L551.2,1134.5 L549.0,1134.1 L547.4,1135.0 L545.8,1136.3 L543.8,1136.4 L541.2,1135.0 L538.0,1133.0 L534.3,1131.3 L530.4,1130.4 L526.4,1129.6 L522.6,1128.8 L519.5,1128.1 L517.3,1128.2 L515.6,1128.7 L514.0,1128.6 L511.5,1130.0 L508.8,1131.8 L506.5,1133.8 L504.7,1135.7 L503.2,1137.3 L501.4,1139.0 L499.1,1141.0 L496.5,1143.1 L494.0,1144.5 L491.8,1145.2 L489.7,1146.2 L487.3,1148.3 L484.8,1151.4 L482.2,1154.5 L479.8,1156.6 L481.5,1158.7 L482.5,1160.4 L483.1,1162.6 L483.6,1165.7 L484.4,1169.6 L485.3,1173.6 L486.1,1176.8 L486.2,1178.7 L485.8,1179.8 L485.3,1181.2 L485.4,1183.5 L486.5,1187.1 L488.4,1191.5 L490.8,1195.9 L492.9,1199.8 L494.2,1202.8Z" fill="#a33f44" stroke="#a33f44" stroke-width="0.5"/>
<path d="M851.0,983.5 L853.1,982.3 L855.9,981.6 L859.3,980.5 L862.8,978.7 L865.8,976.4 L868.0,974.4 L869.3,973.0 L870.4,972.2 L871.2,969.9 L872.6,967.1 L874.3,964.4 L875.8,962.3 L877.2,960.6 L878.6,958.8 L880.1,956.2 L881.1,953.2 L881.8,950.3 L882.5,947.7 L884.1,945.1 L886.6,942.0 L885.9,939.0 L884.3,937.2 L882.1,936.1 L879.9,934.7 L878.0,932.5 L876.3,929.5 L874.9,926.5 L873.7,923.8 L872.9,921.3 L872.5,918.6 L871.7,915.5 L869.1,914.5 L866.2,914.5 L863.0,917.1 L860.2,919.6 L857.4,920.8 L854.3,921.0 L850.8,921.2 L847.1,922.2 L843.9,924.0 L841.6,925.5 L840.2,926.3 L839.1,926.6 L837.4,927.3 L834.6,928.7 L830.6,930.5 L826.2,931.8 L822.0,932.1 L818.5,932.2 L815.9,932.8 L813.8,934.4 L811.9,936.3 L809.7,937.7 L807.1,938.3 L804.1,938.6 L804.2,941.9 L804.7,944.9 L805.7,947.4 L806.8,949.5 L807.3,951.7 L807.3,954.2 L807.2,957.3 L807.2,960.8 L807.7,964.3 L808.3,967.4 L808.6,970.2 L808.3,972.9 L811.0,973.8 L814.1,973.4 L817.8,972.7 L821.6,972.5 L825.2,973.3 L828.0,974.4 L829.8,975.5 L831.3,976.7 L833.1,978.6 L835.7,980.8 L838.9,982.6 L842.0,983.4 L844.5,983.1 L846.6,982.6 L848.6,982.7Z" fill="#ac5c43" stroke="#ac5c43" stroke-width="0.5"/>
<path d="M658.0,952.5 L656.0,954.8 L654.0,957.0 L651.8,958.9 L649.4,960.7 L647.1,962.4 L644.8,963.7 L642.7,964.7 L640.8,965.6 L638.8,966.6 L636.8,967.9 L634.6,969.1 L634.0,971.4 L632.4,973.9 L630.3,976.7 L628.7,980.0 L628.3,983.5 L629.2,986.7 L630.3,989.4 L630.7,991.8 L629.9,994.4 L628.8,997.6 L628.1,1001.2 L628.1,1004.7 L628.3,1007.5 L628.1,1009.7 L627.6,1011.6 L627.4,1014.1 L627.5,1017.4 L627.7,1021.3 L627.2,1025.2 L628.5,1027.7 L629.8,1030.0 L631.2,1031.6 L634.2,1030.9 L636.8,1029.7 L639.3,1029.0 L642.0,1028.9 L645.0,1029.0 L648.2,1029.1 L651.4,1029.0 L654.2,1029.1 L656.7,1029.5 L659.0,1029.9 L661.6,1030.0 L664.7,1029.4 L668.2,1028.7 L671.8,1028.5 L675.1,1029.0 L677.6,1029.7 L679.5,1030.2 L681.2,1030.4 L683.2,1030.7 L686.0,1031.3 L689.6,1032.0 L693.5,1031.8 L697.3,1030.4 L700.4,1028.4 L701.2,1025.0 L702.3,1022.7 L703.3,1021.5 L704.3,1020.8 L705.5,1019.6 L707.1,1017.3 L708.5,1014.4 L709.3,1011.2 L709.6,1008.1 L709.9,1004.9 L711.1,1001.5 L713.2,998.3 L715.4,995.6 L713.4,994.9 L710.9,993.9 L708.4,992.6 L706.2,991.0 L703.9,988.8 L701.3,986.3 L698.5,983.9 L696.2,982.2 L694.6,981.0 L693.4,979.4 L691.5,976.9 L688.7,974.0 L685.2,971.8 L682.0,970.8 L679.3,970.3 L677.1,969.4 L674.9,967.6 L672.8,965.8 L671.0,964.3 L669.6,962.9 L667.7,960.8 L664.9,957.7 L661.4,954.6Z" fill="#aa5540" stroke="#aa5540" stroke-width="0.5"/>
<path d="M870.4,972.2 L869.3,973.0 L868.0,974.4 L865.8,976.4 L862.8,978.7 L859.3,980.5 L855.9,981.6 L853.1,982.3 L851.0,983.5 L852.0,986.7 L853.5,990.1 L854.6,993.1 L854.9,995.4 L854.6,997.3 L854.1,999.5 L853.8,1002.4 L853.8,1006.2 L854.1,1010.3 L854.4,1013.9 L854.8,1016.6 L855.2,1018.2 L855.6,1019.3 L858.0,1019.9 L860.5,1022.1 L862.7,1025.7 L864.6,1029.3 L866.5,1031.7 L868.8,1032.8 L871.8,1033.6 L875.0,1034.9 L877.6,1036.6 L879.2,1038.4 L880.3,1039.4 L883.0,1040.3 L884.4,1038.2 L885.7,1036.1 L887.1,1034.1 L888.5,1032.0 L886.4,1030.0 L884.3,1028.0 L886.0,1026.5 L887.8,1025.1 L889.5,1023.7 L891.2,1022.2 L893.5,1023.4 L895.8,1024.5 L898.1,1025.7 L901.0,1025.1 L903.9,1024.5 L906.8,1024.0 L909.7,1023.4 L912.0,1021.6 L914.4,1019.9 L914.5,1019.4 L912.3,1016.1 L909.9,1013.5 L908.5,1011.9 L907.6,1010.1 L906.2,1008.2 L903.7,1006.6 L900.6,1005.3 L897.6,1003.6 L895.4,1001.0 L893.6,997.6 L891.8,994.4 L890.0,992.1 L888.3,990.7 L886.8,989.3 L884.9,987.2 L882.3,984.8 L879.1,982.9 L876.2,981.7 L874.2,980.6 L873.1,978.6 L872.1,975.4Z" fill="#a33f44" stroke="#a33f44" stroke-width="0.5"/>
<path d="M555.5,932.1 L556.5,934.5 L557.5,937.6 L558.1,941.4 L558.4,945.4 L558.6,949.0 L559.1,951.7 L559.9,953.7 L560.8,955.3 L561.5,957.2 L561.8,959.9 L561.9,963.2 L566.0,963.9 L569.4,963.8 L572.0,962.7 L573.8,961.4 L575.3,960.7 L577.1,960.9 L579.6,961.5 L582.8,961.7 L586.5,960.9 L590.4,959.7 L594.1,959.1 L597.3,959.5 L600.0,960.4 L602.2,960.8 L604.2,960.2 L606.2,958.9 L608.6,957.9 L611.4,957.8 L611.1,955.1 L611.2,951.9 L611.1,948.5 L610.1,945.3 L608.7,942.7 L607.8,940.5 L607.8,938.3 L608.7,935.8 L609.3,932.9 L608.9,929.7 L607.4,926.6 L605.6,923.7 L604.7,920.8 L605.0,917.5 L605.8,914.0 L605.9,910.5 L604.4,907.6 L601.2,908.6 L597.4,910.4 L593.5,912.1 L590.0,913.4 L587.1,914.1 L584.9,914.6 L582.8,914.9 L580.3,915.2 L578.5,916.7 L576.1,917.8 L573.4,918.8 L570.9,920.1 L569.0,922.3 L567.4,925.0 L565.7,927.5 L563.2,929.0 L560.2,929.8 L557.4,930.6Z" fill="#a84a40" stroke="#a84a40" stroke-width="0.5"/>
<path d="M604.4,907.6 L604.6,905.4 L605.0,903.3 L606.6,900.8 L608.9,898.6 L611.1,896.9 L612.5,895.8 L613.2,894.2 L613.8,891.7 L613.2,888.7 L613.1,885.7 L612.9,883.0 L612.2,880.8 L609.4,879.7 L606.6,877.9 L604.1,876.2 L601.9,875.3 L599.6,874.8 L596.7,874.2 L592.9,873.3 L588.9,872.6 L585.4,872.6 L582.7,872.7 L580.7,871.9 L579.1,869.6 L577.4,866.6 L575.3,864.6 L573.0,864.3 L570.3,865.4 L567.2,866.6 L563.5,866.9 L559.7,866.3 L556.1,864.9 L553.3,863.2 L551.2,861.1 L549.1,859.2 L548.3,861.5 L547.6,864.1 L546.8,867.0 L547.8,869.9 L549.3,872.2 L550.9,874.0 L552.4,876.0 L553.8,879.0 L555.7,882.6 L558.1,886.0 L560.6,888.4 L562.6,890.2 L564.5,891.8 L566.6,893.9 L568.9,896.3 L570.8,898.4 L571.6,900.2 L571.9,902.3 L572.7,905.2 L574.7,908.8 L577.6,912.4 L580.3,915.2 L582.8,914.9 L584.9,914.6 L587.1,914.1 L590.0,913.4 L593.5,912.1 L597.4,910.4 L601.2,908.6Z" fill="#a84a40" stroke="#a84a40" stroke-width="0.5"/>
<path d="M616.1,735.6 L618.5,733.1 L620.0,730.3 L621.4,727.9 L623.6,725.9 L626.5,723.7 L628.8,721.4 L628.0,721.5 L626.0,722.2 L624.0,723.0 L622.0,724.0 L620.0,725.0 L618.0,726.0 L616.2,723.8 L614.4,721.6 L612.6,719.4 L610.3,717.8 L607.9,716.3 L605.6,714.7 L605.9,712.4 L606.2,710.1 L606.5,707.8 L606.8,705.5 L605.6,702.9 L604.5,700.4 L603.3,697.8 L602.2,695.3 L601.0,692.7 L598.7,693.6 L596.4,694.6 L594.0,695.5 L591.7,696.5 L589.4,697.4 L586.7,697.9 L584.0,698.4 L581.3,698.9 L578.6,699.4 L575.9,699.9 L573.2,700.4 L570.3,700.9 L567.4,701.3 L564.5,701.8 L561.7,702.2 L558.8,702.6 L555.9,703.1 L553.7,704.8 L551.6,706.4 L549.4,708.1 L547.3,709.7 L545.1,711.4 L543.0,713.0 L540.8,714.7 L540.8,717.5 L540.8,720.3 L540.8,723.1 L542.7,722.8 L546.0,722.8 L549.8,723.7 L553.1,724.9 L555.8,725.7 L558.1,725.9 L560.6,725.7 L563.9,726.1 L567.9,727.2 L572.0,728.2 L575.5,728.5 L578.1,727.9 L579.8,727.6 L581.2,728.4 L583.0,730.1 L585.5,731.6 L588.6,732.2 L591.8,731.9 L594.9,731.6 L597.6,731.9 L600.3,732.4 L603.0,732.4 L605.9,732.1 L609.2,732.3 L612.6,733.7Z" fill="#af8b60" stroke="#af8b60" stroke-width="0.5"/>
<path d="M354.0,1247.6 L353.8,1250.3 L353.7,1252.9 L353.5,1255.6 L353.3,1258.3 L353.2,1261.2 L353.0,1264.1 L352.9,1267.0 L352.7,1269.9 L356.1,1271.2 L358.5,1270.4 L360.5,1270.0 L362.8,1270.8 L365.6,1272.4 L368.7,1274.0 L371.8,1275.3 L374.4,1276.7 L376.5,1278.5 L378.7,1280.3 L381.4,1281.4 L384.7,1281.3 L388.1,1281.0 L391.1,1281.3 L393.3,1282.6 L395.2,1284.3 L397.4,1285.7 L400.4,1286.6 L404.0,1287.6 L407.8,1288.9 L411.7,1287.3 L414.9,1285.5 L417.2,1283.8 L418.6,1282.5 L419.7,1281.6 L421.2,1280.8 L423.2,1279.9 L425.7,1279.0 L428.6,1278.3 L431.6,1278.0 L434.5,1277.4 L437.3,1276.0 L439.9,1273.6 L442.4,1271.0 L444.6,1269.2 L446.0,1266.7 L447.5,1264.7 L448.6,1262.5 L449.4,1259.6 L450.2,1256.2 L451.3,1253.0 L452.3,1250.4 L452.9,1248.2 L453.1,1245.9 L453.4,1243.5 L454.3,1241.0 L455.4,1238.4 L456.3,1235.3 L457.0,1231.4 L458.0,1227.1 L459.6,1223.0 L461.4,1220.2 L459.2,1218.8 L457.1,1218.3 L454.5,1218.5 L451.6,1218.5 L448.9,1217.3 L446.4,1214.9 L443.9,1212.1 L441.2,1209.8 L438.4,1208.2 L436.0,1206.5 L434.5,1204.3 L433.5,1202.1 L432.2,1200.4 L430.2,1199.5 L427.4,1198.7 L424.6,1197.2 L422.3,1195.2 L420.2,1197.1 L417.6,1198.7 L414.6,1200.3 L411.6,1202.4 L409.3,1204.8 L407.7,1206.8 L406.4,1208.4 L404.5,1210.3 L401.8,1212.7 L398.4,1215.4 L395.0,1217.3 L392.3,1218.3 L390.1,1219.1 L388.0,1220.8 L385.6,1223.4 L383.1,1226.0 L381.2,1228.0 L380.0,1229.6 L379.1,1231.2 L377.5,1232.8 L374.7,1234.1 L371.1,1235.0 L367.7,1236.0 L365.2,1237.7 L363.7,1239.9 L362.3,1241.8 L360.4,1243.2 L357.0,1245.2Z" fill="#ac6f4c" stroke="#ac6f4c" stroke-width="0.5"/>
<path d="M613.8,891.7 L616.1,892.3 L618.7,891.9 L621.3,891.3 L623.8,891.6 L626.4,893.6 L629.5,896.5 L632.9,899.0 L636.1,900.1 L638.9,900.6 L641.1,901.5 L643.5,903.2 L646.5,904.8 L650.0,905.4 L653.5,905.2 L656.5,904.9 L659.1,905.3 L661.9,906.1 L665.4,907.3 L669.2,908.8 L672.7,910.5 L673.6,907.3 L673.0,904.4 L671.7,901.5 L670.9,898.7 L671.3,896.2 L672.9,894.1 L674.9,891.8 L676.6,889.1 L678.0,885.9 L678.9,882.5 L679.2,879.5 L678.8,876.9 L678.1,874.5 L677.9,871.9 L678.8,869.3 L680.6,867.0 L678.2,866.2 L675.6,864.9 L672.5,863.8 L669.4,862.8 L666.7,861.5 L664.6,859.8 L662.8,858.1 L660.9,856.8 L658.4,855.7 L655.8,854.4 L653.4,852.9 L651.3,851.6 L649.0,850.8 L645.8,850.1 L641.9,848.6 L637.7,846.7 L634.2,845.4 L631.6,845.0 L629.8,845.2 L628.1,844.6 L627.2,847.9 L626.8,850.3 L626.3,852.2 L625.0,854.2 L622.8,856.4 L620.5,858.7 L618.7,861.1 L617.6,864.0 L616.7,867.5 L615.5,871.5 L614.1,875.0 L613.0,877.5 L612.5,879.2 L612.2,880.8 L612.9,883.0 L613.1,885.7 L613.2,888.7Z" fill="#af8b60" stroke="#af8b60" stroke-width="0.5"/>
<polygon points="361.7,1200.0 368.9,1208.9 382.8,1220.6 385.0,1222.8 390.6,1243.3 405.0,1245.0 420.0,1248.0 436.0,1250.0 436.0,1265.0 442.0,1280.0 432.0,1295.0 425.0,1309.0 421.5,1333.0 407.0,1327.0 391.0,1313.0 364.0,1305.0 346.0,1303.0 348.3,1300.0 352.0,1285.0 353.3,1258.3 355.0,1233.3 357.5,1213.3" fill="#ac5c43" stroke="#ac5c43" stroke-width="0.5"/>
<polygon points="636.9,1229.8 651.1,1223.3 664.1,1223.3 675.7,1227.2 687.4,1225.9 697.8,1227.2 708.2,1223.3 718.5,1227.2 727.6,1237.6 722.4,1245.4 719.8,1254.4 714.6,1260.9 710.7,1268.7 699.1,1272.6 690.0,1281.7 682.2,1273.9 674.4,1270.7 662.8,1275.2 658.9,1263.5 655.0,1253.2 649.8,1238.9 639.4,1232.4" fill="#ac6f4c" stroke="#ac6f4c" stroke-width="0.5"/>
<polygon points="658.9,1263.5 662.8,1275.2 674.4,1270.7 682.2,1273.9 690.0,1281.7 692.6,1290.7 696.5,1302.4 697.8,1311.5 690.7,1314.1 695.2,1321.9 695.2,1337.4 686.1,1334.8 675.7,1336.1 669.3,1340.7 658.9,1333.5 648.5,1329.6 644.6,1316.7 639.4,1303.7 634.3,1290.7 640.7,1272.6 645.9,1271.3 649.8,1266.1" fill="#ada276" stroke="#ada276" stroke-width="0.5"/>
<polygon points="553.3,1126.7 572.2,1128.9 586.7,1127.8 591.1,1135.6 598.9,1141.1 603.3,1148.9 604.4,1160.0 607.8,1167.8 603.3,1176.7 595.6,1183.3 601.1,1191.1 597.8,1195.6 587.8,1197.8 581.1,1195.6 567.8,1192.2 562.2,1193.3 561.1,1186.7 552.2,1180.0 543.3,1178.9 541.1,1171.1 537.8,1160.0 533.3,1152.2 530.0,1145.6 535.6,1131.1 548.9,1130.0" fill="#ab5942" stroke="#ab5942" stroke-width="0.5"/>
<polygon points="750.0,1198.3 768.3,1191.7 786.7,1190.0 800.0,1196.7 806.7,1208.3 820.0,1216.7 825.0,1210.0 833.3,1215.0 840.0,1220.0 836.7,1233.3 840.0,1240.0 846.7,1245.0 853.3,1255.0 855.0,1265.0 841.7,1268.3 830.0,1273.3 821.7,1280.0 813.3,1276.7 798.3,1273.3 796.7,1248.3 776.7,1246.7 778.3,1233.3 766.7,1226.7 750.0,1225.0 748.3,1213.3" fill="#3c1058" stroke="#3c1058" stroke-width="0.5"/>
<polygon points="846.7,1245.0 853.3,1243.3 856.7,1248.3 863.3,1243.3 873.3,1243.3 878.3,1250.0 881.7,1263.3 896.7,1265.0 898.3,1276.7 903.3,1278.3 896.7,1281.7 886.7,1283.3 878.3,1293.3 873.3,1300.0 860.0,1301.7 848.3,1305.0 840.0,1303.3 828.3,1308.3 821.7,1316.7 810.0,1318.3 798.3,1311.7 800.0,1303.3 808.3,1300.0 808.3,1291.7 815.0,1286.7 821.7,1280.0 830.0,1273.3 841.7,1268.3 855.0,1265.0 853.3,1255.0" fill="#b07e56" stroke="#b07e56" stroke-width="0.5"/>
<polygon points="497.0,1366.0 520.4,1363.3 538.5,1368.5 546.3,1385.4 565.7,1403.5 551.5,1408.7 543.7,1417.8 524.3,1421.7 516.5,1435.9 502.2,1437.2 489.3,1454.1 488.0,1461.9 477.6,1460.6 476.3,1473.5 460.7,1473.5 460.7,1455.4 468.5,1447.6 462.0,1430.7 471.1,1415.2 480.2,1406.1 497.0,1404.8 502.2,1394.4 501.0,1378.9" fill="#9a3348" stroke="#9a3348" stroke-width="0.5"/>
<polygon points="957.8,1465.2 962.2,1466.7 965.2,1474.1 966.7,1484.4 966.7,1500.7 972.6,1508.1 974.1,1525.9 977.0,1534.8 977.0,1552.6 971.1,1561.5 970.4,1570.4 969.6,1595.6 965.2,1604.4 962.2,1611.9 962.2,1622.2 954.8,1621.5 948.9,1620.0 948.9,1616.3 940.0,1611.9 929.6,1607.4 925.2,1603.0 926.7,1597.0 931.1,1594.1 917.8,1591.1 922.2,1580.7 920.7,1576.3 911.9,1573.3 911.1,1567.4 916.3,1558.5 907.4,1554.1 905.9,1543.7 911.9,1539.3 904.4,1534.8 904.4,1528.9 908.9,1525.9 911.9,1517.0 914.8,1509.6 919.3,1511.1 923.7,1503.7 934.1,1500.7 940.0,1494.8 948.9,1493.3 954.8,1494.8 954.8,1484.4 953.3,1477.0 952.6,1469.6" fill="#ac6f4c"/>
<polygon points="904.4,1528.9 908.9,1525.9 911.9,1517.0 914.8,1509.6 919.3,1511.1 923.7,1503.7 934.1,1500.7 940.0,1494.8 948.9,1493.3 954.8,1494.8 954.8,1484.4 953.3,1477.0 952.6,1469.6 957.8,1465.2 962.2,1466.7 965.2,1474.1 966.7,1484.4 966.7,1500.7 972.6,1508.1 974.1,1525.9 977.0,1534.8 977.0,1552.6 971.1,1561.5 970.4,1570.4 959.3,1574.8 956.3,1565.9 948.9,1554.1 937.0,1542.2 925.2,1531.9" fill="#ad6346"/>
<polygon points="211.6,703.0 210.0,715.9 212.6,732.1 217.4,764.5 219.1,796.9 214.2,819.6 207.7,839.1 188.3,831.9 160.7,831.0 143.9,823.5 131.6,828.7 108.9,812.5 94.3,790.5 86.9,772.6 92.7,758.0 100.8,741.8 115.4,735.4 131.6,726.3 173.7,723.1 193.1,714.3" fill="#9a3348"/>
<polygon points="603.4,887.2 605.0,899.2 605.4,907.6 602.8,916.3 598.9,914.7 589.2,914.1 585.9,913.1 581.4,909.5 577.8,902.4 579.4,896.6 584.6,892.7 595.0,891.4 600.2,889.4" fill="#9a3348"/>
<polygon points="723.0,1139.6 725.9,1138.9 729.6,1141.1 732.6,1139.6 735.6,1141.1 739.3,1138.1 741.5,1141.1 742.6,1147.0 745.2,1150.0 744.8,1153.7 743.0,1159.6 743.0,1169.3 747.4,1172.2 751.9,1174.4 754.8,1177.4 756.3,1181.1 761.5,1182.6 764.4,1186.3 766.7,1191.5 763.7,1195.2 759.3,1198.1 755.6,1200.4 750.4,1202.6 748.1,1204.1 751.9,1208.5 747.4,1210.7 741.5,1212.2 740.7,1210.0 743.0,1206.3 741.5,1204.1 735.6,1202.6 729.6,1201.1 726.7,1198.1 722.2,1193.7 723.0,1189.3 722.2,1185.6 723.0,1181.1 720.7,1175.9 719.3,1171.5 717.0,1167.0 716.3,1161.1 717.8,1154.4 722.2,1152.2 725.2,1149.3 723.7,1144.8" fill="#030208"/>
<polygon points="334.8,1135.6 342.2,1131.1 351.1,1131.9 357.0,1137.0 360.7,1139.3 358.5,1143.0 354.8,1142.2 348.1,1139.3 342.2,1136.3 337.0,1137.0" fill="#121317"/>
<polygon points="336.0,1143.0 344.4,1145.2 351.1,1150.4 357.0,1151.1 361.5,1154.8 367.4,1159.3 364.4,1160.7 363.0,1163.0 364.4,1168.1 363.0,1172.6 360.0,1170.4 359.3,1163.7 353.3,1160.0 349.6,1157.8 345.9,1154.8 345.2,1151.9 339.3,1148.1" fill="#121317"/>
<polygon points="355.0,1193.5 360.0,1194.4 367.2,1200.0 370.0,1201.1 369.4,1205.6 373.9,1205.6 385.0,1216.1 385.6,1221.1 390.6,1243.3 385.0,1222.8 382.8,1220.6 368.9,1208.9 365.0,1203.0 361.0,1201.5" fill="#121317"/>
<polygon points="354.0,1287.0 358.5,1279.0 363.0,1286.0" fill="#121317"/>
<g font-family="Liberation Sans" font-size="22" fill="#979797" letter-spacing="0.5"><text x="238.5" y="728.5">Paris et la</text><text x="238.5" y="753.5" letter-spacing="0.9">petite couronne</text></g>
<g font-family="Liberation Sans" font-weight="700" font-size="20" fill="#cacaca" stroke="#151515" stroke-width="2.4" stroke-linejoin="round" paint-order="stroke">
<text x="646.4" y="737.6">Lille</text>
<text x="394.1" y="877.9">Saint-Lô</text>
<text x="861.2" y="904.7">Strasbourg</text>
<text x="256.7" y="966.9">Rennes</text>
<text x="764.2" y="1189.4">Lyon</text>
<text x="286.4" y="1274.1">Bordeaux</text>
<text x="426.9" y="1389.7">Toulouse</text>
<text x="948.3" y="1364.7">Nice</text>
</g>
<rect x="627.75" y="727.75" width="9.5" height="9.5" fill="#c8c8c8" stroke="#151515" stroke-width="1.5"/>
<rect x="376.75" y="867.75" width="9.5" height="9.5" fill="#c8c8c8" stroke="#151515" stroke-width="1.5"/>
<rect x="916.75" y="914.75" width="9.5" height="9.5" fill="#c8c8c8" stroke="#151515" stroke-width="1.5"/>
<rect x="339.75" y="956.75" width="9.5" height="9.5" fill="#c8c8c8" stroke="#151515" stroke-width="1.5"/>
<rect x="746.75" y="1179.75" width="8.5" height="8.5" fill="#c8c8c8" stroke="#151515" stroke-width="1.5"/>
<rect x="389.75" y="1263.75" width="9.5" height="9.5" fill="#c8c8c8" stroke="#151515" stroke-width="1.5"/>
<rect x="523.75" y="1380.75" width="9.5" height="9.5" fill="#c8c8c8" stroke="#151515" stroke-width="1.5"/>
<rect x="934.75" y="1355.75" width="8.5" height="8.5" fill="#c8c8c8" stroke="#151515" stroke-width="1.5"/>
</svg>

<div id="sep" class="abs"></div>
<div id="src" class="abs"><span style="letter-spacing:-0.6px">Source : </span><u>Météo-France</u>, décompte par <i>Le Monde</i></div>
</body>
</html>
